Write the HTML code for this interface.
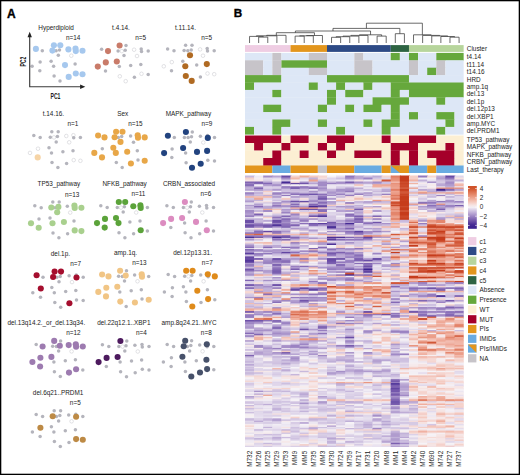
<!DOCTYPE html><html><head><meta charset="utf-8"><style>html,body{margin:0;padding:0;background:#fff;}svg{display:block;font-family:"Liberation Sans",sans-serif}.hm rect{width:10.0px}.hm .lc rect{width:9.11px}</style></head><body><svg width="520" height="475" viewBox="0 0 520 475" fill="#222">
<rect width="520" height="475" fill="#fff"/>
<text x="56.1" y="29.5" text-anchor="middle" font-size="6.4">Hyperdiploid</text>
<text x="80.4" y="39.6" text-anchor="end" font-size="6.4">n=14</text>
<circle cx="42.3" cy="50.8" r="1.75" fill="#b4b4bc"/>
<circle cx="56.1" cy="50.8" r="1.75" fill="#b4b4bc"/>
<circle cx="59.5" cy="50.0" r="1.75" fill="#b4b4bc"/>
<circle cx="58.3" cy="55.3" r="1.75" fill="#b4b4bc"/>
<circle cx="71.3" cy="55.7" r="1.8" fill="#fff" stroke="#cfcfd3" stroke-width="0.6"/>
<circle cx="40.1" cy="62.1" r="1.75" fill="#b4b4bc"/>
<circle cx="51.1" cy="61.2" r="1.75" fill="#b4b4bc"/>
<circle cx="32.1" cy="66.3" r="1.75" fill="#b4b4bc"/>
<circle cx="53.6" cy="66.3" r="1.75" fill="#b4b4bc"/>
<circle cx="75.1" cy="64.1" r="1.75" fill="#b4b4bc"/>
<circle cx="39.8" cy="70.8" r="1.75" fill="#b4b4bc"/>
<circle cx="54.1" cy="76.0" r="1.75" fill="#b4b4bc"/>
<circle cx="60.0" cy="80.9" r="1.75" fill="#b4b4bc"/>
<circle cx="35.9" cy="48.9" r="3.05" fill="#a6c8ee"/>
<circle cx="53.9" cy="45.2" r="3.05" fill="#a6c8ee"/>
<circle cx="60.3" cy="45.2" r="3.05" fill="#a6c8ee"/>
<circle cx="52.4" cy="50.6" r="3.05" fill="#a6c8ee"/>
<circle cx="68.4" cy="49.4" r="3.05" fill="#a6c8ee"/>
<circle cx="75.5" cy="48.6" r="3.05" fill="#a6c8ee"/>
<circle cx="75.8" cy="51.1" r="3.05" fill="#a6c8ee"/>
<circle cx="82.5" cy="50.8" r="3.05" fill="#a6c8ee"/>
<circle cx="65.0" cy="65.1" r="3.05" fill="#a6c8ee"/>
<circle cx="68.7" cy="76.9" r="3.05" fill="#a6c8ee"/>
<circle cx="75.8" cy="73.5" r="3.05" fill="#a6c8ee"/>
<circle cx="82.5" cy="74.2" r="3.05" fill="#a6c8ee"/>
<text x="121.0" y="29.8" text-anchor="middle" font-size="6.4">t.4.14.</text>
<text x="146.1" y="39.9" text-anchor="end" font-size="6.4">n=5</text>
<circle cx="101.6" cy="49.2" r="1.75" fill="#b4b4bc"/>
<circle cx="126.0" cy="45.5" r="1.75" fill="#b4b4bc"/>
<circle cx="118.1" cy="50.9" r="1.75" fill="#b4b4bc"/>
<circle cx="121.8" cy="51.1" r="1.8" fill="#fff" stroke="#cfcfd3" stroke-width="0.6"/>
<circle cx="125.2" cy="50.3" r="1.75" fill="#b4b4bc"/>
<circle cx="124.0" cy="55.6" r="1.75" fill="#b4b4bc"/>
<circle cx="134.1" cy="49.7" r="1.8" fill="#fff" stroke="#cfcfd3" stroke-width="0.6"/>
<circle cx="141.2" cy="48.9" r="1.75" fill="#b4b4bc"/>
<circle cx="141.5" cy="51.4" r="1.75" fill="#b4b4bc"/>
<circle cx="148.2" cy="51.1" r="1.75" fill="#b4b4bc"/>
<circle cx="137.0" cy="56.0" r="1.8" fill="#fff" stroke="#cfcfd3" stroke-width="0.6"/>
<circle cx="119.3" cy="66.6" r="1.75" fill="#b4b4bc"/>
<circle cx="130.7" cy="65.4" r="1.75" fill="#b4b4bc"/>
<circle cx="140.8" cy="64.4" r="1.75" fill="#b4b4bc"/>
<circle cx="105.5" cy="71.1" r="1.75" fill="#b4b4bc"/>
<circle cx="119.8" cy="76.3" r="1.8" fill="#fff" stroke="#cfcfd3" stroke-width="0.6"/>
<circle cx="125.7" cy="81.2" r="1.8" fill="#fff" stroke="#cfcfd3" stroke-width="0.6"/>
<circle cx="134.4" cy="77.2" r="1.75" fill="#b4b4bc"/>
<circle cx="141.5" cy="73.8" r="1.8" fill="#fff" stroke="#cfcfd3" stroke-width="0.6"/>
<circle cx="148.2" cy="74.5" r="1.75" fill="#b4b4bc"/>
<circle cx="108.0" cy="51.1" r="3.05" fill="#c97b69"/>
<circle cx="119.6" cy="45.5" r="3.05" fill="#c97b69"/>
<circle cx="105.8" cy="62.4" r="3.05" fill="#c97b69"/>
<circle cx="116.8" cy="61.5" r="3.05" fill="#c97b69"/>
<circle cx="97.8" cy="66.6" r="3.05" fill="#c97b69"/>
<text x="185.5" y="29.5" text-anchor="middle" font-size="6.4">t.11.14.</text>
<text x="212.1" y="39.6" text-anchor="end" font-size="6.4">n=5</text>
<circle cx="167.6" cy="48.9" r="1.75" fill="#b4b4bc"/>
<circle cx="174.0" cy="50.8" r="1.75" fill="#b4b4bc"/>
<circle cx="185.6" cy="45.2" r="1.75" fill="#b4b4bc"/>
<circle cx="192.0" cy="45.2" r="1.75" fill="#b4b4bc"/>
<circle cx="184.1" cy="50.6" r="1.75" fill="#b4b4bc"/>
<circle cx="187.8" cy="50.8" r="1.75" fill="#b4b4bc"/>
<circle cx="191.2" cy="50.0" r="1.75" fill="#b4b4bc"/>
<circle cx="200.1" cy="49.4" r="1.8" fill="#fff" stroke="#cfcfd3" stroke-width="0.6"/>
<circle cx="207.2" cy="48.6" r="1.75" fill="#b4b4bc"/>
<circle cx="207.5" cy="51.1" r="1.75" fill="#b4b4bc"/>
<circle cx="214.2" cy="50.8" r="1.75" fill="#b4b4bc"/>
<circle cx="203.0" cy="55.7" r="1.8" fill="#fff" stroke="#cfcfd3" stroke-width="0.6"/>
<circle cx="171.8" cy="62.1" r="1.8" fill="#fff" stroke="#cfcfd3" stroke-width="0.6"/>
<circle cx="182.8" cy="61.2" r="1.75" fill="#b4b4bc"/>
<circle cx="163.8" cy="66.3" r="1.8" fill="#fff" stroke="#cfcfd3" stroke-width="0.6"/>
<circle cx="196.7" cy="65.1" r="1.75" fill="#b4b4bc"/>
<circle cx="171.5" cy="70.8" r="1.75" fill="#b4b4bc"/>
<circle cx="200.4" cy="76.9" r="1.75" fill="#b4b4bc"/>
<circle cx="207.5" cy="73.5" r="1.8" fill="#fff" stroke="#cfcfd3" stroke-width="0.6"/>
<circle cx="214.2" cy="74.2" r="1.8" fill="#fff" stroke="#cfcfd3" stroke-width="0.6"/>
<circle cx="190.0" cy="55.3" r="3.05" fill="#b06a22"/>
<circle cx="185.3" cy="66.3" r="3.05" fill="#b06a22"/>
<circle cx="206.8" cy="64.1" r="3.05" fill="#b06a22"/>
<circle cx="185.8" cy="76.0" r="3.05" fill="#b06a22"/>
<circle cx="191.7" cy="80.9" r="3.05" fill="#b06a22"/>
<text x="53.4" y="116.1" text-anchor="middle" font-size="6.4">t.14.16.</text>
<text x="78.3" y="126.2" text-anchor="end" font-size="6.4">n=1</text>
<circle cx="33.8" cy="135.5" r="1.75" fill="#b4b4bc"/>
<circle cx="40.2" cy="137.4" r="1.75" fill="#b4b4bc"/>
<circle cx="51.8" cy="131.8" r="1.75" fill="#b4b4bc"/>
<circle cx="58.2" cy="131.8" r="1.75" fill="#b4b4bc"/>
<circle cx="50.3" cy="137.2" r="1.75" fill="#b4b4bc"/>
<circle cx="54.0" cy="137.4" r="1.8" fill="#fff" stroke="#cfcfd3" stroke-width="0.6"/>
<circle cx="57.4" cy="136.6" r="1.75" fill="#b4b4bc"/>
<circle cx="56.2" cy="141.9" r="1.75" fill="#b4b4bc"/>
<circle cx="66.3" cy="136.0" r="1.8" fill="#fff" stroke="#cfcfd3" stroke-width="0.6"/>
<circle cx="73.4" cy="135.2" r="1.8" fill="#fff" stroke="#cfcfd3" stroke-width="0.6"/>
<circle cx="73.7" cy="137.7" r="1.75" fill="#b4b4bc"/>
<circle cx="80.4" cy="137.4" r="1.75" fill="#b4b4bc"/>
<circle cx="69.2" cy="142.3" r="1.8" fill="#fff" stroke="#cfcfd3" stroke-width="0.6"/>
<circle cx="38.0" cy="148.7" r="1.8" fill="#fff" stroke="#cfcfd3" stroke-width="0.6"/>
<circle cx="49.0" cy="147.8" r="1.75" fill="#b4b4bc"/>
<circle cx="30.0" cy="152.9" r="1.8" fill="#fff" stroke="#cfcfd3" stroke-width="0.6"/>
<circle cx="51.5" cy="152.9" r="1.75" fill="#b4b4bc"/>
<circle cx="62.9" cy="151.7" r="1.75" fill="#b4b4bc"/>
<circle cx="73.0" cy="150.7" r="1.75" fill="#b4b4bc"/>
<circle cx="52.0" cy="162.6" r="1.75" fill="#b4b4bc"/>
<circle cx="57.9" cy="167.5" r="1.75" fill="#b4b4bc"/>
<circle cx="66.6" cy="163.5" r="1.75" fill="#b4b4bc"/>
<circle cx="73.7" cy="160.1" r="1.8" fill="#fff" stroke="#cfcfd3" stroke-width="0.6"/>
<circle cx="80.4" cy="160.8" r="1.8" fill="#fff" stroke="#cfcfd3" stroke-width="0.6"/>
<circle cx="37.7" cy="157.4" r="3.05" fill="#f6d4a6"/>
<text x="122.7" y="116.1" text-anchor="middle" font-size="6.4">Sex</text>
<text x="142.6" y="126.2" text-anchor="end" font-size="6.4">n=15</text>
<circle cx="118.3" cy="137.4" r="1.75" fill="#b4b4bc"/>
<circle cx="121.7" cy="136.6" r="1.75" fill="#b4b4bc"/>
<circle cx="130.6" cy="136.0" r="1.75" fill="#b4b4bc"/>
<circle cx="133.5" cy="142.3" r="1.75" fill="#b4b4bc"/>
<circle cx="102.3" cy="148.7" r="1.75" fill="#b4b4bc"/>
<circle cx="137.3" cy="150.7" r="1.75" fill="#b4b4bc"/>
<circle cx="116.3" cy="162.6" r="1.75" fill="#b4b4bc"/>
<circle cx="122.2" cy="167.5" r="1.75" fill="#b4b4bc"/>
<circle cx="138.0" cy="160.1" r="1.75" fill="#b4b4bc"/>
<circle cx="98.1" cy="135.5" r="3.05" fill="#e8a748"/>
<circle cx="104.5" cy="137.4" r="3.05" fill="#e8a748"/>
<circle cx="116.1" cy="131.8" r="3.05" fill="#e8a748"/>
<circle cx="122.5" cy="131.8" r="3.05" fill="#e8a748"/>
<circle cx="114.6" cy="137.2" r="3.05" fill="#e8a748"/>
<circle cx="120.5" cy="141.9" r="3.05" fill="#e8a748"/>
<circle cx="137.7" cy="135.2" r="3.05" fill="#e8a748"/>
<circle cx="138.0" cy="137.7" r="3.05" fill="#e8a748"/>
<circle cx="144.7" cy="137.4" r="3.05" fill="#e8a748"/>
<circle cx="113.3" cy="147.8" r="3.05" fill="#e8a748"/>
<circle cx="94.3" cy="152.9" r="3.05" fill="#e8a748"/>
<circle cx="115.8" cy="152.9" r="3.05" fill="#e8a748"/>
<circle cx="127.2" cy="151.7" r="3.05" fill="#e8a748"/>
<circle cx="102.0" cy="157.4" r="3.05" fill="#e8a748"/>
<circle cx="130.9" cy="163.5" r="3.05" fill="#e8a748"/>
<circle cx="144.7" cy="160.8" r="3.05" fill="#e8a748"/>
<text x="188.4" y="116.3" text-anchor="middle" font-size="6.4">MAPK_pathway</text>
<text x="212.4" y="126.4" text-anchor="end" font-size="6.4">n=9</text>
<circle cx="174.3" cy="137.6" r="1.75" fill="#b4b4bc"/>
<circle cx="192.3" cy="132.0" r="1.75" fill="#b4b4bc"/>
<circle cx="184.4" cy="137.4" r="1.75" fill="#b4b4bc"/>
<circle cx="188.1" cy="137.6" r="1.75" fill="#b4b4bc"/>
<circle cx="191.5" cy="136.8" r="1.75" fill="#b4b4bc"/>
<circle cx="190.3" cy="142.1" r="1.75" fill="#b4b4bc"/>
<circle cx="200.4" cy="136.2" r="1.75" fill="#b4b4bc"/>
<circle cx="207.5" cy="135.4" r="1.75" fill="#b4b4bc"/>
<circle cx="214.5" cy="137.6" r="1.75" fill="#b4b4bc"/>
<circle cx="203.3" cy="142.5" r="1.8" fill="#fff" stroke="#cfcfd3" stroke-width="0.6"/>
<circle cx="172.1" cy="148.9" r="1.75" fill="#b4b4bc"/>
<circle cx="185.6" cy="153.1" r="1.75" fill="#b4b4bc"/>
<circle cx="171.8" cy="157.6" r="1.75" fill="#b4b4bc"/>
<circle cx="186.1" cy="162.8" r="1.75" fill="#b4b4bc"/>
<circle cx="207.8" cy="160.3" r="1.75" fill="#b4b4bc"/>
<circle cx="214.5" cy="161.0" r="1.75" fill="#b4b4bc"/>
<circle cx="167.9" cy="135.7" r="3.05" fill="#22437f"/>
<circle cx="185.9" cy="132.0" r="3.05" fill="#22437f"/>
<circle cx="207.8" cy="137.9" r="3.05" fill="#22437f"/>
<circle cx="183.1" cy="148.0" r="3.05" fill="#22437f"/>
<circle cx="164.1" cy="153.1" r="3.05" fill="#22437f"/>
<circle cx="197.0" cy="151.9" r="3.05" fill="#22437f"/>
<circle cx="207.1" cy="150.9" r="3.05" fill="#22437f"/>
<circle cx="192.0" cy="167.7" r="3.05" fill="#22437f"/>
<circle cx="200.7" cy="163.7" r="3.05" fill="#22437f"/>
<text x="58.9" y="186.4" text-anchor="middle" font-size="6.4">TP53_pathway</text>
<text x="79.3" y="196.5" text-anchor="end" font-size="6.4">n=13</text>
<circle cx="34.8" cy="205.8" r="1.75" fill="#b4b4bc"/>
<circle cx="41.2" cy="207.7" r="1.75" fill="#b4b4bc"/>
<circle cx="52.8" cy="202.1" r="1.75" fill="#b4b4bc"/>
<circle cx="59.2" cy="202.1" r="1.75" fill="#b4b4bc"/>
<circle cx="55.0" cy="207.7" r="1.75" fill="#b4b4bc"/>
<circle cx="67.3" cy="206.3" r="1.75" fill="#b4b4bc"/>
<circle cx="70.2" cy="212.6" r="1.8" fill="#fff" stroke="#cfcfd3" stroke-width="0.6"/>
<circle cx="39.0" cy="219.0" r="1.75" fill="#b4b4bc"/>
<circle cx="50.0" cy="218.1" r="1.75" fill="#b4b4bc"/>
<circle cx="74.0" cy="221.0" r="1.75" fill="#b4b4bc"/>
<circle cx="53.0" cy="232.9" r="1.75" fill="#b4b4bc"/>
<circle cx="58.9" cy="237.8" r="1.75" fill="#b4b4bc"/>
<circle cx="67.6" cy="233.8" r="1.75" fill="#b4b4bc"/>
<circle cx="51.3" cy="207.5" r="3.05" fill="#a9d08e"/>
<circle cx="58.4" cy="206.9" r="3.05" fill="#a9d08e"/>
<circle cx="57.2" cy="212.2" r="3.05" fill="#a9d08e"/>
<circle cx="74.4" cy="205.5" r="3.05" fill="#a9d08e"/>
<circle cx="74.7" cy="208.0" r="3.05" fill="#a9d08e"/>
<circle cx="81.4" cy="207.7" r="3.05" fill="#a9d08e"/>
<circle cx="31.0" cy="223.2" r="3.05" fill="#a9d08e"/>
<circle cx="52.5" cy="223.2" r="3.05" fill="#a9d08e"/>
<circle cx="63.9" cy="222.0" r="3.05" fill="#a9d08e"/>
<circle cx="38.7" cy="227.7" r="3.05" fill="#a9d08e"/>
<circle cx="74.7" cy="230.4" r="3.05" fill="#a9d08e"/>
<circle cx="81.4" cy="231.1" r="3.05" fill="#a9d08e"/>
<text x="124.6" y="186.3" text-anchor="middle" font-size="6.4">NFKB_pathway</text>
<text x="145.3" y="196.4" text-anchor="end" font-size="6.4">n=11</text>
<circle cx="100.8" cy="205.7" r="1.75" fill="#b4b4bc"/>
<circle cx="107.2" cy="207.6" r="1.75" fill="#b4b4bc"/>
<circle cx="117.3" cy="207.4" r="1.75" fill="#b4b4bc"/>
<circle cx="121.0" cy="207.6" r="1.8" fill="#fff" stroke="#cfcfd3" stroke-width="0.6"/>
<circle cx="124.4" cy="206.8" r="1.75" fill="#b4b4bc"/>
<circle cx="123.2" cy="212.1" r="1.75" fill="#b4b4bc"/>
<circle cx="147.4" cy="207.6" r="1.75" fill="#b4b4bc"/>
<circle cx="136.2" cy="212.5" r="1.8" fill="#fff" stroke="#cfcfd3" stroke-width="0.6"/>
<circle cx="129.9" cy="221.9" r="1.75" fill="#b4b4bc"/>
<circle cx="140.0" cy="220.9" r="1.75" fill="#b4b4bc"/>
<circle cx="119.0" cy="232.8" r="1.75" fill="#b4b4bc"/>
<circle cx="124.9" cy="237.7" r="1.75" fill="#b4b4bc"/>
<circle cx="133.6" cy="233.7" r="1.75" fill="#b4b4bc"/>
<circle cx="147.4" cy="231.0" r="1.75" fill="#b4b4bc"/>
<circle cx="118.8" cy="202.0" r="3.05" fill="#5ba33a"/>
<circle cx="125.2" cy="202.0" r="3.05" fill="#5ba33a"/>
<circle cx="133.3" cy="206.2" r="3.05" fill="#5ba33a"/>
<circle cx="140.4" cy="205.4" r="3.05" fill="#5ba33a"/>
<circle cx="140.7" cy="207.9" r="3.05" fill="#5ba33a"/>
<circle cx="105.0" cy="218.9" r="3.05" fill="#5ba33a"/>
<circle cx="116.0" cy="218.0" r="3.05" fill="#5ba33a"/>
<circle cx="97.0" cy="223.1" r="3.05" fill="#5ba33a"/>
<circle cx="118.5" cy="223.1" r="3.05" fill="#5ba33a"/>
<circle cx="104.7" cy="227.6" r="3.05" fill="#5ba33a"/>
<circle cx="140.7" cy="230.3" r="3.05" fill="#5ba33a"/>
<text x="189.0" y="186.3" text-anchor="middle" font-size="6.4">CRBN_associated</text>
<text x="211.4" y="196.4" text-anchor="end" font-size="6.4">n=6</text>
<circle cx="166.9" cy="205.7" r="1.75" fill="#b4b4bc"/>
<circle cx="173.3" cy="207.6" r="1.75" fill="#b4b4bc"/>
<circle cx="191.3" cy="202.0" r="1.75" fill="#b4b4bc"/>
<circle cx="183.4" cy="207.4" r="1.75" fill="#b4b4bc"/>
<circle cx="187.1" cy="207.6" r="1.8" fill="#fff" stroke="#cfcfd3" stroke-width="0.6"/>
<circle cx="190.5" cy="206.8" r="1.75" fill="#b4b4bc"/>
<circle cx="189.3" cy="212.1" r="1.75" fill="#b4b4bc"/>
<circle cx="199.4" cy="206.2" r="1.75" fill="#b4b4bc"/>
<circle cx="206.5" cy="205.4" r="1.75" fill="#b4b4bc"/>
<circle cx="206.8" cy="207.9" r="1.75" fill="#b4b4bc"/>
<circle cx="213.5" cy="207.6" r="1.75" fill="#b4b4bc"/>
<circle cx="202.3" cy="212.5" r="1.8" fill="#fff" stroke="#cfcfd3" stroke-width="0.6"/>
<circle cx="184.6" cy="223.1" r="1.75" fill="#b4b4bc"/>
<circle cx="206.1" cy="220.9" r="1.75" fill="#b4b4bc"/>
<circle cx="170.8" cy="227.6" r="1.75" fill="#b4b4bc"/>
<circle cx="185.1" cy="232.8" r="1.75" fill="#b4b4bc"/>
<circle cx="191.0" cy="237.7" r="1.75" fill="#b4b4bc"/>
<circle cx="199.7" cy="233.7" r="1.75" fill="#b4b4bc"/>
<circle cx="213.5" cy="231.0" r="1.75" fill="#b4b4bc"/>
<circle cx="184.9" cy="202.0" r="3.05" fill="#dc8cc0"/>
<circle cx="171.1" cy="218.9" r="3.05" fill="#dc8cc0"/>
<circle cx="182.1" cy="218.0" r="3.05" fill="#dc8cc0"/>
<circle cx="163.1" cy="223.1" r="3.05" fill="#dc8cc0"/>
<circle cx="196.0" cy="221.9" r="3.05" fill="#dc8cc0"/>
<circle cx="206.8" cy="230.3" r="3.05" fill="#dc8cc0"/>
<text x="60.4" y="255.9" text-anchor="middle" font-size="6.4">del.1p.</text>
<text x="81.1" y="266.0" text-anchor="end" font-size="6.4">n=7</text>
<circle cx="43.0" cy="277.2" r="1.75" fill="#b4b4bc"/>
<circle cx="56.8" cy="277.2" r="1.75" fill="#b4b4bc"/>
<circle cx="60.2" cy="276.4" r="1.75" fill="#b4b4bc"/>
<circle cx="59.0" cy="281.7" r="1.75" fill="#b4b4bc"/>
<circle cx="69.1" cy="275.8" r="1.75" fill="#b4b4bc"/>
<circle cx="76.2" cy="275.0" r="1.75" fill="#b4b4bc"/>
<circle cx="83.2" cy="277.2" r="1.75" fill="#b4b4bc"/>
<circle cx="72.0" cy="282.1" r="1.8" fill="#fff" stroke="#cfcfd3" stroke-width="0.6"/>
<circle cx="51.8" cy="287.6" r="1.75" fill="#b4b4bc"/>
<circle cx="32.8" cy="292.7" r="1.75" fill="#b4b4bc"/>
<circle cx="54.3" cy="292.7" r="1.75" fill="#b4b4bc"/>
<circle cx="65.7" cy="291.5" r="1.75" fill="#b4b4bc"/>
<circle cx="75.8" cy="290.5" r="1.75" fill="#b4b4bc"/>
<circle cx="40.5" cy="297.2" r="1.75" fill="#b4b4bc"/>
<circle cx="54.8" cy="302.4" r="1.75" fill="#b4b4bc"/>
<circle cx="60.7" cy="307.3" r="1.75" fill="#b4b4bc"/>
<circle cx="76.5" cy="299.9" r="1.75" fill="#b4b4bc"/>
<circle cx="83.2" cy="300.6" r="1.75" fill="#b4b4bc"/>
<circle cx="36.6" cy="275.3" r="3.05" fill="#a50e2e"/>
<circle cx="54.6" cy="271.6" r="3.05" fill="#a50e2e"/>
<circle cx="61.0" cy="271.6" r="3.05" fill="#a50e2e"/>
<circle cx="53.1" cy="277.0" r="3.05" fill="#a50e2e"/>
<circle cx="76.5" cy="277.5" r="3.05" fill="#a50e2e"/>
<circle cx="40.8" cy="288.5" r="3.05" fill="#a50e2e"/>
<circle cx="69.4" cy="303.3" r="3.05" fill="#a50e2e"/>
<text x="125.5" y="255.1" text-anchor="middle" font-size="6.4">amp.1q.</text>
<text x="146.6" y="265.2" text-anchor="end" font-size="6.4">n=13</text>
<circle cx="126.5" cy="270.8" r="1.75" fill="#b4b4bc"/>
<circle cx="118.6" cy="276.2" r="1.75" fill="#b4b4bc"/>
<circle cx="122.3" cy="276.4" r="1.75" fill="#b4b4bc"/>
<circle cx="124.5" cy="280.9" r="1.75" fill="#b4b4bc"/>
<circle cx="134.6" cy="275.0" r="1.75" fill="#b4b4bc"/>
<circle cx="148.7" cy="276.4" r="1.75" fill="#b4b4bc"/>
<circle cx="137.5" cy="281.3" r="1.8" fill="#fff" stroke="#cfcfd3" stroke-width="0.6"/>
<circle cx="119.8" cy="291.9" r="1.75" fill="#b4b4bc"/>
<circle cx="131.2" cy="290.7" r="1.75" fill="#b4b4bc"/>
<circle cx="141.3" cy="289.7" r="1.75" fill="#b4b4bc"/>
<circle cx="126.2" cy="306.5" r="1.75" fill="#b4b4bc"/>
<circle cx="142.0" cy="299.1" r="1.75" fill="#b4b4bc"/>
<circle cx="102.1" cy="274.5" r="3.05" fill="#f1c585"/>
<circle cx="108.5" cy="276.4" r="3.05" fill="#f1c585"/>
<circle cx="120.1" cy="270.8" r="3.05" fill="#f1c585"/>
<circle cx="125.7" cy="275.6" r="3.05" fill="#f1c585"/>
<circle cx="141.7" cy="274.2" r="3.05" fill="#f1c585"/>
<circle cx="142.0" cy="276.7" r="3.05" fill="#f1c585"/>
<circle cx="106.3" cy="287.7" r="3.05" fill="#f1c585"/>
<circle cx="117.3" cy="286.8" r="3.05" fill="#f1c585"/>
<circle cx="98.3" cy="291.9" r="3.05" fill="#f1c585"/>
<circle cx="106.0" cy="296.4" r="3.05" fill="#f1c585"/>
<circle cx="120.3" cy="301.6" r="3.05" fill="#f1c585"/>
<circle cx="134.9" cy="302.5" r="3.05" fill="#f1c585"/>
<circle cx="148.7" cy="299.8" r="3.05" fill="#f1c585"/>
<text x="192.6" y="255.1" text-anchor="middle" font-size="6.4">del.12p13.31.</text>
<text x="212.7" y="265.2" text-anchor="end" font-size="6.4">n=7</text>
<circle cx="168.2" cy="274.5" r="1.75" fill="#b4b4bc"/>
<circle cx="174.6" cy="276.4" r="1.75" fill="#b4b4bc"/>
<circle cx="184.7" cy="276.2" r="1.75" fill="#b4b4bc"/>
<circle cx="188.4" cy="276.4" r="1.8" fill="#fff" stroke="#cfcfd3" stroke-width="0.6"/>
<circle cx="191.8" cy="275.6" r="1.75" fill="#b4b4bc"/>
<circle cx="190.6" cy="280.9" r="1.75" fill="#b4b4bc"/>
<circle cx="200.7" cy="275.0" r="1.75" fill="#b4b4bc"/>
<circle cx="208.1" cy="276.7" r="1.75" fill="#b4b4bc"/>
<circle cx="203.6" cy="281.3" r="1.8" fill="#fff" stroke="#cfcfd3" stroke-width="0.6"/>
<circle cx="172.4" cy="287.7" r="1.75" fill="#b4b4bc"/>
<circle cx="183.4" cy="286.8" r="1.75" fill="#b4b4bc"/>
<circle cx="164.4" cy="291.9" r="1.75" fill="#b4b4bc"/>
<circle cx="185.9" cy="291.9" r="1.75" fill="#b4b4bc"/>
<circle cx="207.4" cy="289.7" r="1.75" fill="#b4b4bc"/>
<circle cx="172.1" cy="296.4" r="1.75" fill="#b4b4bc"/>
<circle cx="186.4" cy="301.6" r="1.75" fill="#b4b4bc"/>
<circle cx="201.0" cy="302.5" r="1.75" fill="#b4b4bc"/>
<circle cx="214.8" cy="299.8" r="1.75" fill="#b4b4bc"/>
<circle cx="186.2" cy="270.8" r="3.05" fill="#df8b1b"/>
<circle cx="192.6" cy="270.8" r="3.05" fill="#df8b1b"/>
<circle cx="207.8" cy="274.2" r="3.05" fill="#df8b1b"/>
<circle cx="214.8" cy="276.4" r="3.05" fill="#df8b1b"/>
<circle cx="197.3" cy="290.7" r="3.05" fill="#df8b1b"/>
<circle cx="192.3" cy="306.5" r="3.05" fill="#df8b1b"/>
<circle cx="208.1" cy="299.1" r="3.05" fill="#df8b1b"/>
<text x="46.3" y="325.2" text-anchor="middle" font-size="6.4">del.13q14.2._or_del.13q34.</text>
<text x="80.7" y="335.3" text-anchor="end" font-size="6.4">n=12</text>
<circle cx="36.2" cy="344.6" r="1.75" fill="#b4b4bc"/>
<circle cx="60.6" cy="340.9" r="1.75" fill="#b4b4bc"/>
<circle cx="52.7" cy="346.3" r="1.75" fill="#b4b4bc"/>
<circle cx="56.4" cy="346.5" r="1.75" fill="#b4b4bc"/>
<circle cx="58.6" cy="351.0" r="1.75" fill="#b4b4bc"/>
<circle cx="71.6" cy="351.4" r="1.8" fill="#fff" stroke="#cfcfd3" stroke-width="0.6"/>
<circle cx="53.9" cy="362.0" r="1.75" fill="#b4b4bc"/>
<circle cx="65.3" cy="360.8" r="1.75" fill="#b4b4bc"/>
<circle cx="75.4" cy="359.8" r="1.75" fill="#b4b4bc"/>
<circle cx="54.4" cy="371.7" r="1.75" fill="#b4b4bc"/>
<circle cx="60.3" cy="376.6" r="1.75" fill="#b4b4bc"/>
<circle cx="82.8" cy="369.9" r="1.75" fill="#b4b4bc"/>
<circle cx="42.6" cy="346.5" r="3.05" fill="#9d7bb0"/>
<circle cx="54.2" cy="340.9" r="3.05" fill="#9d7bb0"/>
<circle cx="59.8" cy="345.7" r="3.05" fill="#9d7bb0"/>
<circle cx="68.7" cy="345.1" r="3.05" fill="#9d7bb0"/>
<circle cx="75.8" cy="344.3" r="3.05" fill="#9d7bb0"/>
<circle cx="76.1" cy="346.8" r="3.05" fill="#9d7bb0"/>
<circle cx="82.8" cy="346.5" r="3.05" fill="#9d7bb0"/>
<circle cx="40.4" cy="357.8" r="3.05" fill="#9d7bb0"/>
<circle cx="51.4" cy="356.9" r="3.05" fill="#9d7bb0"/>
<circle cx="32.4" cy="362.0" r="3.05" fill="#9d7bb0"/>
<circle cx="40.1" cy="366.5" r="3.05" fill="#9d7bb0"/>
<circle cx="69.0" cy="372.6" r="3.05" fill="#9d7bb0"/>
<circle cx="76.1" cy="369.2" r="3.05" fill="#9d7bb0"/>
<text x="123.8" y="325.3" text-anchor="middle" font-size="6.4">del.22q12.1..XBP1</text>
<text x="146.9" y="335.4" text-anchor="end" font-size="6.4">n=4</text>
<circle cx="102.4" cy="344.7" r="1.75" fill="#b4b4bc"/>
<circle cx="108.8" cy="346.6" r="1.75" fill="#b4b4bc"/>
<circle cx="126.8" cy="341.0" r="1.75" fill="#b4b4bc"/>
<circle cx="118.9" cy="346.4" r="1.75" fill="#b4b4bc"/>
<circle cx="122.6" cy="346.6" r="1.8" fill="#fff" stroke="#cfcfd3" stroke-width="0.6"/>
<circle cx="126.0" cy="345.8" r="1.75" fill="#b4b4bc"/>
<circle cx="124.8" cy="351.1" r="1.75" fill="#b4b4bc"/>
<circle cx="134.9" cy="345.2" r="1.75" fill="#b4b4bc"/>
<circle cx="142.0" cy="344.4" r="1.75" fill="#b4b4bc"/>
<circle cx="142.3" cy="346.9" r="1.75" fill="#b4b4bc"/>
<circle cx="149.0" cy="346.6" r="1.75" fill="#b4b4bc"/>
<circle cx="137.8" cy="351.5" r="1.8" fill="#fff" stroke="#cfcfd3" stroke-width="0.6"/>
<circle cx="120.1" cy="362.1" r="1.75" fill="#b4b4bc"/>
<circle cx="131.5" cy="360.9" r="1.75" fill="#b4b4bc"/>
<circle cx="141.6" cy="359.9" r="1.75" fill="#b4b4bc"/>
<circle cx="106.3" cy="366.6" r="1.75" fill="#b4b4bc"/>
<circle cx="120.6" cy="371.8" r="1.75" fill="#b4b4bc"/>
<circle cx="126.5" cy="376.7" r="1.75" fill="#b4b4bc"/>
<circle cx="135.2" cy="372.7" r="1.75" fill="#b4b4bc"/>
<circle cx="142.3" cy="369.3" r="1.75" fill="#b4b4bc"/>
<circle cx="149.0" cy="370.0" r="1.75" fill="#b4b4bc"/>
<circle cx="120.4" cy="341.0" r="3.05" fill="#4d1a5e"/>
<circle cx="106.6" cy="357.9" r="3.05" fill="#4d1a5e"/>
<circle cx="117.6" cy="357.0" r="3.05" fill="#4d1a5e"/>
<circle cx="98.6" cy="362.1" r="3.05" fill="#4d1a5e"/>
<text x="189.1" y="325.1" text-anchor="middle" font-size="6.4">amp.8q24.21..MYC</text>
<text x="211.7" y="335.2" text-anchor="end" font-size="6.4">n=8</text>
<circle cx="167.2" cy="344.5" r="1.75" fill="#b4b4bc"/>
<circle cx="173.6" cy="346.4" r="1.75" fill="#b4b4bc"/>
<circle cx="191.6" cy="340.8" r="1.75" fill="#b4b4bc"/>
<circle cx="187.4" cy="346.4" r="1.75" fill="#b4b4bc"/>
<circle cx="190.8" cy="345.6" r="1.75" fill="#b4b4bc"/>
<circle cx="189.6" cy="350.9" r="1.75" fill="#b4b4bc"/>
<circle cx="199.7" cy="345.0" r="1.75" fill="#b4b4bc"/>
<circle cx="207.1" cy="346.7" r="1.75" fill="#b4b4bc"/>
<circle cx="213.8" cy="346.4" r="1.75" fill="#b4b4bc"/>
<circle cx="202.6" cy="351.3" r="1.8" fill="#fff" stroke="#cfcfd3" stroke-width="0.6"/>
<circle cx="171.4" cy="357.7" r="1.75" fill="#b4b4bc"/>
<circle cx="163.4" cy="361.9" r="1.75" fill="#b4b4bc"/>
<circle cx="184.9" cy="361.9" r="1.75" fill="#b4b4bc"/>
<circle cx="196.3" cy="360.7" r="1.75" fill="#b4b4bc"/>
<circle cx="171.1" cy="366.4" r="1.75" fill="#b4b4bc"/>
<circle cx="185.4" cy="371.6" r="1.75" fill="#b4b4bc"/>
<circle cx="213.8" cy="369.8" r="1.75" fill="#b4b4bc"/>
<circle cx="185.2" cy="340.8" r="3.05" fill="#47516a"/>
<circle cx="183.7" cy="346.2" r="3.05" fill="#47516a"/>
<circle cx="206.8" cy="344.2" r="3.05" fill="#47516a"/>
<circle cx="182.4" cy="356.8" r="3.05" fill="#47516a"/>
<circle cx="206.4" cy="359.7" r="3.05" fill="#47516a"/>
<circle cx="191.3" cy="376.5" r="3.05" fill="#47516a"/>
<circle cx="200.0" cy="372.5" r="3.05" fill="#47516a"/>
<circle cx="207.1" cy="369.1" r="3.05" fill="#47516a"/>
<text x="58.1" y="395.1" text-anchor="middle" font-size="6.4">del.6q21..PRDM1</text>
<text x="80.7" y="405.2" text-anchor="end" font-size="6.4">n=5</text>
<circle cx="36.2" cy="414.5" r="1.75" fill="#b4b4bc"/>
<circle cx="42.6" cy="416.4" r="1.75" fill="#b4b4bc"/>
<circle cx="54.2" cy="410.8" r="1.75" fill="#b4b4bc"/>
<circle cx="60.6" cy="410.8" r="1.75" fill="#b4b4bc"/>
<circle cx="56.4" cy="416.4" r="1.75" fill="#b4b4bc"/>
<circle cx="59.8" cy="415.6" r="1.75" fill="#b4b4bc"/>
<circle cx="58.6" cy="420.9" r="1.75" fill="#b4b4bc"/>
<circle cx="68.7" cy="415.0" r="1.75" fill="#b4b4bc"/>
<circle cx="75.8" cy="414.2" r="1.75" fill="#b4b4bc"/>
<circle cx="82.8" cy="416.4" r="1.75" fill="#b4b4bc"/>
<circle cx="71.6" cy="421.3" r="1.8" fill="#fff" stroke="#cfcfd3" stroke-width="0.6"/>
<circle cx="51.4" cy="426.8" r="1.75" fill="#b4b4bc"/>
<circle cx="32.4" cy="431.9" r="1.75" fill="#b4b4bc"/>
<circle cx="53.9" cy="431.9" r="1.75" fill="#b4b4bc"/>
<circle cx="65.3" cy="430.7" r="1.75" fill="#b4b4bc"/>
<circle cx="75.4" cy="429.7" r="1.75" fill="#b4b4bc"/>
<circle cx="40.1" cy="436.4" r="1.75" fill="#b4b4bc"/>
<circle cx="54.4" cy="441.6" r="1.75" fill="#b4b4bc"/>
<circle cx="60.3" cy="446.5" r="1.75" fill="#b4b4bc"/>
<circle cx="69.0" cy="442.5" r="1.75" fill="#b4b4bc"/>
<circle cx="52.7" cy="416.2" r="3.05" fill="#bd8a45"/>
<circle cx="76.1" cy="416.7" r="3.05" fill="#bd8a45"/>
<circle cx="40.4" cy="427.7" r="3.05" fill="#bd8a45"/>
<circle cx="76.1" cy="439.1" r="3.05" fill="#bd8a45"/>
<circle cx="82.8" cy="439.8" r="3.05" fill="#bd8a45"/>
<path d="M29.7 35.5 V86.7 H81" fill="none" stroke="#3a3a3a" stroke-width="1.15"/>
<path d="M29.7 31.8 L27.5 37.2 L31.9 37.2 Z" fill="#222"/>
<path d="M85.3 86.7 L80.1 84.5 L80.1 88.9 Z" fill="#222"/>
<text x="0" y="0" text-anchor="middle" font-size="9.6" font-weight="bold" transform="translate(55.5 99.0) scale(0.53 1)">PC1</text>
<text x="0" y="0" text-anchor="middle" font-size="9.6" font-weight="bold" transform="translate(25.7 61.6) rotate(-90) scale(0.53 1)">PC2</text>
<rect x="245.00" y="45.1" width="45.55" height="6.8" fill="#efcde3"/>
<rect x="290.55" y="45.1" width="36.44" height="6.8" fill="#e3961d"/>
<rect x="326.99" y="45.1" width="63.77" height="6.8" fill="#2d4a86"/>
<rect x="390.76" y="45.1" width="18.22" height="6.8" fill="#2e6443"/>
<rect x="408.98" y="45.1" width="54.66" height="6.8" fill="#b7d59c"/>
<rect x="245.00" y="52.90" width="27.33" height="7.70" fill="#dde7f6"/>
<rect x="272.33" y="52.90" width="9.11" height="7.70" fill="#c7c4c9"/>
<rect x="281.44" y="52.90" width="27.33" height="7.70" fill="#dde7f6"/>
<rect x="308.77" y="52.90" width="18.22" height="7.70" fill="#c7c4c9"/>
<rect x="326.99" y="52.90" width="27.33" height="7.70" fill="#dde7f6"/>
<rect x="354.32" y="52.90" width="9.11" height="7.70" fill="#c7c4c9"/>
<rect x="363.43" y="52.90" width="27.33" height="7.70" fill="#dde7f6"/>
<rect x="390.76" y="52.90" width="9.11" height="7.70" fill="#66a83c"/>
<rect x="399.87" y="52.90" width="9.11" height="7.70" fill="#dde7f6"/>
<rect x="408.98" y="52.90" width="9.11" height="7.70" fill="#66a83c"/>
<rect x="418.09" y="52.90" width="18.22" height="7.70" fill="#dde7f6"/>
<rect x="436.31" y="52.90" width="27.33" height="7.70" fill="#66a83c"/>
<rect x="245.00" y="60.30" width="18.22" height="7.70" fill="#c7c4c9"/>
<rect x="263.22" y="60.30" width="9.11" height="7.70" fill="#dde7f6"/>
<rect x="272.33" y="60.30" width="9.11" height="7.70" fill="#c7c4c9"/>
<rect x="281.44" y="60.30" width="45.55" height="7.70" fill="#66a83c"/>
<rect x="326.99" y="60.30" width="27.33" height="7.70" fill="#dde7f6"/>
<rect x="354.32" y="60.30" width="18.22" height="7.70" fill="#c7c4c9"/>
<rect x="372.54" y="60.30" width="36.44" height="7.70" fill="#dde7f6"/>
<rect x="408.98" y="60.30" width="9.11" height="7.70" fill="#c7c4c9"/>
<rect x="418.09" y="60.30" width="18.22" height="7.70" fill="#dde7f6"/>
<rect x="436.31" y="60.30" width="9.11" height="7.70" fill="#c7c4c9"/>
<rect x="445.42" y="60.30" width="18.22" height="7.70" fill="#dde7f6"/>
<rect x="245.00" y="67.70" width="18.22" height="7.70" fill="#c7c4c9"/>
<rect x="263.22" y="67.70" width="9.11" height="7.70" fill="#dde7f6"/>
<rect x="272.33" y="67.70" width="9.11" height="7.70" fill="#c7c4c9"/>
<rect x="281.44" y="67.70" width="27.33" height="7.70" fill="#dde7f6"/>
<rect x="308.77" y="67.70" width="18.22" height="7.70" fill="#c7c4c9"/>
<rect x="326.99" y="67.70" width="27.33" height="7.70" fill="#dde7f6"/>
<rect x="354.32" y="67.70" width="18.22" height="7.70" fill="#c7c4c9"/>
<rect x="372.54" y="67.70" width="36.44" height="7.70" fill="#dde7f6"/>
<rect x="408.98" y="67.70" width="9.11" height="7.70" fill="#c7c4c9"/>
<rect x="418.09" y="67.70" width="9.11" height="7.70" fill="#dde7f6"/>
<rect x="427.20" y="67.70" width="9.11" height="7.70" fill="#66a83c"/>
<rect x="436.31" y="67.70" width="9.11" height="7.70" fill="#c7c4c9"/>
<rect x="445.42" y="67.70" width="18.22" height="7.70" fill="#dde7f6"/>
<rect x="245.00" y="75.10" width="36.44" height="7.70" fill="#66a83c"/>
<rect x="281.44" y="75.10" width="45.55" height="7.70" fill="#dde7f6"/>
<rect x="326.99" y="75.10" width="81.99" height="7.70" fill="#66a83c"/>
<rect x="408.98" y="75.10" width="54.66" height="7.70" fill="#dde7f6"/>
<rect x="245.00" y="82.50" width="9.11" height="7.70" fill="#66a83c"/>
<rect x="254.11" y="82.50" width="54.66" height="7.70" fill="#dde7f6"/>
<rect x="308.77" y="82.50" width="9.11" height="7.70" fill="#66a83c"/>
<rect x="317.88" y="82.50" width="18.22" height="7.70" fill="#dde7f6"/>
<rect x="336.10" y="82.50" width="9.11" height="7.70" fill="#66a83c"/>
<rect x="345.21" y="82.50" width="18.22" height="7.70" fill="#dde7f6"/>
<rect x="363.43" y="82.50" width="9.11" height="7.70" fill="#66a83c"/>
<rect x="372.54" y="82.50" width="18.22" height="7.70" fill="#dde7f6"/>
<rect x="390.76" y="82.50" width="72.88" height="7.70" fill="#66a83c"/>
<rect x="245.00" y="89.90" width="27.33" height="7.70" fill="#dde7f6"/>
<rect x="272.33" y="89.90" width="9.11" height="7.70" fill="#66a83c"/>
<rect x="281.44" y="89.90" width="45.55" height="7.70" fill="#dde7f6"/>
<rect x="326.99" y="89.90" width="9.11" height="7.70" fill="#66a83c"/>
<rect x="336.10" y="89.90" width="9.11" height="7.70" fill="#dde7f6"/>
<rect x="345.21" y="89.90" width="18.22" height="7.70" fill="#66a83c"/>
<rect x="363.43" y="89.90" width="27.33" height="7.70" fill="#dde7f6"/>
<rect x="390.76" y="89.90" width="9.11" height="7.70" fill="#66a83c"/>
<rect x="399.87" y="89.90" width="9.11" height="7.70" fill="#dde7f6"/>
<rect x="408.98" y="89.90" width="54.66" height="7.70" fill="#66a83c"/>
<rect x="245.00" y="97.30" width="81.99" height="7.70" fill="#dde7f6"/>
<rect x="326.99" y="97.30" width="9.11" height="7.70" fill="#66a83c"/>
<rect x="336.10" y="97.30" width="36.44" height="7.70" fill="#dde7f6"/>
<rect x="372.54" y="97.30" width="36.44" height="7.70" fill="#66a83c"/>
<rect x="408.98" y="97.30" width="27.33" height="7.70" fill="#dde7f6"/>
<rect x="436.31" y="97.30" width="9.11" height="7.70" fill="#66a83c"/>
<rect x="445.42" y="97.30" width="18.22" height="7.70" fill="#dde7f6"/>
<rect x="245.00" y="104.70" width="18.22" height="7.70" fill="#dde7f6"/>
<rect x="263.22" y="104.70" width="18.22" height="7.70" fill="#66a83c"/>
<rect x="281.44" y="104.70" width="36.44" height="7.70" fill="#dde7f6"/>
<rect x="317.88" y="104.70" width="9.11" height="7.70" fill="#66a83c"/>
<rect x="326.99" y="104.70" width="18.22" height="7.70" fill="#dde7f6"/>
<rect x="345.21" y="104.70" width="9.11" height="7.70" fill="#66a83c"/>
<rect x="354.32" y="104.70" width="9.11" height="7.70" fill="#dde7f6"/>
<rect x="363.43" y="104.70" width="18.22" height="7.70" fill="#66a83c"/>
<rect x="381.65" y="104.70" width="9.11" height="7.70" fill="#dde7f6"/>
<rect x="390.76" y="104.70" width="9.11" height="7.70" fill="#66a83c"/>
<rect x="399.87" y="104.70" width="63.77" height="7.70" fill="#dde7f6"/>
<rect x="245.00" y="112.10" width="145.76" height="7.70" fill="#dde7f6"/>
<rect x="390.76" y="112.10" width="9.11" height="7.70" fill="#66a83c"/>
<rect x="399.87" y="112.10" width="9.11" height="7.70" fill="#dde7f6"/>
<rect x="408.98" y="112.10" width="9.11" height="7.70" fill="#66a83c"/>
<rect x="418.09" y="112.10" width="18.22" height="7.70" fill="#dde7f6"/>
<rect x="436.31" y="112.10" width="18.22" height="7.70" fill="#66a83c"/>
<rect x="454.53" y="112.10" width="9.11" height="7.70" fill="#dde7f6"/>
<rect x="245.00" y="119.50" width="27.33" height="7.70" fill="#dde7f6"/>
<rect x="272.33" y="119.50" width="18.22" height="7.70" fill="#66a83c"/>
<rect x="290.55" y="119.50" width="27.33" height="7.70" fill="#dde7f6"/>
<rect x="317.88" y="119.50" width="9.11" height="7.70" fill="#66a83c"/>
<rect x="326.99" y="119.50" width="36.44" height="7.70" fill="#dde7f6"/>
<rect x="363.43" y="119.50" width="9.11" height="7.70" fill="#66a83c"/>
<rect x="372.54" y="119.50" width="9.11" height="7.70" fill="#dde7f6"/>
<rect x="381.65" y="119.50" width="18.22" height="7.70" fill="#66a83c"/>
<rect x="399.87" y="119.50" width="45.55" height="7.70" fill="#dde7f6"/>
<rect x="445.42" y="119.50" width="9.11" height="7.70" fill="#66a83c"/>
<rect x="454.53" y="119.50" width="9.11" height="7.70" fill="#dde7f6"/>
<rect x="245.00" y="126.90" width="9.11" height="7.70" fill="#66a83c"/>
<rect x="254.11" y="126.90" width="18.22" height="7.70" fill="#dde7f6"/>
<rect x="272.33" y="126.90" width="9.11" height="7.70" fill="#66a83c"/>
<rect x="281.44" y="126.90" width="54.66" height="7.70" fill="#dde7f6"/>
<rect x="336.10" y="126.90" width="9.11" height="7.70" fill="#66a83c"/>
<rect x="345.21" y="126.90" width="36.44" height="7.70" fill="#dde7f6"/>
<rect x="381.65" y="126.90" width="9.11" height="7.70" fill="#66a83c"/>
<rect x="390.76" y="126.90" width="45.55" height="7.70" fill="#dde7f6"/>
<rect x="436.31" y="126.90" width="9.11" height="7.70" fill="#66a83c"/>
<rect x="445.42" y="126.90" width="18.22" height="7.70" fill="#dde7f6"/>
<rect x="245.00" y="135.50" width="36.44" height="7.80" fill="#a5002a"/>
<rect x="281.44" y="135.50" width="9.11" height="7.80" fill="#fcefd3"/>
<rect x="290.55" y="135.50" width="18.22" height="7.80" fill="#a5002a"/>
<rect x="308.77" y="135.50" width="18.22" height="7.80" fill="#fcefd3"/>
<rect x="326.99" y="135.50" width="27.33" height="7.80" fill="#a5002a"/>
<rect x="354.32" y="135.50" width="27.33" height="7.80" fill="#fcefd3"/>
<rect x="381.65" y="135.50" width="9.11" height="7.80" fill="#a5002a"/>
<rect x="390.76" y="135.50" width="18.22" height="7.80" fill="#fcefd3"/>
<rect x="408.98" y="135.50" width="27.33" height="7.80" fill="#a5002a"/>
<rect x="436.31" y="135.50" width="27.33" height="7.80" fill="#fcefd3"/>
<rect x="245.00" y="143.00" width="9.11" height="7.80" fill="#fcefd3"/>
<rect x="254.11" y="143.00" width="9.11" height="7.80" fill="#a5002a"/>
<rect x="263.22" y="143.00" width="18.22" height="7.80" fill="#fcefd3"/>
<rect x="281.44" y="143.00" width="9.11" height="7.80" fill="#a5002a"/>
<rect x="290.55" y="143.00" width="27.33" height="7.80" fill="#fcefd3"/>
<rect x="317.88" y="143.00" width="9.11" height="7.80" fill="#a5002a"/>
<rect x="326.99" y="143.00" width="9.11" height="7.80" fill="#fcefd3"/>
<rect x="336.10" y="143.00" width="9.11" height="7.80" fill="#a5002a"/>
<rect x="345.21" y="143.00" width="45.55" height="7.80" fill="#fcefd3"/>
<rect x="390.76" y="143.00" width="27.33" height="7.80" fill="#a5002a"/>
<rect x="418.09" y="143.00" width="27.33" height="7.80" fill="#fcefd3"/>
<rect x="445.42" y="143.00" width="9.11" height="7.80" fill="#a5002a"/>
<rect x="454.53" y="143.00" width="9.11" height="7.80" fill="#fcefd3"/>
<rect x="245.00" y="150.50" width="27.33" height="7.80" fill="#fcefd3"/>
<rect x="272.33" y="150.50" width="9.11" height="7.80" fill="#a5002a"/>
<rect x="281.44" y="150.50" width="18.22" height="7.80" fill="#fcefd3"/>
<rect x="299.66" y="150.50" width="9.11" height="7.80" fill="#a5002a"/>
<rect x="308.77" y="150.50" width="18.22" height="7.80" fill="#fcefd3"/>
<rect x="326.99" y="150.50" width="9.11" height="7.80" fill="#a5002a"/>
<rect x="336.10" y="150.50" width="18.22" height="7.80" fill="#fcefd3"/>
<rect x="354.32" y="150.50" width="27.33" height="7.80" fill="#a5002a"/>
<rect x="381.65" y="150.50" width="9.11" height="7.80" fill="#fcefd3"/>
<rect x="390.76" y="150.50" width="9.11" height="7.80" fill="#a5002a"/>
<rect x="399.87" y="150.50" width="9.11" height="7.80" fill="#fcefd3"/>
<rect x="408.98" y="150.50" width="9.11" height="7.80" fill="#a5002a"/>
<rect x="418.09" y="150.50" width="9.11" height="7.80" fill="#fcefd3"/>
<rect x="427.20" y="150.50" width="27.33" height="7.80" fill="#a5002a"/>
<rect x="454.53" y="150.50" width="9.11" height="7.80" fill="#fcefd3"/>
<rect x="245.00" y="158.00" width="18.22" height="7.80" fill="#fcefd3"/>
<rect x="263.22" y="158.00" width="18.22" height="7.80" fill="#a5002a"/>
<rect x="281.44" y="158.00" width="109.32" height="7.80" fill="#fcefd3"/>
<rect x="390.76" y="158.00" width="9.11" height="7.80" fill="#a5002a"/>
<rect x="399.87" y="158.00" width="9.11" height="7.80" fill="#fcefd3"/>
<rect x="408.98" y="158.00" width="9.11" height="7.80" fill="#a5002a"/>
<rect x="418.09" y="158.00" width="18.22" height="7.80" fill="#fcefd3"/>
<rect x="436.31" y="158.00" width="18.22" height="7.80" fill="#a5002a"/>
<rect x="454.53" y="158.00" width="9.11" height="7.80" fill="#fcefd3"/>
<rect x="245.00" y="165.50" width="27.33" height="7.50" fill="#e3961d"/>
<rect x="272.33" y="165.50" width="18.22" height="7.50" fill="#69abe1"/>
<rect x="290.55" y="165.50" width="27.33" height="7.50" fill="#e3961d"/>
<rect x="317.88" y="165.50" width="9.11" height="7.50" fill="#c7c4c9"/>
<rect x="326.99" y="165.50" width="27.33" height="7.50" fill="#e3961d"/>
<rect x="354.32" y="165.50" width="27.33" height="7.50" fill="#69abe1"/>
<rect x="381.65" y="165.50" width="9.11" height="7.50" fill="#e3961d"/>
<rect x="390.76" y="165.50" width="9.11" height="7.50" fill="#69abe1"/>
<path d="M390.76 165.50 H399.87 V173.00 Z" fill="#e3961d"/>
<rect x="399.87" y="165.50" width="9.11" height="7.50" fill="#e3961d"/>
<rect x="408.98" y="165.50" width="18.22" height="7.50" fill="#69abe1"/>
<rect x="427.20" y="165.50" width="9.11" height="7.50" fill="#e3961d"/>
<rect x="436.31" y="165.50" width="27.33" height="7.50" fill="#69abe1"/>
<text x="466.8" y="51.20" font-size="6.4">Cluster</text>
<text x="466.8" y="59.30" font-size="6.4">t4.14</text>
<text x="466.8" y="66.70" font-size="6.4">t11.14</text>
<text x="466.8" y="74.10" font-size="6.4">t14.16</text>
<text x="466.8" y="81.50" font-size="6.4">HRD</text>
<text x="466.8" y="88.90" font-size="6.4">amp.1q</text>
<text x="466.8" y="96.30" font-size="6.4">del.13</text>
<text x="466.8" y="103.70" font-size="6.4">del.1p</text>
<text x="466.8" y="111.10" font-size="6.4">del.12p13</text>
<text x="466.8" y="118.50" font-size="6.4">del.XBP1</text>
<text x="466.8" y="125.90" font-size="6.4">amp.MYC</text>
<text x="466.8" y="133.30" font-size="6.4">del.PRDM1</text>
<text x="466.8" y="141.95" font-size="6.4">TP53_pathway</text>
<text x="466.8" y="149.45" font-size="6.4">MAPK_pathway</text>
<text x="466.8" y="156.95" font-size="6.4">NFKB_pathway</text>
<text x="466.8" y="164.45" font-size="6.4">CRBN_pathway</text>
<text x="466.8" y="171.95" font-size="6.4">Last_therapy</text>
<path d="M258.67 43.00V37.10H267.77V43.00M249.56 43.00V36.40H263.22V37.10M256.39 36.40V35.80H276.88V43.00M266.64 35.80V35.30H286.00V43.00M295.11 43.00V36.10H304.21V43.00M299.66 36.10V35.80H313.32V43.00M306.49 35.80V35.50H322.44V43.00M276.32 35.30V32.70H314.46V35.50M331.54 43.00V37.30H340.65V43.00M336.10 37.30V36.70H349.76V43.00M342.93 36.70V36.10H358.88V43.00M350.90 36.10V35.40H367.99V43.00M377.10 43.00V36.10H386.20V43.00M359.44 35.40V34.80H381.65V36.10M295.39 32.70V31.00H370.55V34.80M395.31 43.00V33.70H404.42V43.00M332.97 31.00V28.40H399.87V33.70M449.98 43.00V37.20H459.08V43.00M440.87 43.00V36.50H454.53V37.20M431.75 43.00V35.90H447.70V36.50M422.64 43.00V35.40H439.73V35.90M413.53 43.00V34.80H431.19V35.40M366.42 28.40V23.20H422.36V34.80" fill="none" stroke="#3a3a3a" stroke-width="0.75"/>
<g class="hm">
<g transform="translate(245.00 0)">
<rect y="175.50" height="2.90" fill="#c8b9dc"/>
<rect y="177.50" height="2.90" fill="#f5d3cd"/>
<rect y="179.50" height="2.90" fill="#f6e3e2"/>
<rect y="181.50" height="2.30" fill="#7f64b2"/>
<rect y="182.90" height="2.20" fill="#987fc0"/>
<rect y="184.20" height="2.90" fill="#866cb6"/>
<rect y="186.20" height="2.20" fill="#b7a4d2"/>
<rect y="187.50" height="2.20" fill="#c5b5da"/>
<rect y="188.80" height="2.90" fill="#b7a4d2"/>
<rect y="190.80" height="2.40" fill="#f6f2f5"/>
<rect y="192.30" height="2.20" fill="#9177bc"/>
<rect y="193.60" height="2.20" fill="#ae99cd"/>
<rect y="194.90" height="2.10" fill="#bfaed7"/>
<rect y="196.10" height="2.60" fill="#f1b9ac"/>
<rect y="197.80" height="2.90" fill="#d2c6e2"/>
<rect y="199.80" height="2.20" fill="#beadd7"/>
<rect y="201.10" height="2.10" fill="#af9bce"/>
<rect y="202.30" height="2.20" fill="#e2daeb"/>
<rect y="203.60" height="2.10" fill="#ece6f1"/>
<rect y="204.80" height="2.10" fill="#b09cce"/>
<rect y="206.00" height="2.30" fill="#c7b8dc"/>
<rect y="207.40" height="2.30" fill="#c2b1d8"/>
<rect y="208.80" height="2.10" fill="#d4c7e3"/>
<rect y="210.00" height="2.90" fill="#a38cc6"/>
<rect y="212.00" height="2.40" fill="#a892ca"/>
<rect y="213.50" height="2.90" fill="#b5a1d1"/>
<rect y="215.50" height="2.30" fill="#9076bc"/>
<rect y="216.90" height="2.30" fill="#e0d7ea"/>
<rect y="218.30" height="2.40" fill="#c4b4da"/>
<rect y="219.80" height="2.90" fill="#6d50a8"/>
<rect y="221.80" height="2.10" fill="#6d51a8"/>
<rect y="223.00" height="2.20" fill="#a58fc8"/>
<rect y="224.30" height="2.90" fill="#6b4ea7"/>
<rect y="226.30" height="2.40" fill="#7659ad"/>
<rect y="227.80" height="2.60" fill="#ede7f2"/>
<rect y="229.50" height="2.20" fill="#cabbdd"/>
<rect y="230.80" height="2.40" fill="#d2c5e2"/>
<rect y="232.30" height="2.40" fill="#9177bc"/>
<rect y="233.80" height="2.30" fill="#e28166"/>
<rect y="235.20" height="2.40" fill="#9c84c3"/>
<rect y="236.70" height="2.10" fill="#3d2390"/>
<rect y="237.90" height="2.20" fill="#c5b5da"/>
<rect y="239.20" height="2.20" fill="#a68fc8"/>
<rect y="240.50" height="2.60" fill="#ebe5f1"/>
<rect y="242.20" height="2.20" fill="#f6dcd9"/>
<rect y="243.50" height="2.40" fill="#bfadd7"/>
<rect y="245.00" height="2.60" fill="#a791c9"/>
<rect y="246.70" height="2.20" fill="#876cb7"/>
<rect y="248.00" height="2.10" fill="#dfd6ea"/>
<rect y="249.20" height="2.10" fill="#6f53a9"/>
<rect y="250.40" height="2.30" fill="#ae9acd"/>
<rect y="251.80" height="2.30" fill="#937abe"/>
<rect y="253.20" height="2.10" fill="#4e3298"/>
<rect y="254.40" height="2.90" fill="#cfc2e0"/>
<rect y="256.40" height="2.60" fill="#6447a3"/>
<rect y="258.10" height="2.60" fill="#6b4ea7"/>
<rect y="259.80" height="2.60" fill="#52369a"/>
<rect y="261.50" height="2.20" fill="#6043a1"/>
<rect y="262.80" height="2.30" fill="#ac96cc"/>
<rect y="264.20" height="2.40" fill="#8f75bb"/>
<rect y="265.70" height="2.40" fill="#a690c8"/>
<rect y="267.20" height="2.20" fill="#d2c5e2"/>
<rect y="268.50" height="2.40" fill="#7357ac"/>
<rect y="270.00" height="2.40" fill="#856ab5"/>
<rect y="271.50" height="2.10" fill="#c0afd8"/>
<rect y="272.70" height="2.60" fill="#b4a0d1"/>
<rect y="274.40" height="2.20" fill="#a088c5"/>
<rect y="275.70" height="2.20" fill="#e3dbec"/>
<rect y="277.00" height="2.30" fill="#e6deee"/>
<rect y="278.40" height="2.20" fill="#f0ecf4"/>
<rect y="279.70" height="2.10" fill="#775bae"/>
<rect y="280.90" height="2.10" fill="#d6cbe5"/>
<rect y="282.10" height="2.90" fill="#ded4e9"/>
<rect y="284.10" height="2.90" fill="#775bae"/>
<rect y="286.10" height="2.20" fill="#d1c4e2"/>
<rect y="287.40" height="2.30" fill="#7457ac"/>
<rect y="288.80" height="2.90" fill="#ded4e9"/>
<rect y="290.80" height="2.30" fill="#f6d8d4"/>
<rect y="292.20" height="2.20" fill="#f5d7d2"/>
<rect y="293.50" height="2.60" fill="#d7cbe5"/>
<rect y="295.20" height="2.60" fill="#d2c6e2"/>
<rect y="296.90" height="2.20" fill="#aa95cb"/>
<rect y="298.20" height="2.60" fill="#f6e4e3"/>
<rect y="299.90" height="2.60" fill="#d1c4e2"/>
<rect y="301.60" height="2.30" fill="#cdbfdf"/>
<rect y="303.00" height="2.10" fill="#f2bdb0"/>
<rect y="304.20" height="2.40" fill="#d2c6e2"/>
<rect y="305.70" height="2.40" fill="#c4b3da"/>
<rect y="307.20" height="2.10" fill="#d5c9e4"/>
<rect y="308.40" height="2.30" fill="#efac9b"/>
<rect y="309.80" height="2.20" fill="#efaf9f"/>
<rect y="311.10" height="2.60" fill="#7357ac"/>
<rect y="312.80" height="2.20" fill="#f6e0de"/>
<rect y="314.10" height="2.10" fill="#9e87c4"/>
<rect y="315.30" height="2.20" fill="#9278bd"/>
<rect y="316.60" height="2.30" fill="#9b82c2"/>
<rect y="318.00" height="2.90" fill="#eee8f2"/>
<rect y="320.00" height="2.40" fill="#6e51a9"/>
<rect y="321.50" height="2.10" fill="#a38cc7"/>
<rect y="322.70" height="2.40" fill="#9e86c4"/>
<rect y="324.20" height="2.40" fill="#bba9d5"/>
<rect y="325.70" height="2.60" fill="#b09cce"/>
<rect y="327.40" height="2.20" fill="#a993ca"/>
<rect y="328.70" height="2.20" fill="#e4dced"/>
<rect y="330.00" height="2.20" fill="#cabcde"/>
<rect y="331.30" height="2.30" fill="#c2b1d9"/>
<rect y="332.70" height="2.30" fill="#866bb6"/>
<rect y="334.10" height="2.10" fill="#d6cbe5"/>
<rect y="335.30" height="2.40" fill="#937abe"/>
<rect y="336.80" height="2.40" fill="#dad0e7"/>
<rect y="338.30" height="2.90" fill="#f6ebec"/>
<rect y="340.30" height="2.20" fill="#a38cc7"/>
<rect y="341.60" height="2.90" fill="#e8e1ef"/>
<rect y="343.60" height="2.20" fill="#d0c2e1"/>
<rect y="344.90" height="2.60" fill="#f6e9e9"/>
<rect y="346.60" height="2.20" fill="#e2daeb"/>
<rect y="347.90" height="2.20" fill="#eee8f2"/>
<rect y="349.20" height="2.40" fill="#c7b7db"/>
<rect y="350.70" height="2.30" fill="#f6f1f4"/>
<rect y="352.10" height="2.30" fill="#d3c6e2"/>
<rect y="353.50" height="2.30" fill="#d6cae4"/>
<rect y="354.90" height="2.20" fill="#8166b3"/>
<rect y="356.20" height="2.30" fill="#c3b2d9"/>
<rect y="357.60" height="2.60" fill="#d8cde6"/>
<rect y="359.30" height="2.90" fill="#d2c6e2"/>
<rect y="361.30" height="2.20" fill="#c2b1d9"/>
<rect y="362.60" height="2.60" fill="#d9cfe6"/>
<rect y="364.30" height="2.10" fill="#ad98cd"/>
<rect y="365.50" height="2.20" fill="#ddd2e8"/>
<rect y="366.80" height="2.20" fill="#cdbfdf"/>
<rect y="368.10" height="2.10" fill="#d3c6e3"/>
<rect y="369.30" height="2.40" fill="#c2b2d9"/>
<rect y="370.80" height="2.30" fill="#d8cde6"/>
<rect y="372.20" height="2.60" fill="#c8b9dc"/>
<rect y="373.90" height="2.40" fill="#d2c6e2"/>
<rect y="375.40" height="2.60" fill="#f6e2e0"/>
<rect y="377.10" height="2.90" fill="#f6f1f4"/>
<rect y="379.10" height="2.40" fill="#ece6f1"/>
<rect y="380.60" height="2.20" fill="#f5d7d2"/>
<rect y="381.90" height="2.20" fill="#e5deed"/>
<rect y="383.20" height="2.20" fill="#d0c3e1"/>
<rect y="384.50" height="2.30" fill="#dcd2e8"/>
<rect y="385.90" height="2.90" fill="#e6dfee"/>
<rect y="387.90" height="2.20" fill="#f6eced"/>
<rect y="389.20" height="2.40" fill="#e1d9eb"/>
<rect y="390.70" height="2.30" fill="#ded5e9"/>
<rect y="392.10" height="2.30" fill="#f6f1f4"/>
<rect y="393.50" height="2.10" fill="#e3dbec"/>
<rect y="394.70" height="2.20" fill="#f6f0f3"/>
<rect y="396.00" height="2.40" fill="#b5a1d1"/>
<rect y="397.50" height="2.60" fill="#cfc2e0"/>
<rect y="399.20" height="2.90" fill="#f6f2f6"/>
<rect y="401.20" height="2.30" fill="#d2c5e2"/>
<rect y="402.60" height="2.10" fill="#d1c4e2"/>
<rect y="403.80" height="2.10" fill="#f2edf4"/>
<rect y="405.00" height="2.20" fill="#c9badd"/>
<rect y="406.30" height="2.40" fill="#f6e2e0"/>
<rect y="407.80" height="2.40" fill="#ccbedf"/>
<rect y="409.30" height="2.20" fill="#e0d7ea"/>
<rect y="410.60" height="2.20" fill="#eae4f0"/>
<rect y="411.90" height="2.40" fill="#cec0df"/>
<rect y="413.40" height="2.20" fill="#f3f0f5"/>
<rect y="414.70" height="2.90" fill="#f6eff1"/>
<rect y="416.70" height="2.40" fill="#f3f0f5"/>
<rect y="418.20" height="2.20" fill="#c9bbdd"/>
<rect y="419.50" height="2.10" fill="#cbbcde"/>
<rect y="420.70" height="2.10" fill="#e4dbec"/>
<rect y="421.90" height="2.90" fill="#ded5e9"/>
<rect y="423.90" height="2.40" fill="#f6eaeb"/>
<rect y="425.40" height="2.40" fill="#f5d7d2"/>
<rect y="426.90" height="2.10" fill="#f6ecee"/>
<rect y="428.10" height="2.10" fill="#f6e3e2"/>
<rect y="429.30" height="2.20" fill="#ede8f2"/>
<rect y="430.60" height="2.90" fill="#f6edef"/>
<rect y="432.60" height="2.20" fill="#e7e0ee"/>
<rect y="433.90" height="2.40" fill="#f4f1f6"/>
<rect y="435.40" height="2.40" fill="#f6e5e5"/>
<rect y="436.90" height="2.20" fill="#d8cde6"/>
<rect y="438.20" height="2.20" fill="#d0c3e1"/>
<rect y="439.50" height="2.20" fill="#ece6f1"/>
<rect y="440.80" height="2.90" fill="#efeaf3"/>
<rect y="442.80" height="2.40" fill="#f6eff1"/>
<rect y="444.30" height="2.10" fill="#f6eced"/>
<rect y="445.50" height="1.50" fill="#e3dbec"/>
<rect y="446.80" height="0.20" fill="#beadd7"/>
</g>
<g transform="translate(254.11 0)">
<rect y="175.50" height="2.90" fill="#efeaf3"/>
<rect y="177.50" height="2.90" fill="#f6eff2"/>
<rect y="179.50" height="2.90" fill="#f6e8e9"/>
<rect y="181.50" height="2.30" fill="#7b5fb0"/>
<rect y="182.90" height="2.20" fill="#8368b5"/>
<rect y="184.20" height="2.90" fill="#f2edf5"/>
<rect y="186.20" height="2.20" fill="#c4b3da"/>
<rect y="187.50" height="2.20" fill="#765aad"/>
<rect y="188.80" height="2.90" fill="#ad98cc"/>
<rect y="190.80" height="2.40" fill="#ddd3e9"/>
<rect y="192.30" height="2.20" fill="#baa7d4"/>
<rect y="193.60" height="2.20" fill="#d1c4e2"/>
<rect y="194.90" height="2.10" fill="#cabcde"/>
<rect y="196.10" height="2.60" fill="#f3c1b5"/>
<rect y="197.80" height="2.90" fill="#eea896"/>
<rect y="199.80" height="2.20" fill="#c4b4da"/>
<rect y="201.10" height="2.10" fill="#f6e2e1"/>
<rect y="202.30" height="2.20" fill="#dcd2e8"/>
<rect y="203.60" height="2.10" fill="#b09ccf"/>
<rect y="204.80" height="2.10" fill="#b9a7d4"/>
<rect y="206.00" height="2.30" fill="#8468b5"/>
<rect y="207.40" height="2.30" fill="#c0afd8"/>
<rect y="208.80" height="2.10" fill="#dcd2e8"/>
<rect y="210.00" height="2.90" fill="#c6b7db"/>
<rect y="212.00" height="2.40" fill="#f6e6e6"/>
<rect y="213.50" height="2.90" fill="#7d61b1"/>
<rect y="215.50" height="2.30" fill="#d6cae4"/>
<rect y="216.90" height="2.30" fill="#f2edf4"/>
<rect y="218.30" height="2.40" fill="#beadd7"/>
<rect y="219.80" height="2.90" fill="#c9bbdd"/>
<rect y="221.80" height="2.10" fill="#c1b1d8"/>
<rect y="223.00" height="2.20" fill="#9f87c4"/>
<rect y="224.30" height="2.90" fill="#8266b4"/>
<rect y="226.30" height="2.40" fill="#a189c5"/>
<rect y="227.80" height="2.60" fill="#f6e2e1"/>
<rect y="229.50" height="2.20" fill="#b6a3d2"/>
<rect y="230.80" height="2.40" fill="#886eb7"/>
<rect y="232.30" height="2.40" fill="#9178bd"/>
<rect y="233.80" height="2.30" fill="#d76445"/>
<rect y="235.20" height="2.40" fill="#a18ac6"/>
<rect y="236.70" height="2.10" fill="#694ca6"/>
<rect y="237.90" height="2.20" fill="#f6dcd9"/>
<rect y="239.20" height="2.20" fill="#cabcde"/>
<rect y="240.50" height="2.60" fill="#f1ecf4"/>
<rect y="242.20" height="2.20" fill="#f1b8aa"/>
<rect y="243.50" height="2.40" fill="#ece7f1"/>
<rect y="245.00" height="2.60" fill="#d9cee6"/>
<rect y="246.70" height="2.20" fill="#d4c8e3"/>
<rect y="248.00" height="2.10" fill="#f6f0f3"/>
<rect y="249.20" height="2.10" fill="#9178bc"/>
<rect y="250.40" height="2.30" fill="#ad98cd"/>
<rect y="251.80" height="2.30" fill="#e1d8eb"/>
<rect y="253.20" height="2.10" fill="#8469b5"/>
<rect y="254.40" height="2.90" fill="#a690c9"/>
<rect y="256.40" height="2.60" fill="#e9e3f0"/>
<rect y="258.10" height="2.60" fill="#7053aa"/>
<rect y="259.80" height="2.60" fill="#f6e0de"/>
<rect y="261.50" height="2.20" fill="#af9acd"/>
<rect y="262.80" height="2.30" fill="#cabbdd"/>
<rect y="264.20" height="2.40" fill="#d0c3e1"/>
<rect y="265.70" height="2.40" fill="#f3c1b6"/>
<rect y="267.20" height="2.20" fill="#b6a3d2"/>
<rect y="268.50" height="2.40" fill="#c6b6db"/>
<rect y="270.00" height="2.40" fill="#a089c5"/>
<rect y="271.50" height="2.10" fill="#f6e6e6"/>
<rect y="272.70" height="2.60" fill="#d2c5e2"/>
<rect y="274.40" height="2.20" fill="#eca18d"/>
<rect y="275.70" height="2.20" fill="#f6e1e0"/>
<rect y="277.00" height="2.30" fill="#d6cbe5"/>
<rect y="278.40" height="2.20" fill="#f6dcd9"/>
<rect y="279.70" height="2.10" fill="#d2c5e2"/>
<rect y="280.90" height="2.10" fill="#e1d8eb"/>
<rect y="282.10" height="2.90" fill="#f6dfdc"/>
<rect y="284.10" height="2.90" fill="#9c84c3"/>
<rect y="286.10" height="2.20" fill="#b9a7d4"/>
<rect y="287.40" height="2.30" fill="#b5a2d1"/>
<rect y="288.80" height="2.90" fill="#f1b7a9"/>
<rect y="290.80" height="2.30" fill="#ae9acd"/>
<rect y="292.20" height="2.20" fill="#e99882"/>
<rect y="293.50" height="2.60" fill="#f6ebec"/>
<rect y="295.20" height="2.60" fill="#f5d6d1"/>
<rect y="296.90" height="2.20" fill="#9b82c2"/>
<rect y="298.20" height="2.60" fill="#e07b60"/>
<rect y="299.90" height="2.60" fill="#f5d2cc"/>
<rect y="301.60" height="2.30" fill="#dfd6ea"/>
<rect y="303.00" height="2.10" fill="#c8b8dc"/>
<rect y="304.20" height="2.40" fill="#f4cdc5"/>
<rect y="305.70" height="2.40" fill="#cfc2e0"/>
<rect y="307.20" height="2.10" fill="#c0afd8"/>
<rect y="308.40" height="2.30" fill="#f1b9ac"/>
<rect y="309.80" height="2.20" fill="#f6dad7"/>
<rect y="311.10" height="2.60" fill="#ae9acd"/>
<rect y="312.80" height="2.20" fill="#b29fd0"/>
<rect y="314.10" height="2.10" fill="#a28bc6"/>
<rect y="315.30" height="2.20" fill="#ede7f2"/>
<rect y="316.60" height="2.30" fill="#f6dbd7"/>
<rect y="318.00" height="2.90" fill="#e3846a"/>
<rect y="320.00" height="2.40" fill="#7155aa"/>
<rect y="321.50" height="2.10" fill="#a58ec8"/>
<rect y="322.70" height="2.40" fill="#b39fd0"/>
<rect y="324.20" height="2.40" fill="#efeaf3"/>
<rect y="325.70" height="2.60" fill="#f6f2f5"/>
<rect y="327.40" height="2.20" fill="#b9a6d3"/>
<rect y="328.70" height="2.20" fill="#b7a4d2"/>
<rect y="330.00" height="2.20" fill="#a58fc8"/>
<rect y="331.30" height="2.30" fill="#c3b2d9"/>
<rect y="332.70" height="2.30" fill="#ad98cd"/>
<rect y="334.10" height="2.10" fill="#7c60b0"/>
<rect y="335.30" height="2.40" fill="#f5d2cc"/>
<rect y="336.80" height="2.40" fill="#f0b2a3"/>
<rect y="338.30" height="2.90" fill="#f0b2a3"/>
<rect y="340.30" height="2.20" fill="#f5f2f6"/>
<rect y="341.60" height="2.90" fill="#e9e2ef"/>
<rect y="343.60" height="2.20" fill="#ece6f1"/>
<rect y="344.90" height="2.60" fill="#a28bc6"/>
<rect y="346.60" height="2.20" fill="#9f88c4"/>
<rect y="347.90" height="2.20" fill="#f6e9ea"/>
<rect y="349.20" height="2.40" fill="#d4c8e3"/>
<rect y="350.70" height="2.30" fill="#beacd6"/>
<rect y="352.10" height="2.30" fill="#b29dcf"/>
<rect y="353.50" height="2.30" fill="#b7a3d2"/>
<rect y="354.90" height="2.20" fill="#e1d8eb"/>
<rect y="356.20" height="2.30" fill="#f3eff5"/>
<rect y="357.60" height="2.60" fill="#dcd2e8"/>
<rect y="359.30" height="2.90" fill="#e0d7ea"/>
<rect y="361.30" height="2.20" fill="#e8e2ef"/>
<rect y="362.60" height="2.60" fill="#dbd1e8"/>
<rect y="364.30" height="2.10" fill="#dad0e7"/>
<rect y="365.50" height="2.20" fill="#d9cee6"/>
<rect y="366.80" height="2.20" fill="#f6eff1"/>
<rect y="368.10" height="2.10" fill="#ded5e9"/>
<rect y="369.30" height="2.40" fill="#ded5e9"/>
<rect y="370.80" height="2.30" fill="#f6e2e1"/>
<rect y="372.20" height="2.60" fill="#cec0e0"/>
<rect y="373.90" height="2.40" fill="#e4dced"/>
<rect y="375.40" height="2.60" fill="#f5d8d3"/>
<rect y="377.10" height="2.90" fill="#f6dedb"/>
<rect y="379.10" height="2.40" fill="#f6e4e3"/>
<rect y="380.60" height="2.20" fill="#f6e4e3"/>
<rect y="381.90" height="2.20" fill="#efeaf3"/>
<rect y="383.20" height="2.20" fill="#f6e5e4"/>
<rect y="384.50" height="2.30" fill="#f1edf4"/>
<rect y="385.90" height="2.90" fill="#f6f0f4"/>
<rect y="387.90" height="2.20" fill="#f6dfdc"/>
<rect y="389.20" height="2.40" fill="#e4dded"/>
<rect y="390.70" height="2.30" fill="#a993ca"/>
<rect y="392.10" height="2.30" fill="#f1ecf4"/>
<rect y="393.50" height="2.10" fill="#b39fd0"/>
<rect y="394.70" height="2.20" fill="#f6e4e3"/>
<rect y="396.00" height="2.40" fill="#d8cce5"/>
<rect y="397.50" height="2.60" fill="#f6e1df"/>
<rect y="399.20" height="2.90" fill="#f0ebf3"/>
<rect y="401.20" height="2.30" fill="#dbd0e7"/>
<rect y="402.60" height="2.10" fill="#ded4e9"/>
<rect y="403.80" height="2.10" fill="#d1c4e1"/>
<rect y="405.00" height="2.20" fill="#e7dfee"/>
<rect y="406.30" height="2.40" fill="#eae4f0"/>
<rect y="407.80" height="2.40" fill="#dcd2e8"/>
<rect y="409.30" height="2.20" fill="#f6eaeb"/>
<rect y="410.60" height="2.20" fill="#dfd6ea"/>
<rect y="411.90" height="2.40" fill="#e1d9eb"/>
<rect y="413.40" height="2.20" fill="#e2d9eb"/>
<rect y="414.70" height="2.90" fill="#e4dced"/>
<rect y="416.70" height="2.40" fill="#e9e3f0"/>
<rect y="418.20" height="2.20" fill="#dacfe7"/>
<rect y="419.50" height="2.10" fill="#dcd2e8"/>
<rect y="420.70" height="2.10" fill="#b9a6d4"/>
<rect y="421.90" height="2.90" fill="#ddd3e8"/>
<rect y="423.90" height="2.40" fill="#f4f0f6"/>
<rect y="425.40" height="2.40" fill="#f3eff5"/>
<rect y="426.90" height="2.10" fill="#f2eef5"/>
<rect y="428.10" height="2.10" fill="#f0ebf3"/>
<rect y="429.30" height="2.20" fill="#bfaed7"/>
<rect y="430.60" height="2.90" fill="#ebe4f0"/>
<rect y="432.60" height="2.20" fill="#f6edef"/>
<rect y="433.90" height="2.40" fill="#d8cde6"/>
<rect y="435.40" height="2.40" fill="#dfd6ea"/>
<rect y="436.90" height="2.20" fill="#e6dfee"/>
<rect y="438.20" height="2.20" fill="#b9a7d4"/>
<rect y="439.50" height="2.20" fill="#e3dbec"/>
<rect y="440.80" height="2.90" fill="#f6e7e7"/>
<rect y="442.80" height="2.40" fill="#ddd4e9"/>
<rect y="444.30" height="2.10" fill="#e1d9eb"/>
<rect y="445.50" height="1.50" fill="#e9e3f0"/>
<rect y="446.80" height="0.20" fill="#c9badd"/>
</g>
<g transform="translate(263.22 0)">
<rect y="175.50" height="2.90" fill="#a28bc6"/>
<rect y="177.50" height="2.90" fill="#e3dbec"/>
<rect y="179.50" height="2.90" fill="#d9cee6"/>
<rect y="181.50" height="2.30" fill="#b29ed0"/>
<rect y="182.90" height="2.20" fill="#8368b5"/>
<rect y="184.20" height="2.90" fill="#b4a0d0"/>
<rect y="186.20" height="2.20" fill="#dcd1e8"/>
<rect y="187.50" height="2.20" fill="#ddd3e9"/>
<rect y="188.80" height="2.90" fill="#c8b8dc"/>
<rect y="190.80" height="2.40" fill="#f5cec7"/>
<rect y="192.30" height="2.20" fill="#ebe5f1"/>
<rect y="193.60" height="2.20" fill="#f5d4ce"/>
<rect y="194.90" height="2.10" fill="#bfadd7"/>
<rect y="196.10" height="2.60" fill="#f2bbae"/>
<rect y="197.80" height="2.90" fill="#e3daec"/>
<rect y="199.80" height="2.20" fill="#f0ebf3"/>
<rect y="201.10" height="2.10" fill="#f6e2e1"/>
<rect y="202.30" height="2.20" fill="#d2c6e2"/>
<rect y="203.60" height="2.10" fill="#ede7f2"/>
<rect y="204.80" height="2.10" fill="#dcd2e8"/>
<rect y="206.00" height="2.30" fill="#b9a7d4"/>
<rect y="207.40" height="2.30" fill="#b8a6d3"/>
<rect y="208.80" height="2.10" fill="#efae9d"/>
<rect y="210.00" height="2.90" fill="#a48dc7"/>
<rect y="212.00" height="2.40" fill="#f6edef"/>
<rect y="213.50" height="2.90" fill="#efeaf3"/>
<rect y="215.50" height="2.30" fill="#c7b7dc"/>
<rect y="216.90" height="2.30" fill="#f5cfc8"/>
<rect y="218.30" height="2.40" fill="#f4f1f6"/>
<rect y="219.80" height="2.90" fill="#bba9d5"/>
<rect y="221.80" height="2.10" fill="#f1ecf4"/>
<rect y="223.00" height="2.20" fill="#c4b4da"/>
<rect y="224.30" height="2.90" fill="#775aad"/>
<rect y="226.30" height="2.40" fill="#795daf"/>
<rect y="227.80" height="2.60" fill="#f5f2f7"/>
<rect y="229.50" height="2.20" fill="#f2eef5"/>
<rect y="230.80" height="2.40" fill="#6447a3"/>
<rect y="232.30" height="2.40" fill="#f5d7d3"/>
<rect y="233.80" height="2.30" fill="#f1b9ac"/>
<rect y="235.20" height="2.40" fill="#9076bc"/>
<rect y="236.70" height="2.10" fill="#ac97cc"/>
<rect y="237.90" height="2.20" fill="#e1d8eb"/>
<rect y="239.20" height="2.20" fill="#f5f1f6"/>
<rect y="240.50" height="2.60" fill="#f3eff5"/>
<rect y="242.20" height="2.20" fill="#f0b1a2"/>
<rect y="243.50" height="2.40" fill="#f6dad6"/>
<rect y="245.00" height="2.60" fill="#beacd6"/>
<rect y="246.70" height="2.20" fill="#8569b5"/>
<rect y="248.00" height="2.10" fill="#d8cde6"/>
<rect y="249.20" height="2.10" fill="#c6b6db"/>
<rect y="250.40" height="2.30" fill="#9e86c4"/>
<rect y="251.80" height="2.30" fill="#c9badd"/>
<rect y="253.20" height="2.10" fill="#8166b3"/>
<rect y="254.40" height="2.90" fill="#ede8f2"/>
<rect y="256.40" height="2.60" fill="#e2d9eb"/>
<rect y="258.10" height="2.60" fill="#b4a0d1"/>
<rect y="259.80" height="2.60" fill="#a58fc8"/>
<rect y="261.50" height="2.20" fill="#9981c1"/>
<rect y="262.80" height="2.30" fill="#9d85c3"/>
<rect y="264.20" height="2.40" fill="#e9e2ef"/>
<rect y="265.70" height="2.40" fill="#d8cce5"/>
<rect y="267.20" height="2.20" fill="#e4dcec"/>
<rect y="268.50" height="2.40" fill="#d6cae4"/>
<rect y="270.00" height="2.40" fill="#b29ecf"/>
<rect y="271.50" height="2.10" fill="#ae99cd"/>
<rect y="272.70" height="2.60" fill="#cabbdd"/>
<rect y="274.40" height="2.20" fill="#f2bbae"/>
<rect y="275.70" height="2.20" fill="#e3dbec"/>
<rect y="277.00" height="2.30" fill="#cfc2e0"/>
<rect y="278.40" height="2.20" fill="#f6eef0"/>
<rect y="279.70" height="2.10" fill="#a089c5"/>
<rect y="280.90" height="2.10" fill="#d2c5e2"/>
<rect y="282.10" height="2.90" fill="#ded4e9"/>
<rect y="284.10" height="2.90" fill="#c2b1d9"/>
<rect y="286.10" height="2.20" fill="#a38cc7"/>
<rect y="287.40" height="2.30" fill="#bfaed7"/>
<rect y="288.80" height="2.90" fill="#c1b0d8"/>
<rect y="290.80" height="2.30" fill="#c1b0d8"/>
<rect y="292.20" height="2.20" fill="#eb9e8a"/>
<rect y="293.50" height="2.60" fill="#896fb8"/>
<rect y="295.20" height="2.60" fill="#f4c7bd"/>
<rect y="296.90" height="2.20" fill="#cdbfdf"/>
<rect y="298.20" height="2.60" fill="#f2bfb3"/>
<rect y="299.90" height="2.60" fill="#d8cde6"/>
<rect y="301.60" height="2.30" fill="#efeaf3"/>
<rect y="303.00" height="2.10" fill="#bdabd6"/>
<rect y="304.20" height="2.40" fill="#f2eef5"/>
<rect y="305.70" height="2.40" fill="#e3dbec"/>
<rect y="307.20" height="2.10" fill="#f6e0de"/>
<rect y="308.40" height="2.30" fill="#f4c6bc"/>
<rect y="309.80" height="2.20" fill="#f3c3b8"/>
<rect y="311.10" height="2.60" fill="#987fc0"/>
<rect y="312.80" height="2.20" fill="#dcd1e8"/>
<rect y="314.10" height="2.10" fill="#aa94cb"/>
<rect y="315.30" height="2.20" fill="#b4a0d1"/>
<rect y="316.60" height="2.30" fill="#f4c9bf"/>
<rect y="318.00" height="2.90" fill="#db6f51"/>
<rect y="320.00" height="2.40" fill="#8a6fb8"/>
<rect y="321.50" height="2.10" fill="#f6eff2"/>
<rect y="322.70" height="2.40" fill="#b3a0d0"/>
<rect y="324.20" height="2.40" fill="#e0d7ea"/>
<rect y="325.70" height="2.60" fill="#e8e1ef"/>
<rect y="327.40" height="2.20" fill="#ded4e9"/>
<rect y="328.70" height="2.20" fill="#b39fd0"/>
<rect y="330.00" height="2.20" fill="#a791c9"/>
<rect y="331.30" height="2.30" fill="#d5c8e4"/>
<rect y="332.70" height="2.30" fill="#d5cae4"/>
<rect y="334.10" height="2.10" fill="#b09cce"/>
<rect y="335.30" height="2.40" fill="#f0ebf4"/>
<rect y="336.80" height="2.40" fill="#f3c3b9"/>
<rect y="338.30" height="2.90" fill="#f6e5e5"/>
<rect y="340.30" height="2.20" fill="#d6cae4"/>
<rect y="341.60" height="2.90" fill="#f0ebf3"/>
<rect y="343.60" height="2.20" fill="#eee9f2"/>
<rect y="344.90" height="2.60" fill="#cdbfdf"/>
<rect y="346.60" height="2.20" fill="#b4a0d0"/>
<rect y="347.90" height="2.20" fill="#aa94cb"/>
<rect y="349.20" height="2.40" fill="#c6b6db"/>
<rect y="350.70" height="2.30" fill="#c0afd8"/>
<rect y="352.10" height="2.30" fill="#c5b5da"/>
<rect y="353.50" height="2.30" fill="#bba9d5"/>
<rect y="354.90" height="2.20" fill="#cbbdde"/>
<rect y="356.20" height="2.30" fill="#ded5e9"/>
<rect y="357.60" height="2.60" fill="#f6ebec"/>
<rect y="359.30" height="2.90" fill="#f6f0f3"/>
<rect y="361.30" height="2.20" fill="#cbbdde"/>
<rect y="362.60" height="2.60" fill="#dcd2e8"/>
<rect y="364.30" height="2.10" fill="#e7e0ee"/>
<rect y="365.50" height="2.20" fill="#d8cce5"/>
<rect y="366.80" height="2.20" fill="#f6edef"/>
<rect y="368.10" height="2.10" fill="#f3eff5"/>
<rect y="369.30" height="2.40" fill="#d8cde6"/>
<rect y="370.80" height="2.30" fill="#f6e9ea"/>
<rect y="372.20" height="2.60" fill="#e8e0ef"/>
<rect y="373.90" height="2.40" fill="#e5dded"/>
<rect y="375.40" height="2.60" fill="#f6eaeb"/>
<rect y="377.10" height="2.90" fill="#f5d6d1"/>
<rect y="379.10" height="2.40" fill="#f6e9e9"/>
<rect y="380.60" height="2.20" fill="#f6e8e9"/>
<rect y="381.90" height="2.20" fill="#f4cbc3"/>
<rect y="383.20" height="2.20" fill="#dfd6ea"/>
<rect y="384.50" height="2.30" fill="#f6f2f6"/>
<rect y="385.90" height="2.90" fill="#ede7f2"/>
<rect y="387.90" height="2.20" fill="#f5d7d2"/>
<rect y="389.20" height="2.40" fill="#f6e9ea"/>
<rect y="390.70" height="2.30" fill="#c9badd"/>
<rect y="392.10" height="2.30" fill="#f6e7e7"/>
<rect y="393.50" height="2.10" fill="#dbd1e7"/>
<rect y="394.70" height="2.20" fill="#eeaa99"/>
<rect y="396.00" height="2.40" fill="#f6f1f4"/>
<rect y="397.50" height="2.60" fill="#f6eaeb"/>
<rect y="399.20" height="2.90" fill="#f0ecf4"/>
<rect y="401.20" height="2.30" fill="#e0d7ea"/>
<rect y="402.60" height="2.10" fill="#eae3f0"/>
<rect y="403.80" height="2.10" fill="#beacd6"/>
<rect y="405.00" height="2.20" fill="#e3dbec"/>
<rect y="406.30" height="2.40" fill="#efeaf3"/>
<rect y="407.80" height="2.40" fill="#e7e0ee"/>
<rect y="409.30" height="2.20" fill="#f2eef5"/>
<rect y="410.60" height="2.20" fill="#d9cfe6"/>
<rect y="411.90" height="2.40" fill="#d4c8e4"/>
<rect y="413.40" height="2.20" fill="#e6deed"/>
<rect y="414.70" height="2.90" fill="#ddd3e8"/>
<rect y="416.70" height="2.40" fill="#e7dfee"/>
<rect y="418.20" height="2.20" fill="#c8b9dc"/>
<rect y="419.50" height="2.10" fill="#c2b2d9"/>
<rect y="420.70" height="2.10" fill="#e3daec"/>
<rect y="421.90" height="2.90" fill="#d7cce5"/>
<rect y="423.90" height="2.40" fill="#ebe5f1"/>
<rect y="425.40" height="2.40" fill="#e6dfee"/>
<rect y="426.90" height="2.10" fill="#c2b2d9"/>
<rect y="428.10" height="2.10" fill="#ebe5f0"/>
<rect y="429.30" height="2.20" fill="#dbd0e7"/>
<rect y="430.60" height="2.90" fill="#f6eff2"/>
<rect y="432.60" height="2.20" fill="#f6eced"/>
<rect y="433.90" height="2.40" fill="#cbbcde"/>
<rect y="435.40" height="2.40" fill="#eae4f0"/>
<rect y="436.90" height="2.20" fill="#d9cee6"/>
<rect y="438.20" height="2.20" fill="#d5c9e4"/>
<rect y="439.50" height="2.20" fill="#e7dfee"/>
<rect y="440.80" height="2.90" fill="#f2eef5"/>
<rect y="442.80" height="2.40" fill="#c7b8dc"/>
<rect y="444.30" height="2.10" fill="#f6e4e3"/>
<rect y="445.50" height="1.50" fill="#d9cee6"/>
<rect y="446.80" height="0.20" fill="#c1b0d8"/>
</g>
<g transform="translate(272.33 0)">
<rect y="175.50" height="2.90" fill="#b6a3d2"/>
<rect y="177.50" height="2.90" fill="#e4dced"/>
<rect y="179.50" height="2.90" fill="#f6edf0"/>
<rect y="181.50" height="2.30" fill="#ccbedf"/>
<rect y="182.90" height="2.20" fill="#c5b5da"/>
<rect y="184.20" height="2.90" fill="#a791c9"/>
<rect y="186.20" height="2.20" fill="#d8cde6"/>
<rect y="187.50" height="2.20" fill="#dbd0e7"/>
<rect y="188.80" height="2.90" fill="#af9ace"/>
<rect y="190.80" height="2.40" fill="#f2eef5"/>
<rect y="192.30" height="2.20" fill="#947bbe"/>
<rect y="193.60" height="2.20" fill="#a48dc7"/>
<rect y="194.90" height="2.10" fill="#c9bbdd"/>
<rect y="196.10" height="2.60" fill="#b09cce"/>
<rect y="197.80" height="2.90" fill="#dacfe7"/>
<rect y="199.80" height="2.20" fill="#ccbedf"/>
<rect y="201.10" height="2.10" fill="#e5deed"/>
<rect y="202.30" height="2.20" fill="#987fc0"/>
<rect y="203.60" height="2.10" fill="#c5b6db"/>
<rect y="204.80" height="2.10" fill="#8f75bb"/>
<rect y="206.00" height="2.30" fill="#a088c5"/>
<rect y="207.40" height="2.30" fill="#d1c4e1"/>
<rect y="208.80" height="2.10" fill="#f3c2b6"/>
<rect y="210.00" height="2.90" fill="#f6e7e7"/>
<rect y="212.00" height="2.40" fill="#f6e0de"/>
<rect y="213.50" height="2.90" fill="#d5c9e4"/>
<rect y="215.50" height="2.30" fill="#b5a1d1"/>
<rect y="216.90" height="2.30" fill="#8c72ba"/>
<rect y="218.30" height="2.40" fill="#bcaad5"/>
<rect y="219.80" height="2.90" fill="#6a4da7"/>
<rect y="221.80" height="2.10" fill="#7356ab"/>
<rect y="223.00" height="2.20" fill="#977fc0"/>
<rect y="224.30" height="2.90" fill="#503499"/>
<rect y="226.30" height="2.40" fill="#ab96cb"/>
<rect y="227.80" height="2.60" fill="#e0d7ea"/>
<rect y="229.50" height="2.20" fill="#d1c4e1"/>
<rect y="230.80" height="2.40" fill="#876db7"/>
<rect y="232.30" height="2.40" fill="#9279bd"/>
<rect y="233.80" height="2.30" fill="#f1b8ab"/>
<rect y="235.20" height="2.40" fill="#9279bd"/>
<rect y="236.70" height="2.10" fill="#3d2390"/>
<rect y="237.90" height="2.20" fill="#a189c5"/>
<rect y="239.20" height="2.20" fill="#876db7"/>
<rect y="240.50" height="2.60" fill="#d5c9e4"/>
<rect y="242.20" height="2.20" fill="#d9cee6"/>
<rect y="243.50" height="2.40" fill="#dcd2e8"/>
<rect y="245.00" height="2.60" fill="#bcaad5"/>
<rect y="246.70" height="2.20" fill="#bdabd6"/>
<rect y="248.00" height="2.10" fill="#f5f2f7"/>
<rect y="249.20" height="2.10" fill="#a28cc6"/>
<rect y="250.40" height="2.30" fill="#b39fd0"/>
<rect y="251.80" height="2.30" fill="#a48ec8"/>
<rect y="253.20" height="2.10" fill="#beadd7"/>
<rect y="254.40" height="2.90" fill="#d3c7e3"/>
<rect y="256.40" height="2.60" fill="#e9e2ef"/>
<rect y="258.10" height="2.60" fill="#6448a4"/>
<rect y="259.80" height="2.60" fill="#8d73ba"/>
<rect y="261.50" height="2.20" fill="#967dbf"/>
<rect y="262.80" height="2.30" fill="#b5a2d1"/>
<rect y="264.20" height="2.40" fill="#7155aa"/>
<rect y="265.70" height="2.40" fill="#aa95cb"/>
<rect y="267.20" height="2.20" fill="#937abe"/>
<rect y="268.50" height="2.40" fill="#8468b5"/>
<rect y="270.00" height="2.40" fill="#7c61b1"/>
<rect y="271.50" height="2.10" fill="#7559ad"/>
<rect y="272.70" height="2.60" fill="#896eb8"/>
<rect y="274.40" height="2.20" fill="#cabcde"/>
<rect y="275.70" height="2.20" fill="#f6eff2"/>
<rect y="277.00" height="2.30" fill="#a791c9"/>
<rect y="278.40" height="2.20" fill="#d4c8e3"/>
<rect y="279.70" height="2.10" fill="#a892c9"/>
<rect y="280.90" height="2.10" fill="#ece6f1"/>
<rect y="282.10" height="2.90" fill="#ddd3e8"/>
<rect y="284.10" height="2.90" fill="#6f52a9"/>
<rect y="286.10" height="2.20" fill="#ddd3e8"/>
<rect y="287.40" height="2.30" fill="#876db7"/>
<rect y="288.80" height="2.90" fill="#f6e3e2"/>
<rect y="290.80" height="2.30" fill="#c5b5da"/>
<rect y="292.20" height="2.20" fill="#f3c2b7"/>
<rect y="293.50" height="2.60" fill="#c3b3d9"/>
<rect y="295.20" height="2.60" fill="#f1b5a6"/>
<rect y="296.90" height="2.20" fill="#bcaad5"/>
<rect y="298.20" height="2.60" fill="#e4dced"/>
<rect y="299.90" height="2.60" fill="#ac97cc"/>
<rect y="301.60" height="2.30" fill="#896fb8"/>
<rect y="303.00" height="2.10" fill="#f1ecf4"/>
<rect y="304.20" height="2.40" fill="#f6dad6"/>
<rect y="305.70" height="2.40" fill="#e7e0ee"/>
<rect y="307.20" height="2.10" fill="#9f88c4"/>
<rect y="308.40" height="2.30" fill="#ea9983"/>
<rect y="309.80" height="2.20" fill="#eda491"/>
<rect y="311.10" height="2.60" fill="#b9a7d4"/>
<rect y="312.80" height="2.20" fill="#886db7"/>
<rect y="314.10" height="2.10" fill="#a48dc7"/>
<rect y="315.30" height="2.20" fill="#efeaf3"/>
<rect y="316.60" height="2.30" fill="#eea896"/>
<rect y="318.00" height="2.90" fill="#f6e3e1"/>
<rect y="320.00" height="2.40" fill="#8469b5"/>
<rect y="321.50" height="2.10" fill="#8d73ba"/>
<rect y="322.70" height="2.40" fill="#f6f3f6"/>
<rect y="324.20" height="2.40" fill="#beadd7"/>
<rect y="325.70" height="2.60" fill="#a791c9"/>
<rect y="327.40" height="2.20" fill="#6e51a9"/>
<rect y="328.70" height="2.20" fill="#bba9d5"/>
<rect y="330.00" height="2.20" fill="#c4b4da"/>
<rect y="331.30" height="2.30" fill="#b4a0d1"/>
<rect y="332.70" height="2.30" fill="#a28bc6"/>
<rect y="334.10" height="2.10" fill="#b39fd0"/>
<rect y="335.30" height="2.40" fill="#bfaed7"/>
<rect y="336.80" height="2.40" fill="#f6f2f5"/>
<rect y="338.30" height="2.90" fill="#cdbfdf"/>
<rect y="340.30" height="2.20" fill="#a690c9"/>
<rect y="341.60" height="2.90" fill="#e6dfee"/>
<rect y="343.60" height="2.20" fill="#cbbcde"/>
<rect y="344.90" height="2.60" fill="#ded4e9"/>
<rect y="346.60" height="2.20" fill="#e1d9eb"/>
<rect y="347.90" height="2.20" fill="#987fc0"/>
<rect y="349.20" height="2.40" fill="#d2c5e2"/>
<rect y="350.70" height="2.30" fill="#f6ebec"/>
<rect y="352.10" height="2.30" fill="#a18ac6"/>
<rect y="353.50" height="2.30" fill="#c0aed7"/>
<rect y="354.90" height="2.20" fill="#e1d8eb"/>
<rect y="356.20" height="2.30" fill="#c3b2d9"/>
<rect y="357.60" height="2.60" fill="#d5c9e4"/>
<rect y="359.30" height="2.90" fill="#d5c9e4"/>
<rect y="361.30" height="2.20" fill="#d2c5e2"/>
<rect y="362.60" height="2.60" fill="#cfc1e0"/>
<rect y="364.30" height="2.10" fill="#dbd0e7"/>
<rect y="365.50" height="2.20" fill="#ddd3e9"/>
<rect y="366.80" height="2.20" fill="#eee9f2"/>
<rect y="368.10" height="2.10" fill="#f1b5a7"/>
<rect y="369.30" height="2.40" fill="#d6cae4"/>
<rect y="370.80" height="2.30" fill="#e6deed"/>
<rect y="372.20" height="2.60" fill="#dacfe7"/>
<rect y="373.90" height="2.40" fill="#d6cae4"/>
<rect y="375.40" height="2.60" fill="#e2daec"/>
<rect y="377.10" height="2.90" fill="#f0ebf4"/>
<rect y="379.10" height="2.40" fill="#f6e9ea"/>
<rect y="380.60" height="2.20" fill="#eae3f0"/>
<rect y="381.90" height="2.20" fill="#ddd3e9"/>
<rect y="383.20" height="2.20" fill="#e0d6ea"/>
<rect y="384.50" height="2.30" fill="#dfd6ea"/>
<rect y="385.90" height="2.90" fill="#efeaf3"/>
<rect y="387.90" height="2.20" fill="#f6dedb"/>
<rect y="389.20" height="2.40" fill="#d1c4e1"/>
<rect y="390.70" height="2.30" fill="#cdbfdf"/>
<rect y="392.10" height="2.30" fill="#e6dfee"/>
<rect y="393.50" height="2.10" fill="#d8cce5"/>
<rect y="394.70" height="2.20" fill="#e1d8eb"/>
<rect y="396.00" height="2.40" fill="#e6dfee"/>
<rect y="397.50" height="2.60" fill="#f6ebed"/>
<rect y="399.20" height="2.90" fill="#dcd1e8"/>
<rect y="401.20" height="2.30" fill="#cec1e0"/>
<rect y="402.60" height="2.10" fill="#d4c8e3"/>
<rect y="403.80" height="2.10" fill="#e5deed"/>
<rect y="405.00" height="2.20" fill="#d2c6e2"/>
<rect y="406.30" height="2.40" fill="#d9cee6"/>
<rect y="407.80" height="2.40" fill="#c2b2d9"/>
<rect y="409.30" height="2.20" fill="#c2b1d9"/>
<rect y="410.60" height="2.20" fill="#e7e0ee"/>
<rect y="411.90" height="2.40" fill="#e4dced"/>
<rect y="413.40" height="2.20" fill="#f6e1df"/>
<rect y="414.70" height="2.90" fill="#dbd0e7"/>
<rect y="416.70" height="2.40" fill="#f4f0f6"/>
<rect y="418.20" height="2.20" fill="#c0afd8"/>
<rect y="419.50" height="2.10" fill="#a892ca"/>
<rect y="420.70" height="2.10" fill="#d2c5e2"/>
<rect y="421.90" height="2.90" fill="#dbd1e7"/>
<rect y="423.90" height="2.40" fill="#f1edf4"/>
<rect y="425.40" height="2.40" fill="#ece6f1"/>
<rect y="426.90" height="2.10" fill="#e9e2ef"/>
<rect y="428.10" height="2.10" fill="#e6deee"/>
<rect y="429.30" height="2.20" fill="#d9cee6"/>
<rect y="430.60" height="2.90" fill="#ebe5f1"/>
<rect y="432.60" height="2.20" fill="#eae4f0"/>
<rect y="433.90" height="2.40" fill="#cec0e0"/>
<rect y="435.40" height="2.40" fill="#dfd5ea"/>
<rect y="436.90" height="2.20" fill="#bdabd6"/>
<rect y="438.20" height="2.20" fill="#c4b3da"/>
<rect y="439.50" height="2.20" fill="#d7cce5"/>
<rect y="440.80" height="2.90" fill="#efebf3"/>
<rect y="442.80" height="2.40" fill="#d5c9e4"/>
<rect y="444.30" height="2.10" fill="#d8cce5"/>
<rect y="445.50" height="1.50" fill="#f1ecf4"/>
<rect y="446.80" height="0.20" fill="#c3b2d9"/>
</g>
<g transform="translate(281.44 0)">
<rect y="175.50" height="2.90" fill="#684ca6"/>
<rect y="177.50" height="2.90" fill="#a38cc7"/>
<rect y="179.50" height="2.90" fill="#d3c6e3"/>
<rect y="181.50" height="2.30" fill="#3d2390"/>
<rect y="182.90" height="2.20" fill="#886eb7"/>
<rect y="184.20" height="2.90" fill="#ebe4f0"/>
<rect y="186.20" height="2.20" fill="#8c72ba"/>
<rect y="187.50" height="2.20" fill="#a690c9"/>
<rect y="188.80" height="2.90" fill="#ccbedf"/>
<rect y="190.80" height="2.40" fill="#cfc2e1"/>
<rect y="192.30" height="2.20" fill="#947bbe"/>
<rect y="193.60" height="2.20" fill="#e0d7ea"/>
<rect y="194.90" height="2.10" fill="#9077bc"/>
<rect y="196.10" height="2.60" fill="#f5f2f7"/>
<rect y="197.80" height="2.90" fill="#f4cac1"/>
<rect y="199.80" height="2.20" fill="#cbbdde"/>
<rect y="201.10" height="2.10" fill="#a189c5"/>
<rect y="202.30" height="2.20" fill="#c1b0d8"/>
<rect y="203.60" height="2.10" fill="#f5d7d2"/>
<rect y="204.80" height="2.10" fill="#ae99cd"/>
<rect y="206.00" height="2.30" fill="#a690c9"/>
<rect y="207.40" height="2.30" fill="#e3dbec"/>
<rect y="208.80" height="2.10" fill="#af9ace"/>
<rect y="210.00" height="2.90" fill="#b9a7d4"/>
<rect y="212.00" height="2.40" fill="#9b83c2"/>
<rect y="213.50" height="2.90" fill="#ded4e9"/>
<rect y="215.50" height="2.30" fill="#7a5eaf"/>
<rect y="216.90" height="2.30" fill="#c7b8dc"/>
<rect y="218.30" height="2.40" fill="#8267b4"/>
<rect y="219.80" height="2.90" fill="#977ec0"/>
<rect y="221.80" height="2.10" fill="#a791c9"/>
<rect y="223.00" height="2.20" fill="#967dbf"/>
<rect y="224.30" height="2.90" fill="#896eb8"/>
<rect y="226.30" height="2.40" fill="#7f64b2"/>
<rect y="227.80" height="2.60" fill="#d3c7e3"/>
<rect y="229.50" height="2.20" fill="#c8b9dc"/>
<rect y="230.80" height="2.40" fill="#a993ca"/>
<rect y="232.30" height="2.40" fill="#c9badd"/>
<rect y="233.80" height="2.30" fill="#f4c6bc"/>
<rect y="235.20" height="2.40" fill="#7e63b2"/>
<rect y="236.70" height="2.10" fill="#664aa5"/>
<rect y="237.90" height="2.20" fill="#cdbfdf"/>
<rect y="239.20" height="2.20" fill="#7356ab"/>
<rect y="240.50" height="2.60" fill="#f6dcd9"/>
<rect y="242.20" height="2.20" fill="#f5d3cd"/>
<rect y="243.50" height="2.40" fill="#e5dded"/>
<rect y="245.00" height="2.60" fill="#e3dbec"/>
<rect y="246.70" height="2.20" fill="#856ab6"/>
<rect y="248.00" height="2.10" fill="#e3dbec"/>
<rect y="249.20" height="2.10" fill="#9d85c3"/>
<rect y="250.40" height="2.30" fill="#c5b5da"/>
<rect y="251.80" height="2.30" fill="#6245a2"/>
<rect y="253.20" height="2.10" fill="#b7a4d2"/>
<rect y="254.40" height="2.90" fill="#d7cce5"/>
<rect y="256.40" height="2.60" fill="#dbd0e7"/>
<rect y="258.10" height="2.60" fill="#ad98cd"/>
<rect y="259.80" height="2.60" fill="#8e74bb"/>
<rect y="261.50" height="2.20" fill="#8166b3"/>
<rect y="262.80" height="2.30" fill="#c6b6db"/>
<rect y="264.20" height="2.40" fill="#ad98cd"/>
<rect y="265.70" height="2.40" fill="#f6e8e8"/>
<rect y="267.20" height="2.20" fill="#f6e1df"/>
<rect y="268.50" height="2.40" fill="#cfc1e0"/>
<rect y="270.00" height="2.40" fill="#e5dded"/>
<rect y="271.50" height="2.10" fill="#c5b5da"/>
<rect y="272.70" height="2.60" fill="#bba9d5"/>
<rect y="274.40" height="2.20" fill="#eda390"/>
<rect y="275.70" height="2.20" fill="#f6f2f5"/>
<rect y="277.00" height="2.30" fill="#f6ddda"/>
<rect y="278.40" height="2.20" fill="#eea998"/>
<rect y="279.70" height="2.10" fill="#a58fc8"/>
<rect y="280.90" height="2.10" fill="#f6f1f5"/>
<rect y="282.10" height="2.90" fill="#f6eef1"/>
<rect y="284.10" height="2.90" fill="#f6dcd8"/>
<rect y="286.10" height="2.20" fill="#e5dded"/>
<rect y="287.40" height="2.30" fill="#f6eef1"/>
<rect y="288.80" height="2.90" fill="#f0b0a0"/>
<rect y="290.80" height="2.30" fill="#ece6f1"/>
<rect y="292.20" height="2.20" fill="#e4876d"/>
<rect y="293.50" height="2.60" fill="#baa7d4"/>
<rect y="295.20" height="2.60" fill="#f6eced"/>
<rect y="296.90" height="2.20" fill="#eee9f2"/>
<rect y="298.20" height="2.60" fill="#e8937c"/>
<rect y="299.90" height="2.60" fill="#9f87c4"/>
<rect y="301.60" height="2.30" fill="#f6edee"/>
<rect y="303.00" height="2.10" fill="#e9e3f0"/>
<rect y="304.20" height="2.40" fill="#f6e3e2"/>
<rect y="305.70" height="2.40" fill="#e0d6ea"/>
<rect y="307.20" height="2.10" fill="#f6dbd7"/>
<rect y="308.40" height="2.30" fill="#f2bcb0"/>
<rect y="309.80" height="2.20" fill="#f2bbae"/>
<rect y="311.10" height="2.60" fill="#e3dbec"/>
<rect y="312.80" height="2.20" fill="#bfaed7"/>
<rect y="314.10" height="2.10" fill="#cfc1e0"/>
<rect y="315.30" height="2.20" fill="#beadd7"/>
<rect y="316.60" height="2.30" fill="#b19dcf"/>
<rect y="318.00" height="2.90" fill="#f6e7e7"/>
<rect y="320.00" height="2.40" fill="#e7e0ee"/>
<rect y="321.50" height="2.10" fill="#a18ac6"/>
<rect y="322.70" height="2.40" fill="#9b83c2"/>
<rect y="324.20" height="2.40" fill="#bba9d5"/>
<rect y="325.70" height="2.60" fill="#e2d9eb"/>
<rect y="327.40" height="2.20" fill="#cdbfdf"/>
<rect y="328.70" height="2.20" fill="#c6b7db"/>
<rect y="330.00" height="2.20" fill="#d0c3e1"/>
<rect y="331.30" height="2.30" fill="#b8a5d3"/>
<rect y="332.70" height="2.30" fill="#aa95cb"/>
<rect y="334.10" height="2.10" fill="#af9ace"/>
<rect y="335.30" height="2.40" fill="#d0c3e1"/>
<rect y="336.80" height="2.40" fill="#f3c1b5"/>
<rect y="338.30" height="2.90" fill="#f5d1cb"/>
<rect y="340.30" height="2.20" fill="#c3b2d9"/>
<rect y="341.60" height="2.90" fill="#f2edf4"/>
<rect y="343.60" height="2.20" fill="#ede7f2"/>
<rect y="344.90" height="2.60" fill="#ac97cc"/>
<rect y="346.60" height="2.20" fill="#a088c5"/>
<rect y="347.90" height="2.20" fill="#e7dfee"/>
<rect y="349.20" height="2.40" fill="#b3a0d0"/>
<rect y="350.70" height="2.30" fill="#f4ccc3"/>
<rect y="352.10" height="2.30" fill="#7356ab"/>
<rect y="353.50" height="2.30" fill="#ae99cd"/>
<rect y="354.90" height="2.20" fill="#eae3f0"/>
<rect y="356.20" height="2.30" fill="#baa8d4"/>
<rect y="357.60" height="2.60" fill="#e8e0ef"/>
<rect y="359.30" height="2.90" fill="#bfaed7"/>
<rect y="361.30" height="2.20" fill="#d5c9e4"/>
<rect y="362.60" height="2.60" fill="#b8a6d3"/>
<rect y="364.30" height="2.10" fill="#cdbfdf"/>
<rect y="365.50" height="2.20" fill="#e5dded"/>
<rect y="366.80" height="2.20" fill="#d6cae4"/>
<rect y="368.10" height="2.10" fill="#eae3f0"/>
<rect y="369.30" height="2.40" fill="#b8a5d3"/>
<rect y="370.80" height="2.30" fill="#d5c9e4"/>
<rect y="372.20" height="2.60" fill="#ece6f1"/>
<rect y="373.90" height="2.40" fill="#e1d8eb"/>
<rect y="375.40" height="2.60" fill="#f6dedc"/>
<rect y="377.10" height="2.90" fill="#f6e7e7"/>
<rect y="379.10" height="2.40" fill="#f4f0f6"/>
<rect y="380.60" height="2.20" fill="#f6d9d5"/>
<rect y="381.90" height="2.20" fill="#dcd1e8"/>
<rect y="383.20" height="2.20" fill="#c9bbdd"/>
<rect y="384.50" height="2.30" fill="#e8e1ef"/>
<rect y="385.90" height="2.90" fill="#ede7f2"/>
<rect y="387.90" height="2.20" fill="#f5d2cb"/>
<rect y="389.20" height="2.40" fill="#e2d9eb"/>
<rect y="390.70" height="2.30" fill="#c5b6db"/>
<rect y="392.10" height="2.30" fill="#e8e2ef"/>
<rect y="393.50" height="2.10" fill="#e6deee"/>
<rect y="394.70" height="2.20" fill="#f6dcd8"/>
<rect y="396.00" height="2.40" fill="#f6ebed"/>
<rect y="397.50" height="2.60" fill="#d7cce5"/>
<rect y="399.20" height="2.90" fill="#e6deee"/>
<rect y="401.20" height="2.30" fill="#ccbedf"/>
<rect y="402.60" height="2.10" fill="#e9e3f0"/>
<rect y="403.80" height="2.10" fill="#d2c6e2"/>
<rect y="405.00" height="2.20" fill="#dbd0e7"/>
<rect y="406.30" height="2.40" fill="#eee9f3"/>
<rect y="407.80" height="2.40" fill="#d4c8e3"/>
<rect y="409.30" height="2.20" fill="#dacfe7"/>
<rect y="410.60" height="2.20" fill="#cfc1e0"/>
<rect y="411.90" height="2.40" fill="#e5deed"/>
<rect y="413.40" height="2.20" fill="#f6dedb"/>
<rect y="414.70" height="2.90" fill="#eae3f0"/>
<rect y="416.70" height="2.40" fill="#f6ebec"/>
<rect y="418.20" height="2.20" fill="#f1ecf4"/>
<rect y="419.50" height="2.10" fill="#c3b3da"/>
<rect y="420.70" height="2.10" fill="#f6eaeb"/>
<rect y="421.90" height="2.90" fill="#f1ecf4"/>
<rect y="423.90" height="2.40" fill="#ebe5f1"/>
<rect y="425.40" height="2.40" fill="#efeaf3"/>
<rect y="426.90" height="2.10" fill="#f6e3e3"/>
<rect y="428.10" height="2.10" fill="#f0ebf3"/>
<rect y="429.30" height="2.20" fill="#beadd7"/>
<rect y="430.60" height="2.90" fill="#f5d7d2"/>
<rect y="432.60" height="2.20" fill="#d1c4e2"/>
<rect y="433.90" height="2.40" fill="#f6f0f3"/>
<rect y="435.40" height="2.40" fill="#f5f1f6"/>
<rect y="436.90" height="2.20" fill="#cbbcde"/>
<rect y="438.20" height="2.20" fill="#f2edf4"/>
<rect y="439.50" height="2.20" fill="#f6f2f5"/>
<rect y="440.80" height="2.90" fill="#f6e9ea"/>
<rect y="442.80" height="2.40" fill="#f3eff5"/>
<rect y="444.30" height="2.10" fill="#f6eef0"/>
<rect y="445.50" height="1.50" fill="#eae3f0"/>
<rect y="446.80" height="0.20" fill="#cec0df"/>
</g>
<g transform="translate(290.55 0)">
<rect y="175.50" height="2.90" fill="#f5d2cc"/>
<rect y="177.50" height="2.90" fill="#f1b9ac"/>
<rect y="179.50" height="2.90" fill="#f6eff1"/>
<rect y="181.50" height="2.30" fill="#f6dad5"/>
<rect y="182.90" height="2.20" fill="#6447a3"/>
<rect y="184.20" height="2.90" fill="#f6f0f4"/>
<rect y="186.20" height="2.20" fill="#9379bd"/>
<rect y="187.50" height="2.20" fill="#6a4da7"/>
<rect y="188.80" height="2.90" fill="#c8b8dc"/>
<rect y="190.80" height="2.40" fill="#cdbedf"/>
<rect y="192.30" height="2.20" fill="#b19dcf"/>
<rect y="193.60" height="2.20" fill="#8165b3"/>
<rect y="194.90" height="2.10" fill="#e0d7ea"/>
<rect y="196.10" height="2.60" fill="#b09bce"/>
<rect y="197.80" height="2.90" fill="#d9cde6"/>
<rect y="199.80" height="2.20" fill="#b5a1d1"/>
<rect y="201.10" height="2.10" fill="#6548a4"/>
<rect y="202.30" height="2.20" fill="#d2c6e2"/>
<rect y="203.60" height="2.10" fill="#7c60b0"/>
<rect y="204.80" height="2.10" fill="#af9bce"/>
<rect y="206.00" height="2.30" fill="#896fb8"/>
<rect y="207.40" height="2.30" fill="#f0b3a4"/>
<rect y="208.80" height="2.10" fill="#a993ca"/>
<rect y="210.00" height="2.90" fill="#ede8f2"/>
<rect y="212.00" height="2.40" fill="#f2bdb0"/>
<rect y="213.50" height="2.90" fill="#9c84c3"/>
<rect y="215.50" height="2.30" fill="#bfadd7"/>
<rect y="216.90" height="2.30" fill="#b7a4d3"/>
<rect y="218.30" height="2.40" fill="#a28bc6"/>
<rect y="219.80" height="2.90" fill="#dfd6ea"/>
<rect y="221.80" height="2.10" fill="#af9ace"/>
<rect y="223.00" height="2.20" fill="#c5b5da"/>
<rect y="224.30" height="2.90" fill="#7f63b2"/>
<rect y="226.30" height="2.40" fill="#d9cee6"/>
<rect y="227.80" height="2.60" fill="#ac97cc"/>
<rect y="229.50" height="2.20" fill="#f6dfdc"/>
<rect y="230.80" height="2.40" fill="#f6f0f3"/>
<rect y="232.30" height="2.40" fill="#dfd5ea"/>
<rect y="233.80" height="2.30" fill="#f2bcb0"/>
<rect y="235.20" height="2.40" fill="#c9bbdd"/>
<rect y="236.70" height="2.10" fill="#8165b3"/>
<rect y="237.90" height="2.20" fill="#9a81c1"/>
<rect y="239.20" height="2.20" fill="#c3b3da"/>
<rect y="240.50" height="2.60" fill="#f4ccc4"/>
<rect y="242.20" height="2.20" fill="#8a70b8"/>
<rect y="243.50" height="2.40" fill="#c2b2d9"/>
<rect y="245.00" height="2.60" fill="#cabcde"/>
<rect y="246.70" height="2.20" fill="#947bbe"/>
<rect y="248.00" height="2.10" fill="#ac96cc"/>
<rect y="249.20" height="2.10" fill="#ece7f1"/>
<rect y="250.40" height="2.30" fill="#bfadd7"/>
<rect y="251.80" height="2.30" fill="#896eb8"/>
<rect y="253.20" height="2.10" fill="#c1b1d8"/>
<rect y="254.40" height="2.90" fill="#d86748"/>
<rect y="256.40" height="2.60" fill="#cdc0df"/>
<rect y="258.10" height="2.60" fill="#aa94cb"/>
<rect y="259.80" height="2.60" fill="#cec1e0"/>
<rect y="261.50" height="2.20" fill="#d9cde6"/>
<rect y="262.80" height="2.30" fill="#f6f3f7"/>
<rect y="264.20" height="2.40" fill="#dbd1e7"/>
<rect y="265.70" height="2.40" fill="#987fc0"/>
<rect y="267.20" height="2.20" fill="#b5a1d1"/>
<rect y="268.50" height="2.40" fill="#7a5eaf"/>
<rect y="270.00" height="2.40" fill="#e6deee"/>
<rect y="271.50" height="2.10" fill="#b19ccf"/>
<rect y="272.70" height="2.60" fill="#f5d5d0"/>
<rect y="274.40" height="2.20" fill="#c8b9dc"/>
<rect y="275.70" height="2.20" fill="#cbbdde"/>
<rect y="277.00" height="2.30" fill="#f4cac1"/>
<rect y="278.40" height="2.20" fill="#cfc2e1"/>
<rect y="279.70" height="2.10" fill="#b8a5d3"/>
<rect y="280.90" height="2.10" fill="#ede7f2"/>
<rect y="282.10" height="2.90" fill="#ded5e9"/>
<rect y="284.10" height="2.90" fill="#efac9b"/>
<rect y="286.10" height="2.20" fill="#f2bbae"/>
<rect y="287.40" height="2.30" fill="#977ec0"/>
<rect y="288.80" height="2.90" fill="#674aa5"/>
<rect y="290.80" height="2.30" fill="#f6e9ea"/>
<rect y="292.20" height="2.20" fill="#efeaf3"/>
<rect y="293.50" height="2.60" fill="#a690c8"/>
<rect y="295.20" height="2.60" fill="#f6e8e8"/>
<rect y="296.90" height="2.20" fill="#957cbf"/>
<rect y="298.20" height="2.60" fill="#d7cce5"/>
<rect y="299.90" height="2.60" fill="#b39fd0"/>
<rect y="301.60" height="2.30" fill="#a993ca"/>
<rect y="303.00" height="2.10" fill="#cbbcde"/>
<rect y="304.20" height="2.40" fill="#f6dedc"/>
<rect y="305.70" height="2.40" fill="#f6f3f7"/>
<rect y="307.20" height="2.10" fill="#f3c2b7"/>
<rect y="308.40" height="2.30" fill="#f0ebf3"/>
<rect y="309.80" height="2.20" fill="#f3c5ba"/>
<rect y="311.10" height="2.60" fill="#e17f65"/>
<rect y="312.80" height="2.20" fill="#e99680"/>
<rect y="314.10" height="2.10" fill="#d86648"/>
<rect y="315.30" height="2.20" fill="#f0b0a1"/>
<rect y="316.60" height="2.30" fill="#e99882"/>
<rect y="318.00" height="2.90" fill="#f0b09f"/>
<rect y="320.00" height="2.40" fill="#f6e1df"/>
<rect y="321.50" height="2.10" fill="#f4c9c0"/>
<rect y="322.70" height="2.40" fill="#f5d2cc"/>
<rect y="324.20" height="2.40" fill="#f3bfb4"/>
<rect y="325.70" height="2.60" fill="#f6e2e0"/>
<rect y="327.40" height="2.20" fill="#d6cae4"/>
<rect y="328.70" height="2.20" fill="#d3c7e3"/>
<rect y="330.00" height="2.20" fill="#f0ebf4"/>
<rect y="331.30" height="2.30" fill="#eb9c87"/>
<rect y="332.70" height="2.30" fill="#ccbdde"/>
<rect y="334.10" height="2.10" fill="#f6e7e7"/>
<rect y="335.30" height="2.40" fill="#f4c8bf"/>
<rect y="336.80" height="2.40" fill="#dacfe7"/>
<rect y="338.30" height="2.90" fill="#f3c3b9"/>
<rect y="340.30" height="2.20" fill="#cabbdd"/>
<rect y="341.60" height="2.90" fill="#e4dcec"/>
<rect y="343.60" height="2.20" fill="#c1b0d8"/>
<rect y="344.90" height="2.60" fill="#9b82c2"/>
<rect y="346.60" height="2.20" fill="#9b83c2"/>
<rect y="347.90" height="2.20" fill="#d6cae4"/>
<rect y="349.20" height="2.40" fill="#c6b7db"/>
<rect y="350.70" height="2.30" fill="#d2c5e2"/>
<rect y="352.10" height="2.30" fill="#d9cee6"/>
<rect y="353.50" height="2.30" fill="#b39fd0"/>
<rect y="354.90" height="2.20" fill="#ece6f1"/>
<rect y="356.20" height="2.30" fill="#b09cce"/>
<rect y="357.60" height="2.60" fill="#a38cc7"/>
<rect y="359.30" height="2.90" fill="#b19dcf"/>
<rect y="361.30" height="2.20" fill="#cbbdde"/>
<rect y="362.60" height="2.60" fill="#cfc2e0"/>
<rect y="364.30" height="2.10" fill="#e6dfee"/>
<rect y="365.50" height="2.20" fill="#ddd4e9"/>
<rect y="366.80" height="2.20" fill="#f6f3f7"/>
<rect y="368.10" height="2.10" fill="#eee8f2"/>
<rect y="369.30" height="2.40" fill="#e1d8eb"/>
<rect y="370.80" height="2.30" fill="#e6dfee"/>
<rect y="372.20" height="2.60" fill="#f6f0f4"/>
<rect y="373.90" height="2.40" fill="#c6b6db"/>
<rect y="375.40" height="2.60" fill="#f6e0de"/>
<rect y="377.10" height="2.90" fill="#f6e0dd"/>
<rect y="379.10" height="2.40" fill="#e5dded"/>
<rect y="380.60" height="2.20" fill="#e6deee"/>
<rect y="381.90" height="2.20" fill="#f6dfdc"/>
<rect y="383.20" height="2.20" fill="#dacfe7"/>
<rect y="384.50" height="2.30" fill="#e3daec"/>
<rect y="385.90" height="2.90" fill="#f6e7e8"/>
<rect y="387.90" height="2.20" fill="#f5f2f7"/>
<rect y="389.20" height="2.40" fill="#f5f2f6"/>
<rect y="390.70" height="2.30" fill="#dfd6ea"/>
<rect y="392.10" height="2.30" fill="#cec1e0"/>
<rect y="393.50" height="2.10" fill="#d5c9e4"/>
<rect y="394.70" height="2.20" fill="#efeaf3"/>
<rect y="396.00" height="2.40" fill="#d7cbe5"/>
<rect y="397.50" height="2.60" fill="#efeaf3"/>
<rect y="399.20" height="2.90" fill="#f6f2f6"/>
<rect y="401.20" height="2.30" fill="#d7cbe5"/>
<rect y="402.60" height="2.10" fill="#c7b7dc"/>
<rect y="403.80" height="2.10" fill="#f2eef5"/>
<rect y="405.00" height="2.20" fill="#d6cae4"/>
<rect y="406.30" height="2.40" fill="#f6ecee"/>
<rect y="407.80" height="2.40" fill="#ebe5f1"/>
<rect y="409.30" height="2.20" fill="#eae3f0"/>
<rect y="410.60" height="2.20" fill="#dacfe6"/>
<rect y="411.90" height="2.40" fill="#e3dbec"/>
<rect y="413.40" height="2.20" fill="#ddd3e8"/>
<rect y="414.70" height="2.90" fill="#f6f3f7"/>
<rect y="416.70" height="2.40" fill="#f5d2cb"/>
<rect y="418.20" height="2.20" fill="#d3c6e3"/>
<rect y="419.50" height="2.10" fill="#d6cbe5"/>
<rect y="420.70" height="2.10" fill="#f4f0f6"/>
<rect y="421.90" height="2.90" fill="#d7cbe5"/>
<rect y="423.90" height="2.40" fill="#e1d8eb"/>
<rect y="425.40" height="2.40" fill="#e6deee"/>
<rect y="426.90" height="2.10" fill="#cec0e0"/>
<rect y="428.10" height="2.10" fill="#d4c8e3"/>
<rect y="429.30" height="2.20" fill="#dbd0e7"/>
<rect y="430.60" height="2.90" fill="#cbbcde"/>
<rect y="432.60" height="2.20" fill="#ece6f1"/>
<rect y="433.90" height="2.40" fill="#e6deee"/>
<rect y="435.40" height="2.40" fill="#d5c9e4"/>
<rect y="436.90" height="2.20" fill="#d6cae4"/>
<rect y="438.20" height="2.20" fill="#cec0e0"/>
<rect y="439.50" height="2.20" fill="#dfd6ea"/>
<rect y="440.80" height="2.90" fill="#f6f2f6"/>
<rect y="442.80" height="2.40" fill="#eae4f0"/>
<rect y="444.30" height="2.10" fill="#f6e6e5"/>
<rect y="445.50" height="1.50" fill="#e2d9eb"/>
<rect y="446.80" height="0.20" fill="#b5a1d1"/>
</g>
<g transform="translate(299.66 0)">
<rect y="175.50" height="2.90" fill="#eeab99"/>
<rect y="177.50" height="2.90" fill="#e2d9eb"/>
<rect y="179.50" height="2.90" fill="#efeaf3"/>
<rect y="181.50" height="2.30" fill="#a993ca"/>
<rect y="182.90" height="2.20" fill="#7054aa"/>
<rect y="184.20" height="2.90" fill="#efeaf3"/>
<rect y="186.20" height="2.20" fill="#876cb7"/>
<rect y="187.50" height="2.20" fill="#a18ac5"/>
<rect y="188.80" height="2.90" fill="#c6b6db"/>
<rect y="190.80" height="2.40" fill="#cec0e0"/>
<rect y="192.30" height="2.20" fill="#c5b5da"/>
<rect y="193.60" height="2.20" fill="#7458ac"/>
<rect y="194.90" height="2.10" fill="#aa95cb"/>
<rect y="196.10" height="2.60" fill="#beadd7"/>
<rect y="197.80" height="2.90" fill="#f6dfdc"/>
<rect y="199.80" height="2.20" fill="#d9cfe6"/>
<rect y="201.10" height="2.10" fill="#593c9d"/>
<rect y="202.30" height="2.20" fill="#f6e0de"/>
<rect y="203.60" height="2.10" fill="#ded5e9"/>
<rect y="204.80" height="2.10" fill="#cec1e0"/>
<rect y="206.00" height="2.30" fill="#ab96cb"/>
<rect y="207.40" height="2.30" fill="#e8927b"/>
<rect y="208.80" height="2.10" fill="#6b4ea7"/>
<rect y="210.00" height="2.90" fill="#d7cce5"/>
<rect y="212.00" height="2.40" fill="#f4cdc5"/>
<rect y="213.50" height="2.90" fill="#f6e1e0"/>
<rect y="215.50" height="2.30" fill="#cabbdd"/>
<rect y="216.90" height="2.30" fill="#d5c9e4"/>
<rect y="218.30" height="2.40" fill="#a993ca"/>
<rect y="219.80" height="2.90" fill="#957cbf"/>
<rect y="221.80" height="2.10" fill="#d9cee6"/>
<rect y="223.00" height="2.20" fill="#8b70b9"/>
<rect y="224.30" height="2.90" fill="#efeaf3"/>
<rect y="226.30" height="2.40" fill="#d1c4e2"/>
<rect y="227.80" height="2.60" fill="#b4a1d1"/>
<rect y="229.50" height="2.20" fill="#c9bbdd"/>
<rect y="230.80" height="2.40" fill="#f6e7e8"/>
<rect y="232.30" height="2.40" fill="#beacd6"/>
<rect y="233.80" height="2.30" fill="#e99781"/>
<rect y="235.20" height="2.40" fill="#d6cae4"/>
<rect y="236.70" height="2.10" fill="#b29ecf"/>
<rect y="237.90" height="2.20" fill="#c4b4da"/>
<rect y="239.20" height="2.20" fill="#f2beb1"/>
<rect y="240.50" height="2.60" fill="#f6e4e3"/>
<rect y="242.20" height="2.20" fill="#b19dcf"/>
<rect y="243.50" height="2.40" fill="#f6eaeb"/>
<rect y="245.00" height="2.60" fill="#c2b2d9"/>
<rect y="246.70" height="2.20" fill="#d6cbe5"/>
<rect y="248.00" height="2.10" fill="#d9cee6"/>
<rect y="249.20" height="2.10" fill="#f6f1f4"/>
<rect y="250.40" height="2.30" fill="#937abe"/>
<rect y="251.80" height="2.30" fill="#d9cee6"/>
<rect y="253.20" height="2.10" fill="#ae99cd"/>
<rect y="254.40" height="2.90" fill="#efac9b"/>
<rect y="256.40" height="2.60" fill="#f2baac"/>
<rect y="258.10" height="2.60" fill="#937abe"/>
<rect y="259.80" height="2.60" fill="#eda795"/>
<rect y="261.50" height="2.20" fill="#ac97cc"/>
<rect y="262.80" height="2.30" fill="#dfd5ea"/>
<rect y="264.20" height="2.40" fill="#f6edee"/>
<rect y="265.70" height="2.40" fill="#866bb6"/>
<rect y="267.20" height="2.20" fill="#dcd2e8"/>
<rect y="268.50" height="2.40" fill="#c0afd8"/>
<rect y="270.00" height="2.40" fill="#d8cde6"/>
<rect y="271.50" height="2.10" fill="#f5f2f7"/>
<rect y="272.70" height="2.60" fill="#f4cbc3"/>
<rect y="274.40" height="2.20" fill="#e3dbec"/>
<rect y="275.70" height="2.20" fill="#ddd3e8"/>
<rect y="277.00" height="2.30" fill="#f6f0f3"/>
<rect y="278.40" height="2.20" fill="#f6edef"/>
<rect y="279.70" height="2.10" fill="#e9e2ef"/>
<rect y="280.90" height="2.10" fill="#e1d8eb"/>
<rect y="282.10" height="2.90" fill="#dcd1e8"/>
<rect y="284.10" height="2.90" fill="#e5886f"/>
<rect y="286.10" height="2.20" fill="#f5d7d2"/>
<rect y="287.40" height="2.30" fill="#56399c"/>
<rect y="288.80" height="2.90" fill="#a18ac6"/>
<rect y="290.80" height="2.30" fill="#f2beb2"/>
<rect y="292.20" height="2.20" fill="#f2baad"/>
<rect y="293.50" height="2.60" fill="#a189c5"/>
<rect y="295.20" height="2.60" fill="#e1d8eb"/>
<rect y="296.90" height="2.20" fill="#9279bd"/>
<rect y="298.20" height="2.60" fill="#baa8d4"/>
<rect y="299.90" height="2.60" fill="#7154aa"/>
<rect y="301.60" height="2.30" fill="#a28cc6"/>
<rect y="303.00" height="2.10" fill="#d4c7e3"/>
<rect y="304.20" height="2.40" fill="#d9cee6"/>
<rect y="305.70" height="2.40" fill="#c6b7db"/>
<rect y="307.20" height="2.10" fill="#f6eaeb"/>
<rect y="308.40" height="2.30" fill="#f4cdc5"/>
<rect y="309.80" height="2.20" fill="#ea9b86"/>
<rect y="311.10" height="2.60" fill="#db6e50"/>
<rect y="312.80" height="2.20" fill="#ea9b86"/>
<rect y="314.10" height="2.10" fill="#de765a"/>
<rect y="315.30" height="2.20" fill="#e3856b"/>
<rect y="316.60" height="2.30" fill="#efad9c"/>
<rect y="318.00" height="2.90" fill="#e58b73"/>
<rect y="320.00" height="2.40" fill="#e7e0ee"/>
<rect y="321.50" height="2.10" fill="#f5d3cd"/>
<rect y="322.70" height="2.40" fill="#b6a2d2"/>
<rect y="324.20" height="2.40" fill="#e2daeb"/>
<rect y="325.70" height="2.60" fill="#d0c3e1"/>
<rect y="327.40" height="2.20" fill="#c1b0d8"/>
<rect y="328.70" height="2.20" fill="#7356ab"/>
<rect y="330.00" height="2.20" fill="#cabcde"/>
<rect y="331.30" height="2.30" fill="#f6eef1"/>
<rect y="332.70" height="2.30" fill="#ddd3e8"/>
<rect y="334.10" height="2.10" fill="#f6eced"/>
<rect y="335.30" height="2.40" fill="#aa95cb"/>
<rect y="336.80" height="2.40" fill="#d5c9e4"/>
<rect y="338.30" height="2.90" fill="#ea9984"/>
<rect y="340.30" height="2.20" fill="#c0afd8"/>
<rect y="341.60" height="2.90" fill="#bcabd5"/>
<rect y="343.60" height="2.20" fill="#9981c1"/>
<rect y="344.90" height="2.60" fill="#c5b5db"/>
<rect y="346.60" height="2.20" fill="#9279bd"/>
<rect y="347.90" height="2.20" fill="#b9a7d4"/>
<rect y="349.20" height="2.40" fill="#dbd0e7"/>
<rect y="350.70" height="2.30" fill="#e8e1ef"/>
<rect y="352.10" height="2.30" fill="#c6b6db"/>
<rect y="353.50" height="2.30" fill="#e4dbec"/>
<rect y="354.90" height="2.20" fill="#cabbdd"/>
<rect y="356.20" height="2.30" fill="#f0ebf3"/>
<rect y="357.60" height="2.60" fill="#f2eef5"/>
<rect y="359.30" height="2.90" fill="#e0d6ea"/>
<rect y="361.30" height="2.20" fill="#cfc2e1"/>
<rect y="362.60" height="2.60" fill="#f3eff5"/>
<rect y="364.30" height="2.10" fill="#f6f2f6"/>
<rect y="365.50" height="2.20" fill="#ebe5f1"/>
<rect y="366.80" height="2.20" fill="#f6d9d5"/>
<rect y="368.10" height="2.10" fill="#f6e0de"/>
<rect y="369.30" height="2.40" fill="#f6e8e9"/>
<rect y="370.80" height="2.30" fill="#c8b9dc"/>
<rect y="372.20" height="2.60" fill="#f6ebec"/>
<rect y="373.90" height="2.40" fill="#f6f1f4"/>
<rect y="375.40" height="2.60" fill="#f6f0f2"/>
<rect y="377.10" height="2.90" fill="#f5d6d0"/>
<rect y="379.10" height="2.40" fill="#e9e2ef"/>
<rect y="380.60" height="2.20" fill="#eee9f3"/>
<rect y="381.90" height="2.20" fill="#f6eef0"/>
<rect y="383.20" height="2.20" fill="#dcd1e8"/>
<rect y="384.50" height="2.30" fill="#f0ebf3"/>
<rect y="385.90" height="2.90" fill="#f6edee"/>
<rect y="387.90" height="2.20" fill="#f2eef5"/>
<rect y="389.20" height="2.40" fill="#f6e4e3"/>
<rect y="390.70" height="2.30" fill="#dfd6ea"/>
<rect y="392.10" height="2.30" fill="#cabbdd"/>
<rect y="393.50" height="2.10" fill="#b5a2d1"/>
<rect y="394.70" height="2.20" fill="#c9badd"/>
<rect y="396.00" height="2.40" fill="#c8b9dc"/>
<rect y="397.50" height="2.60" fill="#f0ecf4"/>
<rect y="399.20" height="2.90" fill="#c3b2d9"/>
<rect y="401.20" height="2.30" fill="#ded5e9"/>
<rect y="402.60" height="2.10" fill="#9d85c3"/>
<rect y="403.80" height="2.10" fill="#d6cae4"/>
<rect y="405.00" height="2.20" fill="#d8cde5"/>
<rect y="406.30" height="2.40" fill="#cbbcde"/>
<rect y="407.80" height="2.40" fill="#cabcde"/>
<rect y="409.30" height="2.20" fill="#e6deee"/>
<rect y="410.60" height="2.20" fill="#c0afd8"/>
<rect y="411.90" height="2.40" fill="#e3dbec"/>
<rect y="413.40" height="2.20" fill="#e4dcec"/>
<rect y="414.70" height="2.90" fill="#f6f1f4"/>
<rect y="416.70" height="2.40" fill="#f6edef"/>
<rect y="418.20" height="2.20" fill="#e0d6ea"/>
<rect y="419.50" height="2.10" fill="#d6cae4"/>
<rect y="420.70" height="2.10" fill="#f6f2f5"/>
<rect y="421.90" height="2.90" fill="#bfadd7"/>
<rect y="423.90" height="2.40" fill="#f6f3f7"/>
<rect y="425.40" height="2.40" fill="#f0ebf4"/>
<rect y="426.90" height="2.10" fill="#e6deed"/>
<rect y="428.10" height="2.10" fill="#cabcde"/>
<rect y="429.30" height="2.20" fill="#f6e6e5"/>
<rect y="430.60" height="2.90" fill="#ebe5f1"/>
<rect y="432.60" height="2.20" fill="#cec0e0"/>
<rect y="433.90" height="2.40" fill="#f6d9d5"/>
<rect y="435.40" height="2.40" fill="#cdbfdf"/>
<rect y="436.90" height="2.20" fill="#dbd0e7"/>
<rect y="438.20" height="2.20" fill="#e0d7ea"/>
<rect y="439.50" height="2.20" fill="#e5dded"/>
<rect y="440.80" height="2.90" fill="#ebe5f1"/>
<rect y="442.80" height="2.40" fill="#f5f2f7"/>
<rect y="444.30" height="2.10" fill="#f3c5bb"/>
<rect y="445.50" height="1.50" fill="#e5dded"/>
<rect y="446.80" height="0.20" fill="#b4a0d1"/>
</g>
<g transform="translate(308.77 0)">
<rect y="175.50" height="2.90" fill="#f4c9c0"/>
<rect y="177.50" height="2.90" fill="#c2b2d9"/>
<rect y="179.50" height="2.90" fill="#eca28f"/>
<rect y="181.50" height="2.30" fill="#cabbdd"/>
<rect y="182.90" height="2.20" fill="#b6a3d2"/>
<rect y="184.20" height="2.90" fill="#e3dbec"/>
<rect y="186.20" height="2.20" fill="#b4a0d1"/>
<rect y="187.50" height="2.20" fill="#7458ac"/>
<rect y="188.80" height="2.90" fill="#e5dded"/>
<rect y="190.80" height="2.40" fill="#a892c9"/>
<rect y="192.30" height="2.20" fill="#c7b7db"/>
<rect y="193.60" height="2.20" fill="#6649a4"/>
<rect y="194.90" height="2.10" fill="#c5b6db"/>
<rect y="196.10" height="2.60" fill="#c2b1d9"/>
<rect y="197.80" height="2.90" fill="#c7b8dc"/>
<rect y="199.80" height="2.20" fill="#a690c9"/>
<rect y="201.10" height="2.10" fill="#9f88c5"/>
<rect y="202.30" height="2.20" fill="#d3c7e3"/>
<rect y="203.60" height="2.10" fill="#8064b2"/>
<rect y="204.80" height="2.10" fill="#8b70b9"/>
<rect y="206.00" height="2.30" fill="#452a94"/>
<rect y="207.40" height="2.30" fill="#eda592"/>
<rect y="208.80" height="2.10" fill="#7054aa"/>
<rect y="210.00" height="2.90" fill="#dcd2e8"/>
<rect y="212.00" height="2.40" fill="#f0b3a4"/>
<rect y="213.50" height="2.90" fill="#bcaad5"/>
<rect y="215.50" height="2.30" fill="#6346a3"/>
<rect y="216.90" height="2.30" fill="#f6dfdd"/>
<rect y="218.30" height="2.40" fill="#a28bc6"/>
<rect y="219.80" height="2.90" fill="#ece6f1"/>
<rect y="221.80" height="2.10" fill="#ede7f2"/>
<rect y="223.00" height="2.20" fill="#7357ac"/>
<rect y="224.30" height="2.90" fill="#896eb8"/>
<rect y="226.30" height="2.40" fill="#e1d9eb"/>
<rect y="227.80" height="2.60" fill="#eae4f0"/>
<rect y="229.50" height="2.20" fill="#a994cb"/>
<rect y="230.80" height="2.40" fill="#c9badd"/>
<rect y="232.30" height="2.40" fill="#e4dced"/>
<rect y="233.80" height="2.30" fill="#f5cfc8"/>
<rect y="235.20" height="2.40" fill="#f2eef5"/>
<rect y="236.70" height="2.10" fill="#c7b8dc"/>
<rect y="237.90" height="2.20" fill="#ab96cb"/>
<rect y="239.20" height="2.20" fill="#f6eced"/>
<rect y="240.50" height="2.60" fill="#f3c3b8"/>
<rect y="242.20" height="2.20" fill="#beadd7"/>
<rect y="243.50" height="2.40" fill="#c9bbdd"/>
<rect y="245.00" height="2.60" fill="#f6f2f6"/>
<rect y="246.70" height="2.20" fill="#f6eef1"/>
<rect y="248.00" height="2.10" fill="#8166b3"/>
<rect y="249.20" height="2.10" fill="#f4c6bc"/>
<rect y="250.40" height="2.30" fill="#8469b5"/>
<rect y="251.80" height="2.30" fill="#c7b7dc"/>
<rect y="253.20" height="2.10" fill="#f4c6bc"/>
<rect y="254.40" height="2.90" fill="#e78f77"/>
<rect y="256.40" height="2.60" fill="#f6e3e2"/>
<rect y="258.10" height="2.60" fill="#cdbfdf"/>
<rect y="259.80" height="2.60" fill="#f4c8bf"/>
<rect y="261.50" height="2.20" fill="#f5f2f7"/>
<rect y="262.80" height="2.30" fill="#eae4f0"/>
<rect y="264.20" height="2.40" fill="#f1edf4"/>
<rect y="265.70" height="2.40" fill="#a993ca"/>
<rect y="267.20" height="2.20" fill="#f2bbaf"/>
<rect y="268.50" height="2.40" fill="#f6edef"/>
<rect y="270.00" height="2.40" fill="#e8927b"/>
<rect y="271.50" height="2.10" fill="#f5d2cb"/>
<rect y="272.70" height="2.60" fill="#ea9a85"/>
<rect y="274.40" height="2.20" fill="#c4b4da"/>
<rect y="275.70" height="2.20" fill="#e4dbec"/>
<rect y="277.00" height="2.30" fill="#f6f2f5"/>
<rect y="278.40" height="2.20" fill="#c5b5da"/>
<rect y="279.70" height="2.10" fill="#d8cce5"/>
<rect y="280.90" height="2.10" fill="#9278bd"/>
<rect y="282.10" height="2.90" fill="#beacd6"/>
<rect y="284.10" height="2.90" fill="#f1b8aa"/>
<rect y="286.10" height="2.20" fill="#e5deed"/>
<rect y="287.40" height="2.30" fill="#9076bc"/>
<rect y="288.80" height="2.90" fill="#6043a1"/>
<rect y="290.80" height="2.30" fill="#f5f2f7"/>
<rect y="292.20" height="2.20" fill="#f6e8e8"/>
<rect y="293.50" height="2.60" fill="#8f75bb"/>
<rect y="295.20" height="2.60" fill="#d3c6e3"/>
<rect y="296.90" height="2.20" fill="#9981c1"/>
<rect y="298.20" height="2.60" fill="#b29ecf"/>
<rect y="299.90" height="2.60" fill="#9981c1"/>
<rect y="301.60" height="2.30" fill="#f6e6e6"/>
<rect y="303.00" height="2.10" fill="#ad98cc"/>
<rect y="304.20" height="2.40" fill="#efae9e"/>
<rect y="305.70" height="2.40" fill="#b9a6d4"/>
<rect y="307.20" height="2.10" fill="#f4c9c0"/>
<rect y="308.40" height="2.30" fill="#eea896"/>
<rect y="309.80" height="2.20" fill="#f6dfdd"/>
<rect y="311.10" height="2.60" fill="#e68c74"/>
<rect y="312.80" height="2.20" fill="#f4c6bd"/>
<rect y="314.10" height="2.10" fill="#e3856b"/>
<rect y="315.30" height="2.20" fill="#eea998"/>
<rect y="316.60" height="2.30" fill="#eca28e"/>
<rect y="318.00" height="2.90" fill="#f5cec6"/>
<rect y="320.00" height="2.40" fill="#d5c9e4"/>
<rect y="321.50" height="2.10" fill="#c6b7db"/>
<rect y="322.70" height="2.40" fill="#f2eef5"/>
<rect y="324.20" height="2.40" fill="#e4dbec"/>
<rect y="325.70" height="2.60" fill="#d8cde6"/>
<rect y="327.40" height="2.20" fill="#e0d7ea"/>
<rect y="328.70" height="2.20" fill="#b29ecf"/>
<rect y="330.00" height="2.20" fill="#cdbfdf"/>
<rect y="331.30" height="2.30" fill="#e4dced"/>
<rect y="332.70" height="2.30" fill="#b19dcf"/>
<rect y="334.10" height="2.10" fill="#b9a7d4"/>
<rect y="335.30" height="2.40" fill="#f5d3cd"/>
<rect y="336.80" height="2.40" fill="#b4a1d1"/>
<rect y="338.30" height="2.90" fill="#e79079"/>
<rect y="340.30" height="2.20" fill="#ad98cd"/>
<rect y="341.60" height="2.90" fill="#c7b8dc"/>
<rect y="343.60" height="2.20" fill="#e2daeb"/>
<rect y="344.90" height="2.60" fill="#d4c8e3"/>
<rect y="346.60" height="2.20" fill="#b39fd0"/>
<rect y="347.90" height="2.20" fill="#bba9d5"/>
<rect y="349.20" height="2.40" fill="#e1d8eb"/>
<rect y="350.70" height="2.30" fill="#b3a0d0"/>
<rect y="352.10" height="2.30" fill="#cdbfdf"/>
<rect y="353.50" height="2.30" fill="#a690c9"/>
<rect y="354.90" height="2.20" fill="#e1d9eb"/>
<rect y="356.20" height="2.30" fill="#d8cde6"/>
<rect y="357.60" height="2.60" fill="#f1ecf4"/>
<rect y="359.30" height="2.90" fill="#f6e6e6"/>
<rect y="361.30" height="2.20" fill="#f6f3f7"/>
<rect y="362.60" height="2.60" fill="#d2c6e2"/>
<rect y="364.30" height="2.10" fill="#e8e0ef"/>
<rect y="365.50" height="2.20" fill="#eee9f3"/>
<rect y="366.80" height="2.20" fill="#ebe5f1"/>
<rect y="368.10" height="2.10" fill="#f4c6bc"/>
<rect y="369.30" height="2.40" fill="#f6e5e4"/>
<rect y="370.80" height="2.30" fill="#eae4f0"/>
<rect y="372.20" height="2.60" fill="#f4cdc5"/>
<rect y="373.90" height="2.40" fill="#f6f3f7"/>
<rect y="375.40" height="2.60" fill="#f6dbd8"/>
<rect y="377.10" height="2.90" fill="#f6e7e7"/>
<rect y="379.10" height="2.40" fill="#e9e3f0"/>
<rect y="380.60" height="2.20" fill="#f5cec7"/>
<rect y="381.90" height="2.20" fill="#f6e4e3"/>
<rect y="383.20" height="2.20" fill="#f6e9ea"/>
<rect y="384.50" height="2.30" fill="#f6e4e3"/>
<rect y="385.90" height="2.90" fill="#f6dedb"/>
<rect y="387.90" height="2.20" fill="#f6eff1"/>
<rect y="389.20" height="2.40" fill="#f4cdc5"/>
<rect y="390.70" height="2.30" fill="#ded5e9"/>
<rect y="392.10" height="2.30" fill="#f6ebec"/>
<rect y="393.50" height="2.10" fill="#efeaf3"/>
<rect y="394.70" height="2.20" fill="#f6d9d4"/>
<rect y="396.00" height="2.40" fill="#f6eff2"/>
<rect y="397.50" height="2.60" fill="#f6dbd7"/>
<rect y="399.20" height="2.90" fill="#f6e2e1"/>
<rect y="401.20" height="2.30" fill="#e4dbec"/>
<rect y="402.60" height="2.10" fill="#d3c6e3"/>
<rect y="403.80" height="2.10" fill="#ebe5f1"/>
<rect y="405.00" height="2.20" fill="#e7e0ee"/>
<rect y="406.30" height="2.40" fill="#cdbfdf"/>
<rect y="407.80" height="2.40" fill="#eae4f0"/>
<rect y="409.30" height="2.20" fill="#dacfe7"/>
<rect y="410.60" height="2.20" fill="#e2d9eb"/>
<rect y="411.90" height="2.40" fill="#f6eef0"/>
<rect y="413.40" height="2.20" fill="#ddd3e8"/>
<rect y="414.70" height="2.90" fill="#f6eff1"/>
<rect y="416.70" height="2.40" fill="#f5cfc8"/>
<rect y="418.20" height="2.20" fill="#c4b4da"/>
<rect y="419.50" height="2.10" fill="#c4b4da"/>
<rect y="420.70" height="2.10" fill="#ddd3e8"/>
<rect y="421.90" height="2.90" fill="#ece7f1"/>
<rect y="423.90" height="2.40" fill="#f6eced"/>
<rect y="425.40" height="2.40" fill="#f6e0de"/>
<rect y="426.90" height="2.10" fill="#c2b2d9"/>
<rect y="428.10" height="2.10" fill="#b9a6d4"/>
<rect y="429.30" height="2.20" fill="#f4c7bd"/>
<rect y="430.60" height="2.90" fill="#f6e4e3"/>
<rect y="432.60" height="2.20" fill="#f5d7d2"/>
<rect y="433.90" height="2.40" fill="#f6eff2"/>
<rect y="435.40" height="2.40" fill="#ddd3e9"/>
<rect y="436.90" height="2.20" fill="#e3dbec"/>
<rect y="438.20" height="2.20" fill="#eae3f0"/>
<rect y="439.50" height="2.20" fill="#f6dcd9"/>
<rect y="440.80" height="2.90" fill="#f6e3e2"/>
<rect y="442.80" height="2.40" fill="#dbd0e7"/>
<rect y="444.30" height="2.10" fill="#f6dddb"/>
<rect y="445.50" height="1.50" fill="#ece6f1"/>
<rect y="446.80" height="0.20" fill="#e4dced"/>
</g>
<g transform="translate(317.88 0)">
<rect y="175.50" height="2.90" fill="#f5d5d0"/>
<rect y="177.50" height="2.90" fill="#f6dfdc"/>
<rect y="179.50" height="2.90" fill="#cdbfdf"/>
<rect y="181.50" height="2.30" fill="#a28bc6"/>
<rect y="182.90" height="2.20" fill="#a38cc7"/>
<rect y="184.20" height="2.90" fill="#a28bc6"/>
<rect y="186.20" height="2.20" fill="#bfaed7"/>
<rect y="187.50" height="2.20" fill="#a18ac5"/>
<rect y="188.80" height="2.90" fill="#b19ccf"/>
<rect y="190.80" height="2.40" fill="#cabcde"/>
<rect y="192.30" height="2.20" fill="#dcd2e8"/>
<rect y="193.60" height="2.20" fill="#886db7"/>
<rect y="194.90" height="2.10" fill="#a690c9"/>
<rect y="196.10" height="2.60" fill="#8b71b9"/>
<rect y="197.80" height="2.90" fill="#7357ac"/>
<rect y="199.80" height="2.20" fill="#b7a4d2"/>
<rect y="201.10" height="2.10" fill="#a48dc7"/>
<rect y="202.30" height="2.20" fill="#7b5fb0"/>
<rect y="203.60" height="2.10" fill="#bba9d5"/>
<rect y="204.80" height="2.10" fill="#785cae"/>
<rect y="206.00" height="2.30" fill="#6447a3"/>
<rect y="207.40" height="2.30" fill="#f5d2cc"/>
<rect y="208.80" height="2.10" fill="#8e74ba"/>
<rect y="210.00" height="2.90" fill="#8a70b9"/>
<rect y="212.00" height="2.40" fill="#f1b8aa"/>
<rect y="213.50" height="2.90" fill="#9a81c1"/>
<rect y="215.50" height="2.30" fill="#442993"/>
<rect y="216.90" height="2.30" fill="#d2c5e2"/>
<rect y="218.30" height="2.40" fill="#cfc1e0"/>
<rect y="219.80" height="2.90" fill="#bba9d5"/>
<rect y="221.80" height="2.10" fill="#f6edee"/>
<rect y="223.00" height="2.20" fill="#5d409f"/>
<rect y="224.30" height="2.90" fill="#aa95cb"/>
<rect y="226.30" height="2.40" fill="#ddd4e9"/>
<rect y="227.80" height="2.60" fill="#ded5e9"/>
<rect y="229.50" height="2.20" fill="#e3daec"/>
<rect y="230.80" height="2.40" fill="#f6eff1"/>
<rect y="232.30" height="2.40" fill="#bcaad5"/>
<rect y="233.80" height="2.30" fill="#eea997"/>
<rect y="235.20" height="2.40" fill="#ede7f2"/>
<rect y="236.70" height="2.10" fill="#dacfe7"/>
<rect y="237.90" height="2.20" fill="#c1b0d8"/>
<rect y="239.20" height="2.20" fill="#f6dfdd"/>
<rect y="240.50" height="2.60" fill="#eb9c87"/>
<rect y="242.20" height="2.20" fill="#ad98cd"/>
<rect y="243.50" height="2.40" fill="#af9bce"/>
<rect y="245.00" height="2.60" fill="#e4dcec"/>
<rect y="246.70" height="2.20" fill="#856ab5"/>
<rect y="248.00" height="2.10" fill="#b9a7d4"/>
<rect y="249.20" height="2.10" fill="#ebe5f1"/>
<rect y="250.40" height="2.30" fill="#c2b1d9"/>
<rect y="251.80" height="2.30" fill="#947bbe"/>
<rect y="253.20" height="2.10" fill="#c4b4da"/>
<rect y="254.40" height="2.90" fill="#f2bdb0"/>
<rect y="256.40" height="2.60" fill="#c9badd"/>
<rect y="258.10" height="2.60" fill="#a58ec8"/>
<rect y="259.80" height="2.60" fill="#f6e7e8"/>
<rect y="261.50" height="2.20" fill="#cdbfdf"/>
<rect y="262.80" height="2.30" fill="#bfadd7"/>
<rect y="264.20" height="2.40" fill="#e3dbec"/>
<rect y="265.70" height="2.40" fill="#ccbdde"/>
<rect y="267.20" height="2.20" fill="#a38dc7"/>
<rect y="268.50" height="2.40" fill="#f6edef"/>
<rect y="270.00" height="2.40" fill="#d2c5e2"/>
<rect y="271.50" height="2.10" fill="#efeaf3"/>
<rect y="272.70" height="2.60" fill="#efab9a"/>
<rect y="274.40" height="2.20" fill="#efeaf3"/>
<rect y="275.70" height="2.20" fill="#b39fd0"/>
<rect y="277.00" height="2.30" fill="#c8b9dc"/>
<rect y="278.40" height="2.20" fill="#957cbf"/>
<rect y="279.70" height="2.10" fill="#f1edf4"/>
<rect y="280.90" height="2.10" fill="#e6deee"/>
<rect y="282.10" height="2.90" fill="#8c71b9"/>
<rect y="284.10" height="2.90" fill="#e9967f"/>
<rect y="286.10" height="2.20" fill="#f4cbc3"/>
<rect y="287.40" height="2.30" fill="#8267b4"/>
<rect y="288.80" height="2.90" fill="#9076bc"/>
<rect y="290.80" height="2.30" fill="#f5d6d1"/>
<rect y="292.20" height="2.20" fill="#9c84c3"/>
<rect y="293.50" height="2.60" fill="#947abe"/>
<rect y="295.20" height="2.60" fill="#eee9f2"/>
<rect y="296.90" height="2.20" fill="#a18ac6"/>
<rect y="298.20" height="2.60" fill="#b09bce"/>
<rect y="299.90" height="2.60" fill="#ab95cb"/>
<rect y="301.60" height="2.30" fill="#f6f2f7"/>
<rect y="303.00" height="2.10" fill="#dacfe7"/>
<rect y="304.20" height="2.40" fill="#f5d3cd"/>
<rect y="305.70" height="2.40" fill="#bdacd6"/>
<rect y="307.20" height="2.10" fill="#eca28f"/>
<rect y="308.40" height="2.30" fill="#f6f1f5"/>
<rect y="309.80" height="2.20" fill="#f4cac1"/>
<rect y="311.10" height="2.60" fill="#df795d"/>
<rect y="312.80" height="2.20" fill="#e58971"/>
<rect y="314.10" height="2.10" fill="#e68d75"/>
<rect y="315.30" height="2.20" fill="#eeaa99"/>
<rect y="316.60" height="2.30" fill="#e79179"/>
<rect y="318.00" height="2.90" fill="#f4c6bc"/>
<rect y="320.00" height="2.40" fill="#eca08c"/>
<rect y="321.50" height="2.10" fill="#ebe5f1"/>
<rect y="322.70" height="2.40" fill="#f5d6d0"/>
<rect y="324.20" height="2.40" fill="#c3b2d9"/>
<rect y="325.70" height="2.60" fill="#856ab6"/>
<rect y="327.40" height="2.20" fill="#7d62b1"/>
<rect y="328.70" height="2.20" fill="#c6b6db"/>
<rect y="330.00" height="2.20" fill="#977ec0"/>
<rect y="331.30" height="2.30" fill="#dfd6ea"/>
<rect y="332.70" height="2.30" fill="#8e74bb"/>
<rect y="334.10" height="2.10" fill="#c7b8dc"/>
<rect y="335.30" height="2.40" fill="#dfd6ea"/>
<rect y="336.80" height="2.40" fill="#ccbdde"/>
<rect y="338.30" height="2.90" fill="#f5cec7"/>
<rect y="340.30" height="2.20" fill="#af9ace"/>
<rect y="341.60" height="2.90" fill="#f1edf4"/>
<rect y="343.60" height="2.20" fill="#d6cae4"/>
<rect y="344.90" height="2.60" fill="#e5dded"/>
<rect y="346.60" height="2.20" fill="#c9badd"/>
<rect y="347.90" height="2.20" fill="#b3a0d0"/>
<rect y="349.20" height="2.40" fill="#f5f1f6"/>
<rect y="350.70" height="2.30" fill="#ebe5f1"/>
<rect y="352.10" height="2.30" fill="#c3b3d9"/>
<rect y="353.50" height="2.30" fill="#f6ecee"/>
<rect y="354.90" height="2.20" fill="#9f87c4"/>
<rect y="356.20" height="2.30" fill="#c9badd"/>
<rect y="357.60" height="2.60" fill="#c8b9dc"/>
<rect y="359.30" height="2.90" fill="#dbd1e7"/>
<rect y="361.30" height="2.20" fill="#d8cce5"/>
<rect y="362.60" height="2.60" fill="#efeaf3"/>
<rect y="364.30" height="2.10" fill="#f6dfdd"/>
<rect y="365.50" height="2.20" fill="#efeaf3"/>
<rect y="366.80" height="2.20" fill="#f6e2e0"/>
<rect y="368.10" height="2.10" fill="#f6f3f7"/>
<rect y="369.30" height="2.40" fill="#dfd5e9"/>
<rect y="370.80" height="2.30" fill="#e1d9eb"/>
<rect y="372.20" height="2.60" fill="#eae3f0"/>
<rect y="373.90" height="2.40" fill="#f6f2f5"/>
<rect y="375.40" height="2.60" fill="#f6dad6"/>
<rect y="377.10" height="2.90" fill="#d7cce5"/>
<rect y="379.10" height="2.40" fill="#f6f3f7"/>
<rect y="380.60" height="2.20" fill="#f5f2f6"/>
<rect y="381.90" height="2.20" fill="#f6ddda"/>
<rect y="383.20" height="2.20" fill="#dcd1e8"/>
<rect y="384.50" height="2.30" fill="#f1ecf4"/>
<rect y="385.90" height="2.90" fill="#f6f2f5"/>
<rect y="387.90" height="2.20" fill="#d7cce5"/>
<rect y="389.20" height="2.40" fill="#f6f1f4"/>
<rect y="390.70" height="2.30" fill="#dacfe7"/>
<rect y="392.10" height="2.30" fill="#ded5e9"/>
<rect y="393.50" height="2.10" fill="#d9cee6"/>
<rect y="394.70" height="2.20" fill="#e6dfee"/>
<rect y="396.00" height="2.40" fill="#b29ed0"/>
<rect y="397.50" height="2.60" fill="#cbbdde"/>
<rect y="399.20" height="2.90" fill="#f0ecf4"/>
<rect y="401.20" height="2.30" fill="#a791c9"/>
<rect y="402.60" height="2.10" fill="#b9a7d4"/>
<rect y="403.80" height="2.10" fill="#d4c7e3"/>
<rect y="405.00" height="2.20" fill="#e0d6ea"/>
<rect y="406.30" height="2.40" fill="#d5c9e4"/>
<rect y="407.80" height="2.40" fill="#d0c3e1"/>
<rect y="409.30" height="2.20" fill="#c8b9dc"/>
<rect y="410.60" height="2.20" fill="#d4c8e3"/>
<rect y="411.90" height="2.40" fill="#e1d8eb"/>
<rect y="413.40" height="2.20" fill="#e7dfee"/>
<rect y="414.70" height="2.90" fill="#e4dced"/>
<rect y="416.70" height="2.40" fill="#f5d2cc"/>
<rect y="418.20" height="2.20" fill="#c4b4da"/>
<rect y="419.50" height="2.10" fill="#d0c3e1"/>
<rect y="420.70" height="2.10" fill="#e2daec"/>
<rect y="421.90" height="2.90" fill="#d4c7e3"/>
<rect y="423.90" height="2.40" fill="#e5dded"/>
<rect y="425.40" height="2.40" fill="#f5f1f6"/>
<rect y="426.90" height="2.10" fill="#ccbede"/>
<rect y="428.10" height="2.10" fill="#e8e1ef"/>
<rect y="429.30" height="2.20" fill="#f6e0de"/>
<rect y="430.60" height="2.90" fill="#f5d5d0"/>
<rect y="432.60" height="2.20" fill="#d3c6e3"/>
<rect y="433.90" height="2.40" fill="#d9cee6"/>
<rect y="435.40" height="2.40" fill="#d4c8e3"/>
<rect y="436.90" height="2.20" fill="#cfc2e1"/>
<rect y="438.20" height="2.20" fill="#efeaf3"/>
<rect y="439.50" height="2.20" fill="#e8e1ef"/>
<rect y="440.80" height="2.90" fill="#eee9f2"/>
<rect y="442.80" height="2.40" fill="#f6edef"/>
<rect y="444.30" height="2.10" fill="#f5cfc8"/>
<rect y="445.50" height="1.50" fill="#c3b3d9"/>
<rect y="446.80" height="0.20" fill="#eae3f0"/>
</g>
<g transform="translate(326.99 0)">
<rect y="175.50" height="2.90" fill="#f6f3f7"/>
<rect y="177.50" height="2.90" fill="#dfd5ea"/>
<rect y="179.50" height="2.90" fill="#e5deed"/>
<rect y="181.50" height="2.30" fill="#c3b2d9"/>
<rect y="182.90" height="2.20" fill="#9880c1"/>
<rect y="184.20" height="2.90" fill="#ebe5f1"/>
<rect y="186.20" height="2.20" fill="#eee8f2"/>
<rect y="187.50" height="2.20" fill="#eae4f0"/>
<rect y="188.80" height="2.90" fill="#c5b5da"/>
<rect y="190.80" height="2.40" fill="#b6a3d2"/>
<rect y="192.30" height="2.20" fill="#a791c9"/>
<rect y="193.60" height="2.20" fill="#beadd7"/>
<rect y="194.90" height="2.10" fill="#a28bc6"/>
<rect y="196.10" height="2.60" fill="#f0ebf3"/>
<rect y="197.80" height="2.90" fill="#b09bce"/>
<rect y="199.80" height="2.20" fill="#f5f2f7"/>
<rect y="201.10" height="2.10" fill="#aa95cb"/>
<rect y="202.30" height="2.20" fill="#b4a0d0"/>
<rect y="203.60" height="2.10" fill="#c1b0d8"/>
<rect y="204.80" height="2.10" fill="#f4cbc2"/>
<rect y="206.00" height="2.30" fill="#c9badd"/>
<rect y="207.40" height="2.30" fill="#e0d7ea"/>
<rect y="208.80" height="2.10" fill="#b8a5d3"/>
<rect y="210.00" height="2.90" fill="#f0ecf4"/>
<rect y="212.00" height="2.40" fill="#ddd3e9"/>
<rect y="213.50" height="2.90" fill="#e0d7ea"/>
<rect y="215.50" height="2.30" fill="#d3c6e2"/>
<rect y="216.90" height="2.30" fill="#d2c5e2"/>
<rect y="218.30" height="2.40" fill="#d5c9e4"/>
<rect y="219.80" height="2.90" fill="#cdbfdf"/>
<rect y="221.80" height="2.10" fill="#785cae"/>
<rect y="223.00" height="2.20" fill="#8469b5"/>
<rect y="224.30" height="2.90" fill="#9076bc"/>
<rect y="226.30" height="2.40" fill="#3e2490"/>
<rect y="227.80" height="2.60" fill="#8469b5"/>
<rect y="229.50" height="2.20" fill="#f2eef5"/>
<rect y="230.80" height="2.40" fill="#a892ca"/>
<rect y="232.30" height="2.40" fill="#f6e4e3"/>
<rect y="233.80" height="2.30" fill="#ac97cc"/>
<rect y="235.20" height="2.40" fill="#f4c7be"/>
<rect y="236.70" height="2.10" fill="#452a94"/>
<rect y="237.90" height="2.20" fill="#856ab5"/>
<rect y="239.20" height="2.20" fill="#52359a"/>
<rect y="240.50" height="2.60" fill="#e2d9eb"/>
<rect y="242.20" height="2.20" fill="#c0afd8"/>
<rect y="243.50" height="2.40" fill="#4f3398"/>
<rect y="245.00" height="2.60" fill="#f5f2f7"/>
<rect y="246.70" height="2.20" fill="#f1ecf4"/>
<rect y="248.00" height="2.10" fill="#b09bce"/>
<rect y="249.20" height="2.10" fill="#8267b4"/>
<rect y="250.40" height="2.30" fill="#c5b6db"/>
<rect y="251.80" height="2.30" fill="#8b70b9"/>
<rect y="253.20" height="2.10" fill="#7054aa"/>
<rect y="254.40" height="2.90" fill="#957cbf"/>
<rect y="256.40" height="2.60" fill="#dcd1e8"/>
<rect y="258.10" height="2.60" fill="#6548a4"/>
<rect y="259.80" height="2.60" fill="#6a4da7"/>
<rect y="261.50" height="2.20" fill="#7559ad"/>
<rect y="262.80" height="2.30" fill="#7c60b1"/>
<rect y="264.20" height="2.40" fill="#d3c6e2"/>
<rect y="265.70" height="2.40" fill="#b7a5d3"/>
<rect y="267.20" height="2.20" fill="#a18ac6"/>
<rect y="268.50" height="2.40" fill="#937abd"/>
<rect y="270.00" height="2.40" fill="#c7b7dc"/>
<rect y="271.50" height="2.10" fill="#a28bc6"/>
<rect y="272.70" height="2.60" fill="#ece6f1"/>
<rect y="274.40" height="2.20" fill="#ad98cd"/>
<rect y="275.70" height="2.20" fill="#f3c4b9"/>
<rect y="277.00" height="2.30" fill="#c5b5da"/>
<rect y="278.40" height="2.20" fill="#a48dc7"/>
<rect y="279.70" height="2.10" fill="#a38cc7"/>
<rect y="280.90" height="2.10" fill="#dfd6ea"/>
<rect y="282.10" height="2.90" fill="#d9cee6"/>
<rect y="284.10" height="2.90" fill="#f6dfdd"/>
<rect y="286.10" height="2.20" fill="#c63c1c"/>
<rect y="287.40" height="2.30" fill="#efaf9f"/>
<rect y="288.80" height="2.90" fill="#f5d0c9"/>
<rect y="290.80" height="2.30" fill="#e4886f"/>
<rect y="292.20" height="2.20" fill="#cd4c2c"/>
<rect y="293.50" height="2.60" fill="#f4c8be"/>
<rect y="295.20" height="2.60" fill="#e17f65"/>
<rect y="296.90" height="2.20" fill="#f0b4a5"/>
<rect y="298.20" height="2.60" fill="#e28166"/>
<rect y="299.90" height="2.60" fill="#f4c9c0"/>
<rect y="301.60" height="2.30" fill="#e4866d"/>
<rect y="303.00" height="2.10" fill="#f0b4a5"/>
<rect y="304.20" height="2.40" fill="#f6dcd9"/>
<rect y="305.70" height="2.40" fill="#f6e4e3"/>
<rect y="307.20" height="2.10" fill="#e4dbec"/>
<rect y="308.40" height="2.30" fill="#e2daec"/>
<rect y="309.80" height="2.20" fill="#eee9f2"/>
<rect y="311.10" height="2.60" fill="#f0ebf3"/>
<rect y="312.80" height="2.20" fill="#f1b9ab"/>
<rect y="314.10" height="2.10" fill="#f5d6d1"/>
<rect y="315.30" height="2.20" fill="#f5cec7"/>
<rect y="316.60" height="2.30" fill="#cabbdd"/>
<rect y="318.00" height="2.90" fill="#e6deed"/>
<rect y="320.00" height="2.40" fill="#d9cee6"/>
<rect y="321.50" height="2.10" fill="#c2b1d9"/>
<rect y="322.70" height="2.40" fill="#cfc2e0"/>
<rect y="324.20" height="2.40" fill="#f5cfc8"/>
<rect y="325.70" height="2.60" fill="#b5a2d1"/>
<rect y="327.40" height="2.20" fill="#d0c3e1"/>
<rect y="328.70" height="2.20" fill="#ede8f2"/>
<rect y="330.00" height="2.20" fill="#cfc2e1"/>
<rect y="331.30" height="2.30" fill="#d3c7e3"/>
<rect y="332.70" height="2.30" fill="#e5deed"/>
<rect y="334.10" height="2.10" fill="#e3dbec"/>
<rect y="335.30" height="2.40" fill="#f6e8e9"/>
<rect y="336.80" height="2.40" fill="#f6e1df"/>
<rect y="338.30" height="2.90" fill="#d5c9e4"/>
<rect y="340.30" height="2.20" fill="#eae4f0"/>
<rect y="341.60" height="2.90" fill="#c7b8dc"/>
<rect y="343.60" height="2.20" fill="#f5d7d2"/>
<rect y="344.90" height="2.60" fill="#c6b6db"/>
<rect y="346.60" height="2.20" fill="#dacfe7"/>
<rect y="347.90" height="2.20" fill="#f6e2e0"/>
<rect y="349.20" height="2.40" fill="#f6eef0"/>
<rect y="350.70" height="2.30" fill="#f5d6d0"/>
<rect y="352.10" height="2.30" fill="#ece7f1"/>
<rect y="353.50" height="2.30" fill="#e7e0ee"/>
<rect y="354.90" height="2.20" fill="#f6e6e6"/>
<rect y="356.20" height="2.30" fill="#f5f1f6"/>
<rect y="357.60" height="2.60" fill="#d5c9e4"/>
<rect y="359.30" height="2.90" fill="#c7b7db"/>
<rect y="361.30" height="2.20" fill="#bdabd6"/>
<rect y="362.60" height="2.60" fill="#f6f1f5"/>
<rect y="364.30" height="2.10" fill="#e5dded"/>
<rect y="365.50" height="2.20" fill="#e4dced"/>
<rect y="366.80" height="2.20" fill="#cdbfdf"/>
<rect y="368.10" height="2.10" fill="#ded5e9"/>
<rect y="369.30" height="2.40" fill="#cabbde"/>
<rect y="370.80" height="2.30" fill="#d3c7e3"/>
<rect y="372.20" height="2.60" fill="#af9bce"/>
<rect y="373.90" height="2.40" fill="#bfaed7"/>
<rect y="375.40" height="2.60" fill="#efeaf3"/>
<rect y="377.10" height="2.90" fill="#ded4e9"/>
<rect y="379.10" height="2.40" fill="#f2eef5"/>
<rect y="380.60" height="2.20" fill="#ede8f2"/>
<rect y="381.90" height="2.20" fill="#f5d0c9"/>
<rect y="383.20" height="2.20" fill="#d6cae4"/>
<rect y="384.50" height="2.30" fill="#f6f2f5"/>
<rect y="385.90" height="2.90" fill="#f6eff1"/>
<rect y="387.90" height="2.20" fill="#e6deee"/>
<rect y="389.20" height="2.40" fill="#d8cde6"/>
<rect y="390.70" height="2.30" fill="#e7dfee"/>
<rect y="392.10" height="2.30" fill="#f0ecf4"/>
<rect y="393.50" height="2.10" fill="#e6deed"/>
<rect y="394.70" height="2.20" fill="#e3daec"/>
<rect y="396.00" height="2.40" fill="#dcd1e8"/>
<rect y="397.50" height="2.60" fill="#c7b8dc"/>
<rect y="399.20" height="2.90" fill="#f2baad"/>
<rect y="401.20" height="2.30" fill="#e7e0ee"/>
<rect y="402.60" height="2.10" fill="#ede7f2"/>
<rect y="403.80" height="2.10" fill="#dcd2e8"/>
<rect y="405.00" height="2.20" fill="#d0c3e1"/>
<rect y="406.30" height="2.40" fill="#e9e2ef"/>
<rect y="407.80" height="2.40" fill="#cbbcde"/>
<rect y="409.30" height="2.20" fill="#cfc1e0"/>
<rect y="410.60" height="2.20" fill="#d6cae4"/>
<rect y="411.90" height="2.40" fill="#f6e4e3"/>
<rect y="413.40" height="2.20" fill="#e6deed"/>
<rect y="414.70" height="2.90" fill="#c0afd7"/>
<rect y="416.70" height="2.40" fill="#efeaf3"/>
<rect y="418.20" height="2.20" fill="#dbd0e7"/>
<rect y="419.50" height="2.10" fill="#d5c9e4"/>
<rect y="420.70" height="2.10" fill="#d8cde6"/>
<rect y="421.90" height="2.90" fill="#cdc0df"/>
<rect y="423.90" height="2.40" fill="#f6edef"/>
<rect y="425.40" height="2.40" fill="#baa8d4"/>
<rect y="426.90" height="2.10" fill="#e5dded"/>
<rect y="428.10" height="2.10" fill="#ddd3e8"/>
<rect y="429.30" height="2.20" fill="#f6f0f3"/>
<rect y="430.60" height="2.90" fill="#ebe4f0"/>
<rect y="432.60" height="2.20" fill="#d2c5e2"/>
<rect y="433.90" height="2.40" fill="#d7cce5"/>
<rect y="435.40" height="2.40" fill="#ddd3e8"/>
<rect y="436.90" height="2.20" fill="#c8b8dc"/>
<rect y="438.20" height="2.20" fill="#b5a2d1"/>
<rect y="439.50" height="2.20" fill="#dacfe6"/>
<rect y="440.80" height="2.90" fill="#c2b2d9"/>
<rect y="442.80" height="2.40" fill="#cdbfdf"/>
<rect y="444.30" height="2.10" fill="#f0ecf4"/>
<rect y="445.50" height="1.50" fill="#cabbdd"/>
<rect y="446.80" height="0.20" fill="#e6deed"/>
</g>
<g transform="translate(336.10 0)">
<rect y="175.50" height="2.90" fill="#e6deee"/>
<rect y="177.50" height="2.90" fill="#cfc2e1"/>
<rect y="179.50" height="2.90" fill="#eee9f2"/>
<rect y="181.50" height="2.30" fill="#a58fc8"/>
<rect y="182.90" height="2.20" fill="#aa94cb"/>
<rect y="184.20" height="2.90" fill="#ebe5f1"/>
<rect y="186.20" height="2.20" fill="#d9cfe6"/>
<rect y="187.50" height="2.20" fill="#d3c7e3"/>
<rect y="188.80" height="2.90" fill="#a690c9"/>
<rect y="190.80" height="2.40" fill="#ac97cc"/>
<rect y="192.30" height="2.20" fill="#c9badd"/>
<rect y="193.60" height="2.20" fill="#947bbe"/>
<rect y="194.90" height="2.10" fill="#d3c6e2"/>
<rect y="196.10" height="2.60" fill="#c8b9dc"/>
<rect y="197.80" height="2.90" fill="#f6e5e5"/>
<rect y="199.80" height="2.20" fill="#f1b8aa"/>
<rect y="201.10" height="2.10" fill="#cfc2e1"/>
<rect y="202.30" height="2.20" fill="#ede7f2"/>
<rect y="203.60" height="2.10" fill="#f5d5d0"/>
<rect y="204.80" height="2.10" fill="#e6dfee"/>
<rect y="206.00" height="2.30" fill="#ac97cc"/>
<rect y="207.40" height="2.30" fill="#d6cae4"/>
<rect y="208.80" height="2.10" fill="#cec0e0"/>
<rect y="210.00" height="2.90" fill="#b7a4d2"/>
<rect y="212.00" height="2.40" fill="#e2d9eb"/>
<rect y="213.50" height="2.90" fill="#d4c8e3"/>
<rect y="215.50" height="2.30" fill="#f3eff5"/>
<rect y="216.90" height="2.30" fill="#e7e0ee"/>
<rect y="218.30" height="2.40" fill="#e5dded"/>
<rect y="219.80" height="2.90" fill="#b7a4d2"/>
<rect y="221.80" height="2.10" fill="#c7b8dc"/>
<rect y="223.00" height="2.20" fill="#977ec0"/>
<rect y="224.30" height="2.90" fill="#ac97cc"/>
<rect y="226.30" height="2.40" fill="#c6b6db"/>
<rect y="227.80" height="2.60" fill="#a690c9"/>
<rect y="229.50" height="2.20" fill="#bfaed7"/>
<rect y="230.80" height="2.40" fill="#a38cc7"/>
<rect y="232.30" height="2.40" fill="#f6ecee"/>
<rect y="233.80" height="2.30" fill="#cbbcde"/>
<rect y="235.20" height="2.40" fill="#f6dfdd"/>
<rect y="236.70" height="2.10" fill="#3e2491"/>
<rect y="237.90" height="2.20" fill="#c3b2d9"/>
<rect y="239.20" height="2.20" fill="#775bae"/>
<rect y="240.50" height="2.60" fill="#ddd3e8"/>
<rect y="242.20" height="2.20" fill="#cfc2e1"/>
<rect y="243.50" height="2.40" fill="#cbbcde"/>
<rect y="245.00" height="2.60" fill="#f5d6d1"/>
<rect y="246.70" height="2.20" fill="#f4cac2"/>
<rect y="248.00" height="2.10" fill="#9880c1"/>
<rect y="249.20" height="2.10" fill="#beadd7"/>
<rect y="250.40" height="2.30" fill="#c2b2d9"/>
<rect y="251.80" height="2.30" fill="#7c60b0"/>
<rect y="253.20" height="2.10" fill="#a993ca"/>
<rect y="254.40" height="2.90" fill="#bba9d5"/>
<rect y="256.40" height="2.60" fill="#bdabd6"/>
<rect y="258.10" height="2.60" fill="#6d51a8"/>
<rect y="259.80" height="2.60" fill="#dcd2e8"/>
<rect y="261.50" height="2.20" fill="#856ab6"/>
<rect y="262.80" height="2.30" fill="#c0afd8"/>
<rect y="264.20" height="2.40" fill="#795daf"/>
<rect y="265.70" height="2.40" fill="#a690c8"/>
<rect y="267.20" height="2.20" fill="#a18ac6"/>
<rect y="268.50" height="2.40" fill="#9d85c3"/>
<rect y="270.00" height="2.40" fill="#d4c7e3"/>
<rect y="271.50" height="2.10" fill="#866cb6"/>
<rect y="272.70" height="2.60" fill="#f6eaec"/>
<rect y="274.40" height="2.20" fill="#8166b3"/>
<rect y="275.70" height="2.20" fill="#f4c6bd"/>
<rect y="277.00" height="2.30" fill="#baa8d4"/>
<rect y="278.40" height="2.20" fill="#aa94cb"/>
<rect y="279.70" height="2.10" fill="#bfaed7"/>
<rect y="280.90" height="2.10" fill="#e8e2ef"/>
<rect y="282.10" height="2.90" fill="#f6eff2"/>
<rect y="284.10" height="2.90" fill="#b4a0d0"/>
<rect y="286.10" height="2.20" fill="#e7917a"/>
<rect y="287.40" height="2.30" fill="#e17f65"/>
<rect y="288.80" height="2.90" fill="#f1ecf4"/>
<rect y="290.80" height="2.30" fill="#e58a71"/>
<rect y="292.20" height="2.20" fill="#f3c2b7"/>
<rect y="293.50" height="2.60" fill="#f5d6d0"/>
<rect y="295.20" height="2.60" fill="#eb9e8a"/>
<rect y="296.90" height="2.20" fill="#e7e0ee"/>
<rect y="298.20" height="2.60" fill="#f6e4e3"/>
<rect y="299.90" height="2.60" fill="#bdabd6"/>
<rect y="301.60" height="2.30" fill="#ece6f1"/>
<rect y="303.00" height="2.10" fill="#e68d75"/>
<rect y="304.20" height="2.40" fill="#e7e0ef"/>
<rect y="305.70" height="2.40" fill="#f6dbd7"/>
<rect y="307.20" height="2.10" fill="#f6e3e2"/>
<rect y="308.40" height="2.30" fill="#eae4f0"/>
<rect y="309.80" height="2.20" fill="#d1c3e1"/>
<rect y="311.10" height="2.60" fill="#a790c9"/>
<rect y="312.80" height="2.20" fill="#efab9a"/>
<rect y="314.10" height="2.10" fill="#bdabd6"/>
<rect y="315.30" height="2.20" fill="#d9cee6"/>
<rect y="316.60" height="2.30" fill="#e6deee"/>
<rect y="318.00" height="2.90" fill="#f5f2f6"/>
<rect y="320.00" height="2.40" fill="#c4b4da"/>
<rect y="321.50" height="2.10" fill="#f3c3b8"/>
<rect y="322.70" height="2.40" fill="#8c71b9"/>
<rect y="324.20" height="2.40" fill="#f5d3cd"/>
<rect y="325.70" height="2.60" fill="#cec0df"/>
<rect y="327.40" height="2.20" fill="#f6e9ea"/>
<rect y="328.70" height="2.20" fill="#dacfe7"/>
<rect y="330.00" height="2.20" fill="#dbd0e7"/>
<rect y="331.30" height="2.30" fill="#ccbedf"/>
<rect y="332.70" height="2.30" fill="#f6e4e3"/>
<rect y="334.10" height="2.10" fill="#d9cee6"/>
<rect y="335.30" height="2.40" fill="#f4f0f6"/>
<rect y="336.80" height="2.40" fill="#a993ca"/>
<rect y="338.30" height="2.90" fill="#e7dfee"/>
<rect y="340.30" height="2.20" fill="#eae4f0"/>
<rect y="341.60" height="2.90" fill="#f4f0f6"/>
<rect y="343.60" height="2.20" fill="#f2eef5"/>
<rect y="344.90" height="2.60" fill="#9b83c2"/>
<rect y="346.60" height="2.20" fill="#cbbcde"/>
<rect y="347.90" height="2.20" fill="#d1c4e1"/>
<rect y="349.20" height="2.40" fill="#f4c9bf"/>
<rect y="350.70" height="2.30" fill="#f6dbd8"/>
<rect y="352.10" height="2.30" fill="#d3c6e3"/>
<rect y="353.50" height="2.30" fill="#f6d8d4"/>
<rect y="354.90" height="2.20" fill="#f6e8e9"/>
<rect y="356.20" height="2.30" fill="#c9badd"/>
<rect y="357.60" height="2.60" fill="#c6b6db"/>
<rect y="359.30" height="2.90" fill="#b9a7d4"/>
<rect y="361.30" height="2.20" fill="#e5dded"/>
<rect y="362.60" height="2.60" fill="#f6e3e1"/>
<rect y="364.30" height="2.10" fill="#ddd3e9"/>
<rect y="365.50" height="2.20" fill="#efeaf3"/>
<rect y="366.80" height="2.20" fill="#eee9f2"/>
<rect y="368.10" height="2.10" fill="#e8e1ef"/>
<rect y="369.30" height="2.40" fill="#eae3f0"/>
<rect y="370.80" height="2.30" fill="#a58fc8"/>
<rect y="372.20" height="2.60" fill="#bdacd6"/>
<rect y="373.90" height="2.40" fill="#d8cce5"/>
<rect y="375.40" height="2.60" fill="#e5dded"/>
<rect y="377.10" height="2.90" fill="#f6f2f6"/>
<rect y="379.10" height="2.40" fill="#ddd3e8"/>
<rect y="380.60" height="2.20" fill="#f6f2f6"/>
<rect y="381.90" height="2.20" fill="#eeaa99"/>
<rect y="383.20" height="2.20" fill="#bcaad5"/>
<rect y="384.50" height="2.30" fill="#c6b6db"/>
<rect y="385.90" height="2.90" fill="#dfd6ea"/>
<rect y="387.90" height="2.20" fill="#ded4e9"/>
<rect y="389.20" height="2.40" fill="#c4b4da"/>
<rect y="390.70" height="2.30" fill="#dbd1e8"/>
<rect y="392.10" height="2.30" fill="#ded4e9"/>
<rect y="393.50" height="2.10" fill="#f6eff1"/>
<rect y="394.70" height="2.20" fill="#e7dfee"/>
<rect y="396.00" height="2.40" fill="#eee9f2"/>
<rect y="397.50" height="2.60" fill="#e7e0ee"/>
<rect y="399.20" height="2.90" fill="#f2bbae"/>
<rect y="401.20" height="2.30" fill="#c3b2d9"/>
<rect y="402.60" height="2.10" fill="#ddd4e9"/>
<rect y="403.80" height="2.10" fill="#ccbede"/>
<rect y="405.00" height="2.20" fill="#f6e2e0"/>
<rect y="406.30" height="2.40" fill="#ddd2e8"/>
<rect y="407.80" height="2.40" fill="#d4c7e3"/>
<rect y="409.30" height="2.20" fill="#f6f2f6"/>
<rect y="410.60" height="2.20" fill="#f6e0de"/>
<rect y="411.90" height="2.40" fill="#f5d7d2"/>
<rect y="413.40" height="2.20" fill="#f5d5d0"/>
<rect y="414.70" height="2.90" fill="#dfd5e9"/>
<rect y="416.70" height="2.40" fill="#f4c6bc"/>
<rect y="418.20" height="2.20" fill="#e0d6ea"/>
<rect y="419.50" height="2.10" fill="#d9cfe6"/>
<rect y="420.70" height="2.10" fill="#d9cee6"/>
<rect y="421.90" height="2.90" fill="#e1d8eb"/>
<rect y="423.90" height="2.40" fill="#dad0e7"/>
<rect y="425.40" height="2.40" fill="#f4f0f6"/>
<rect y="426.90" height="2.10" fill="#e0d7ea"/>
<rect y="428.10" height="2.10" fill="#e9e2ef"/>
<rect y="429.30" height="2.20" fill="#f5d1ca"/>
<rect y="430.60" height="2.90" fill="#f6e3e2"/>
<rect y="432.60" height="2.20" fill="#f6dbd8"/>
<rect y="433.90" height="2.40" fill="#f6ebed"/>
<rect y="435.40" height="2.40" fill="#d6cae4"/>
<rect y="436.90" height="2.20" fill="#f6e8e9"/>
<rect y="438.20" height="2.20" fill="#bba8d4"/>
<rect y="439.50" height="2.20" fill="#f6e7e7"/>
<rect y="440.80" height="2.90" fill="#f2eef5"/>
<rect y="442.80" height="2.40" fill="#d9cee6"/>
<rect y="444.30" height="2.10" fill="#f5d3cd"/>
<rect y="445.50" height="1.50" fill="#cfc2e0"/>
<rect y="446.80" height="0.20" fill="#f1edf4"/>
</g>
<g transform="translate(345.21 0)">
<rect y="175.50" height="2.90" fill="#9076bc"/>
<rect y="177.50" height="2.90" fill="#a58fc8"/>
<rect y="179.50" height="2.90" fill="#ded4e9"/>
<rect y="181.50" height="2.30" fill="#7559ad"/>
<rect y="182.90" height="2.20" fill="#ac97cc"/>
<rect y="184.20" height="2.90" fill="#ede7f2"/>
<rect y="186.20" height="2.20" fill="#d9cee6"/>
<rect y="187.50" height="2.20" fill="#b3a0d0"/>
<rect y="188.80" height="2.90" fill="#a993ca"/>
<rect y="190.80" height="2.40" fill="#9279bd"/>
<rect y="192.30" height="2.20" fill="#e2d9eb"/>
<rect y="193.60" height="2.20" fill="#c9badd"/>
<rect y="194.90" height="2.10" fill="#957cbf"/>
<rect y="196.10" height="2.60" fill="#f6dfdc"/>
<rect y="197.80" height="2.90" fill="#f6e5e5"/>
<rect y="199.80" height="2.20" fill="#f5d7d2"/>
<rect y="201.10" height="2.10" fill="#f6f1f5"/>
<rect y="202.30" height="2.20" fill="#785bae"/>
<rect y="203.60" height="2.10" fill="#f5d7d2"/>
<rect y="204.80" height="2.10" fill="#d0c2e1"/>
<rect y="206.00" height="2.30" fill="#ae99cd"/>
<rect y="207.40" height="2.30" fill="#c1b1d8"/>
<rect y="208.80" height="2.10" fill="#f3c2b7"/>
<rect y="210.00" height="2.90" fill="#ae99cd"/>
<rect y="212.00" height="2.40" fill="#eee9f2"/>
<rect y="213.50" height="2.90" fill="#886db7"/>
<rect y="215.50" height="2.30" fill="#947bbe"/>
<rect y="216.90" height="2.30" fill="#e1d8eb"/>
<rect y="218.30" height="2.40" fill="#b4a1d1"/>
<rect y="219.80" height="2.90" fill="#967ebf"/>
<rect y="221.80" height="2.10" fill="#b19dcf"/>
<rect y="223.00" height="2.20" fill="#452a94"/>
<rect y="224.30" height="2.90" fill="#a18ac6"/>
<rect y="226.30" height="2.40" fill="#b4a0d0"/>
<rect y="227.80" height="2.60" fill="#8064b3"/>
<rect y="229.50" height="2.20" fill="#c9bbdd"/>
<rect y="230.80" height="2.40" fill="#896eb8"/>
<rect y="232.30" height="2.40" fill="#9c84c3"/>
<rect y="233.80" height="2.30" fill="#c0afd7"/>
<rect y="235.20" height="2.40" fill="#f6e9ea"/>
<rect y="236.70" height="2.10" fill="#7659ad"/>
<rect y="237.90" height="2.20" fill="#d0c3e1"/>
<rect y="239.20" height="2.20" fill="#8367b4"/>
<rect y="240.50" height="2.60" fill="#dbd0e7"/>
<rect y="242.20" height="2.20" fill="#9a81c1"/>
<rect y="243.50" height="2.40" fill="#d5c9e4"/>
<rect y="245.00" height="2.60" fill="#f6dedb"/>
<rect y="246.70" height="2.20" fill="#f2edf4"/>
<rect y="248.00" height="2.10" fill="#af9ace"/>
<rect y="249.20" height="2.10" fill="#a58ec8"/>
<rect y="250.40" height="2.30" fill="#d2c6e2"/>
<rect y="251.80" height="2.30" fill="#9b83c2"/>
<rect y="253.20" height="2.10" fill="#8a6fb8"/>
<rect y="254.40" height="2.90" fill="#ae99cd"/>
<rect y="256.40" height="2.60" fill="#9a82c2"/>
<rect y="258.10" height="2.60" fill="#d3c6e3"/>
<rect y="259.80" height="2.60" fill="#9a82c2"/>
<rect y="261.50" height="2.20" fill="#947bbe"/>
<rect y="262.80" height="2.30" fill="#c5b5da"/>
<rect y="264.20" height="2.40" fill="#c1b0d8"/>
<rect y="265.70" height="2.40" fill="#bcaad5"/>
<rect y="267.20" height="2.20" fill="#a18ac5"/>
<rect y="268.50" height="2.40" fill="#7c60b0"/>
<rect y="270.00" height="2.40" fill="#efe9f3"/>
<rect y="271.50" height="2.10" fill="#9a82c2"/>
<rect y="272.70" height="2.60" fill="#ce5030"/>
<rect y="274.40" height="2.20" fill="#412792"/>
<rect y="275.70" height="2.20" fill="#f0ebf3"/>
<rect y="277.00" height="2.30" fill="#b39fd0"/>
<rect y="278.40" height="2.20" fill="#8e74bb"/>
<rect y="279.70" height="2.10" fill="#957cbf"/>
<rect y="280.90" height="2.10" fill="#d6cae4"/>
<rect y="282.10" height="2.90" fill="#f0b3a4"/>
<rect y="284.10" height="2.90" fill="#c1b0d8"/>
<rect y="286.10" height="2.20" fill="#de765a"/>
<rect y="287.40" height="2.30" fill="#e28268"/>
<rect y="288.80" height="2.90" fill="#f4cdc5"/>
<rect y="290.80" height="2.30" fill="#d86648"/>
<rect y="292.20" height="2.20" fill="#db6e51"/>
<rect y="293.50" height="2.60" fill="#f3c1b6"/>
<rect y="295.20" height="2.60" fill="#eb9d88"/>
<rect y="296.90" height="2.20" fill="#f0b3a4"/>
<rect y="298.20" height="2.60" fill="#eee8f2"/>
<rect y="299.90" height="2.60" fill="#f5d1cb"/>
<rect y="301.60" height="2.30" fill="#f0b0a0"/>
<rect y="303.00" height="2.10" fill="#e4886f"/>
<rect y="304.20" height="2.40" fill="#f6ebec"/>
<rect y="305.70" height="2.40" fill="#d66244"/>
<rect y="307.20" height="2.10" fill="#f6dbd7"/>
<rect y="308.40" height="2.30" fill="#f1b8ab"/>
<rect y="309.80" height="2.20" fill="#dfd5ea"/>
<rect y="311.10" height="2.60" fill="#e4dced"/>
<rect y="312.80" height="2.20" fill="#f0b3a4"/>
<rect y="314.10" height="2.10" fill="#b7a4d2"/>
<rect y="315.30" height="2.20" fill="#d5cae4"/>
<rect y="316.60" height="2.30" fill="#957bbe"/>
<rect y="318.00" height="2.90" fill="#f6f2f6"/>
<rect y="320.00" height="2.40" fill="#9d85c3"/>
<rect y="321.50" height="2.10" fill="#efeaf3"/>
<rect y="322.70" height="2.40" fill="#9a82c2"/>
<rect y="324.20" height="2.40" fill="#f3bfb3"/>
<rect y="325.70" height="2.60" fill="#e1d8eb"/>
<rect y="327.40" height="2.20" fill="#d7cbe5"/>
<rect y="328.70" height="2.20" fill="#a48ec8"/>
<rect y="330.00" height="2.20" fill="#c4b4da"/>
<rect y="331.30" height="2.30" fill="#c6b6db"/>
<rect y="332.70" height="2.30" fill="#d4c7e3"/>
<rect y="334.10" height="2.10" fill="#d4c8e4"/>
<rect y="335.30" height="2.40" fill="#b9a6d4"/>
<rect y="336.80" height="2.40" fill="#6a4da6"/>
<rect y="338.30" height="2.90" fill="#d2c6e2"/>
<rect y="340.30" height="2.20" fill="#967ebf"/>
<rect y="341.60" height="2.90" fill="#b09bce"/>
<rect y="343.60" height="2.20" fill="#dfd6ea"/>
<rect y="344.90" height="2.60" fill="#785cae"/>
<rect y="346.60" height="2.20" fill="#aa95cb"/>
<rect y="347.90" height="2.20" fill="#e6dfee"/>
<rect y="349.20" height="2.40" fill="#f1edf4"/>
<rect y="350.70" height="2.30" fill="#f3eff5"/>
<rect y="352.10" height="2.30" fill="#a38cc7"/>
<rect y="353.50" height="2.30" fill="#e7e0ee"/>
<rect y="354.90" height="2.20" fill="#bba9d5"/>
<rect y="356.20" height="2.30" fill="#c8b8dc"/>
<rect y="357.60" height="2.60" fill="#cfc1e0"/>
<rect y="359.30" height="2.90" fill="#b8a5d3"/>
<rect y="361.30" height="2.20" fill="#b7a4d2"/>
<rect y="362.60" height="2.60" fill="#ede8f2"/>
<rect y="364.30" height="2.10" fill="#cabcde"/>
<rect y="365.50" height="2.20" fill="#b5a2d1"/>
<rect y="366.80" height="2.20" fill="#d8cce5"/>
<rect y="368.10" height="2.10" fill="#d4c7e3"/>
<rect y="369.30" height="2.40" fill="#b9a6d3"/>
<rect y="370.80" height="2.30" fill="#beadd7"/>
<rect y="372.20" height="2.60" fill="#d6cae4"/>
<rect y="373.90" height="2.40" fill="#e0d7ea"/>
<rect y="375.40" height="2.60" fill="#ece6f1"/>
<rect y="377.10" height="2.90" fill="#cec1e0"/>
<rect y="379.10" height="2.40" fill="#f6f1f4"/>
<rect y="380.60" height="2.20" fill="#f3eff5"/>
<rect y="381.90" height="2.20" fill="#f2bbae"/>
<rect y="383.20" height="2.20" fill="#bdacd6"/>
<rect y="384.50" height="2.30" fill="#efeaf3"/>
<rect y="385.90" height="2.90" fill="#f6d9d5"/>
<rect y="387.90" height="2.20" fill="#e6deee"/>
<rect y="389.20" height="2.40" fill="#e3daec"/>
<rect y="390.70" height="2.30" fill="#c5b6db"/>
<rect y="392.10" height="2.30" fill="#e3dbec"/>
<rect y="393.50" height="2.10" fill="#dbd1e7"/>
<rect y="394.70" height="2.20" fill="#dcd2e8"/>
<rect y="396.00" height="2.40" fill="#d7cce5"/>
<rect y="397.50" height="2.60" fill="#d8cde6"/>
<rect y="399.20" height="2.90" fill="#f6e0de"/>
<rect y="401.20" height="2.30" fill="#b7a4d2"/>
<rect y="402.60" height="2.10" fill="#cdbfdf"/>
<rect y="403.80" height="2.10" fill="#f6eaeb"/>
<rect y="405.00" height="2.20" fill="#cabcde"/>
<rect y="406.30" height="2.40" fill="#e1d8eb"/>
<rect y="407.80" height="2.40" fill="#e3dbec"/>
<rect y="409.30" height="2.20" fill="#dfd6ea"/>
<rect y="410.60" height="2.20" fill="#b6a3d2"/>
<rect y="411.90" height="2.40" fill="#f5cfc8"/>
<rect y="413.40" height="2.20" fill="#e8e1ef"/>
<rect y="414.70" height="2.90" fill="#c1b0d8"/>
<rect y="416.70" height="2.40" fill="#f6e3e2"/>
<rect y="418.20" height="2.20" fill="#e6dfee"/>
<rect y="419.50" height="2.10" fill="#d9cee6"/>
<rect y="420.70" height="2.10" fill="#b9a7d4"/>
<rect y="421.90" height="2.90" fill="#f6f3f7"/>
<rect y="423.90" height="2.40" fill="#f0ebf4"/>
<rect y="425.40" height="2.40" fill="#ede7f2"/>
<rect y="426.90" height="2.10" fill="#f6eff2"/>
<rect y="428.10" height="2.10" fill="#c0aed7"/>
<rect y="429.30" height="2.20" fill="#f4f0f6"/>
<rect y="430.60" height="2.90" fill="#f6edef"/>
<rect y="432.60" height="2.20" fill="#f2edf5"/>
<rect y="433.90" height="2.40" fill="#e2daeb"/>
<rect y="435.40" height="2.40" fill="#d4c8e3"/>
<rect y="436.90" height="2.20" fill="#f3eff5"/>
<rect y="438.20" height="2.20" fill="#dfd6ea"/>
<rect y="439.50" height="2.20" fill="#f3eef5"/>
<rect y="440.80" height="2.90" fill="#c2b1d8"/>
<rect y="442.80" height="2.40" fill="#e3dbec"/>
<rect y="444.30" height="2.10" fill="#f6eaeb"/>
<rect y="445.50" height="1.50" fill="#f6f3f7"/>
<rect y="446.80" height="0.20" fill="#bcaad5"/>
</g>
<g transform="translate(354.32 0)">
<rect y="175.50" height="2.90" fill="#b9a6d3"/>
<rect y="177.50" height="2.90" fill="#baa7d4"/>
<rect y="179.50" height="2.90" fill="#f6e3e2"/>
<rect y="181.50" height="2.30" fill="#a38cc7"/>
<rect y="182.90" height="2.20" fill="#bba9d5"/>
<rect y="184.20" height="2.90" fill="#f4cbc2"/>
<rect y="186.20" height="2.20" fill="#f2eef5"/>
<rect y="187.50" height="2.20" fill="#b9a6d3"/>
<rect y="188.80" height="2.90" fill="#d8cde6"/>
<rect y="190.80" height="2.40" fill="#e5dded"/>
<rect y="192.30" height="2.20" fill="#cbbcde"/>
<rect y="193.60" height="2.20" fill="#8d73ba"/>
<rect y="194.90" height="2.10" fill="#f6edef"/>
<rect y="196.10" height="2.60" fill="#f6ddda"/>
<rect y="197.80" height="2.90" fill="#f2beb2"/>
<rect y="199.80" height="2.20" fill="#f6e3e2"/>
<rect y="201.10" height="2.10" fill="#c2b1d9"/>
<rect y="202.30" height="2.20" fill="#cbbcde"/>
<rect y="203.60" height="2.10" fill="#ece6f1"/>
<rect y="204.80" height="2.10" fill="#c2b1d9"/>
<rect y="206.00" height="2.30" fill="#ccbdde"/>
<rect y="207.40" height="2.30" fill="#b5a2d1"/>
<rect y="208.80" height="2.10" fill="#7558ac"/>
<rect y="210.00" height="2.90" fill="#bfaed7"/>
<rect y="212.00" height="2.40" fill="#b4a0d1"/>
<rect y="213.50" height="2.90" fill="#c5b5da"/>
<rect y="215.50" height="2.30" fill="#7659ad"/>
<rect y="216.90" height="2.30" fill="#a690c8"/>
<rect y="218.30" height="2.40" fill="#7558ac"/>
<rect y="219.80" height="2.90" fill="#8d73ba"/>
<rect y="221.80" height="2.10" fill="#856ab6"/>
<rect y="223.00" height="2.20" fill="#e2d9eb"/>
<rect y="224.30" height="2.90" fill="#cec0e0"/>
<rect y="226.30" height="2.40" fill="#bdabd6"/>
<rect y="227.80" height="2.60" fill="#d9cee6"/>
<rect y="229.50" height="2.20" fill="#dacfe7"/>
<rect y="230.80" height="2.40" fill="#5b3e9f"/>
<rect y="232.30" height="2.40" fill="#866bb6"/>
<rect y="233.80" height="2.30" fill="#977ec0"/>
<rect y="235.20" height="2.40" fill="#f5d5cf"/>
<rect y="236.70" height="2.10" fill="#8d73ba"/>
<rect y="237.90" height="2.20" fill="#b4a0d0"/>
<rect y="239.20" height="2.20" fill="#896eb8"/>
<rect y="240.50" height="2.60" fill="#d4c8e4"/>
<rect y="242.20" height="2.20" fill="#ccbedf"/>
<rect y="243.50" height="2.40" fill="#d4c8e3"/>
<rect y="245.00" height="2.60" fill="#d3c6e3"/>
<rect y="246.70" height="2.20" fill="#f5d2cc"/>
<rect y="248.00" height="2.10" fill="#8d73ba"/>
<rect y="249.20" height="2.10" fill="#bdabd6"/>
<rect y="250.40" height="2.30" fill="#f6dbd7"/>
<rect y="251.80" height="2.30" fill="#a892c9"/>
<rect y="253.20" height="2.10" fill="#b4a1d1"/>
<rect y="254.40" height="2.90" fill="#886eb7"/>
<rect y="256.40" height="2.60" fill="#9c85c3"/>
<rect y="258.10" height="2.60" fill="#7c60b1"/>
<rect y="259.80" height="2.60" fill="#7e62b1"/>
<rect y="261.50" height="2.20" fill="#ece6f1"/>
<rect y="262.80" height="2.30" fill="#886db7"/>
<rect y="264.20" height="2.40" fill="#eae4f0"/>
<rect y="265.70" height="2.40" fill="#b4a0d1"/>
<rect y="267.20" height="2.20" fill="#cec0e0"/>
<rect y="268.50" height="2.40" fill="#8f75bb"/>
<rect y="270.00" height="2.40" fill="#c6b6db"/>
<rect y="271.50" height="2.10" fill="#c6b6db"/>
<rect y="272.70" height="2.60" fill="#f4cac1"/>
<rect y="274.40" height="2.20" fill="#8266b4"/>
<rect y="275.70" height="2.20" fill="#f3c2b7"/>
<rect y="277.00" height="2.30" fill="#f6e5e5"/>
<rect y="278.40" height="2.20" fill="#d8cde6"/>
<rect y="279.70" height="2.10" fill="#a38cc7"/>
<rect y="280.90" height="2.10" fill="#cabbdd"/>
<rect y="282.10" height="2.90" fill="#f5cec7"/>
<rect y="284.10" height="2.90" fill="#f5d6d1"/>
<rect y="286.10" height="2.20" fill="#eda390"/>
<rect y="287.40" height="2.30" fill="#e9967f"/>
<rect y="288.80" height="2.90" fill="#e8e2ef"/>
<rect y="290.80" height="2.30" fill="#f0b1a1"/>
<rect y="292.20" height="2.20" fill="#eca18d"/>
<rect y="293.50" height="2.60" fill="#df785c"/>
<rect y="295.20" height="2.60" fill="#eeaa99"/>
<rect y="296.90" height="2.20" fill="#e4886f"/>
<rect y="298.20" height="2.60" fill="#f4ccc3"/>
<rect y="299.90" height="2.60" fill="#eda492"/>
<rect y="301.60" height="2.30" fill="#f6e4e4"/>
<rect y="303.00" height="2.10" fill="#f6e2e0"/>
<rect y="304.20" height="2.40" fill="#a38cc7"/>
<rect y="305.70" height="2.40" fill="#f6dbd7"/>
<rect y="307.20" height="2.10" fill="#f2bfb3"/>
<rect y="308.40" height="2.30" fill="#f6edef"/>
<rect y="309.80" height="2.20" fill="#ded4e9"/>
<rect y="311.10" height="2.60" fill="#c2b1d9"/>
<rect y="312.80" height="2.20" fill="#f2bfb3"/>
<rect y="314.10" height="2.10" fill="#a28bc6"/>
<rect y="315.30" height="2.20" fill="#ddd3e9"/>
<rect y="316.60" height="2.30" fill="#c3b2d9"/>
<rect y="318.00" height="2.90" fill="#c6b7db"/>
<rect y="320.00" height="2.40" fill="#b4a1d1"/>
<rect y="321.50" height="2.10" fill="#f5d0c9"/>
<rect y="322.70" height="2.40" fill="#a993ca"/>
<rect y="324.20" height="2.40" fill="#f6e9e9"/>
<rect y="325.70" height="2.60" fill="#eae4f0"/>
<rect y="327.40" height="2.20" fill="#cec0e0"/>
<rect y="328.70" height="2.20" fill="#e9e2ef"/>
<rect y="330.00" height="2.20" fill="#f6eaea"/>
<rect y="331.30" height="2.30" fill="#f6f3f7"/>
<rect y="332.70" height="2.30" fill="#ebe5f1"/>
<rect y="334.10" height="2.10" fill="#f6ecee"/>
<rect y="335.30" height="2.40" fill="#f6e1df"/>
<rect y="336.80" height="2.40" fill="#e7e0ee"/>
<rect y="338.30" height="2.90" fill="#efeaf3"/>
<rect y="340.30" height="2.20" fill="#c0afd7"/>
<rect y="341.60" height="2.90" fill="#f6edef"/>
<rect y="343.60" height="2.20" fill="#f4f1f6"/>
<rect y="344.90" height="2.60" fill="#ae9acd"/>
<rect y="346.60" height="2.20" fill="#d8cde6"/>
<rect y="347.90" height="2.20" fill="#f3c5bb"/>
<rect y="349.20" height="2.40" fill="#f6dfdc"/>
<rect y="350.70" height="2.30" fill="#f1edf4"/>
<rect y="352.10" height="2.30" fill="#ece6f1"/>
<rect y="353.50" height="2.30" fill="#f6eff2"/>
<rect y="354.90" height="2.20" fill="#f6f1f4"/>
<rect y="356.20" height="2.30" fill="#f6f2f6"/>
<rect y="357.60" height="2.60" fill="#ddd3e8"/>
<rect y="359.30" height="2.90" fill="#f5f2f7"/>
<rect y="361.30" height="2.20" fill="#b6a2d2"/>
<rect y="362.60" height="2.60" fill="#f4f0f6"/>
<rect y="364.30" height="2.10" fill="#e3dbec"/>
<rect y="365.50" height="2.20" fill="#ddd3e8"/>
<rect y="366.80" height="2.20" fill="#d3c7e3"/>
<rect y="368.10" height="2.10" fill="#e4dced"/>
<rect y="369.30" height="2.40" fill="#af9acd"/>
<rect y="370.80" height="2.30" fill="#b09bce"/>
<rect y="372.20" height="2.60" fill="#c3b3da"/>
<rect y="373.90" height="2.40" fill="#d2c5e2"/>
<rect y="375.40" height="2.60" fill="#e5deed"/>
<rect y="377.10" height="2.90" fill="#d2c5e2"/>
<rect y="379.10" height="2.40" fill="#e5deed"/>
<rect y="380.60" height="2.20" fill="#f3eff5"/>
<rect y="381.90" height="2.20" fill="#f4c7bd"/>
<rect y="383.20" height="2.20" fill="#d7cce5"/>
<rect y="384.50" height="2.30" fill="#dacfe7"/>
<rect y="385.90" height="2.90" fill="#f6dbd7"/>
<rect y="387.90" height="2.20" fill="#f6eef0"/>
<rect y="389.20" height="2.40" fill="#dcd1e8"/>
<rect y="390.70" height="2.30" fill="#eee8f2"/>
<rect y="392.10" height="2.30" fill="#dad0e7"/>
<rect y="393.50" height="2.10" fill="#dcd2e8"/>
<rect y="394.70" height="2.20" fill="#d5c9e4"/>
<rect y="396.00" height="2.40" fill="#e6dfee"/>
<rect y="397.50" height="2.60" fill="#d9cee6"/>
<rect y="399.20" height="2.90" fill="#f5d4cf"/>
<rect y="401.20" height="2.30" fill="#beacd6"/>
<rect y="402.60" height="2.10" fill="#c7b8dc"/>
<rect y="403.80" height="2.10" fill="#f2edf4"/>
<rect y="405.00" height="2.20" fill="#f1edf4"/>
<rect y="406.30" height="2.40" fill="#cfc1e0"/>
<rect y="407.80" height="2.40" fill="#f6eff2"/>
<rect y="409.30" height="2.20" fill="#ede7f2"/>
<rect y="410.60" height="2.20" fill="#d3c7e3"/>
<rect y="411.90" height="2.40" fill="#f5d0c9"/>
<rect y="413.40" height="2.20" fill="#efeaf3"/>
<rect y="414.70" height="2.90" fill="#cdbfdf"/>
<rect y="416.70" height="2.40" fill="#eee8f2"/>
<rect y="418.20" height="2.20" fill="#e8e0ef"/>
<rect y="419.50" height="2.10" fill="#e9e2ef"/>
<rect y="420.70" height="2.10" fill="#c5b5da"/>
<rect y="421.90" height="2.90" fill="#ded5e9"/>
<rect y="423.90" height="2.40" fill="#d0c3e1"/>
<rect y="425.40" height="2.40" fill="#d8cce5"/>
<rect y="426.90" height="2.10" fill="#ddd3e9"/>
<rect y="428.10" height="2.10" fill="#ccbdde"/>
<rect y="429.30" height="2.20" fill="#f6dad6"/>
<rect y="430.60" height="2.90" fill="#ddd4e9"/>
<rect y="432.60" height="2.20" fill="#f1ecf4"/>
<rect y="433.90" height="2.40" fill="#f0ebf3"/>
<rect y="435.40" height="2.40" fill="#d7cce5"/>
<rect y="436.90" height="2.20" fill="#dcd2e8"/>
<rect y="438.20" height="2.20" fill="#e5dded"/>
<rect y="439.50" height="2.20" fill="#ded4e9"/>
<rect y="440.80" height="2.90" fill="#cfc2e0"/>
<rect y="442.80" height="2.40" fill="#e6deed"/>
<rect y="444.30" height="2.10" fill="#cec0e0"/>
<rect y="445.50" height="1.50" fill="#f1edf4"/>
<rect y="446.80" height="0.20" fill="#dcd2e8"/>
</g>
<g transform="translate(363.43 0)">
<rect y="175.50" height="2.90" fill="#d0c2e1"/>
<rect y="177.50" height="2.90" fill="#9b83c2"/>
<rect y="179.50" height="2.90" fill="#f2edf4"/>
<rect y="181.50" height="2.30" fill="#b5a1d1"/>
<rect y="182.90" height="2.20" fill="#bfaed7"/>
<rect y="184.20" height="2.90" fill="#efeaf3"/>
<rect y="186.20" height="2.20" fill="#ded4e9"/>
<rect y="187.50" height="2.20" fill="#f6f1f4"/>
<rect y="188.80" height="2.90" fill="#cdbfdf"/>
<rect y="190.80" height="2.40" fill="#ece6f1"/>
<rect y="192.30" height="2.20" fill="#a791c9"/>
<rect y="193.60" height="2.20" fill="#c5b6db"/>
<rect y="194.90" height="2.10" fill="#b5a2d1"/>
<rect y="196.10" height="2.60" fill="#e2daec"/>
<rect y="197.80" height="2.90" fill="#f5d8d3"/>
<rect y="199.80" height="2.20" fill="#f3eff5"/>
<rect y="201.10" height="2.10" fill="#b19dcf"/>
<rect y="202.30" height="2.20" fill="#b9a7d4"/>
<rect y="203.60" height="2.10" fill="#e8e1ef"/>
<rect y="204.80" height="2.10" fill="#f6eef0"/>
<rect y="206.00" height="2.30" fill="#c6b6db"/>
<rect y="207.40" height="2.30" fill="#f4c6bc"/>
<rect y="208.80" height="2.10" fill="#f6eff2"/>
<rect y="210.00" height="2.90" fill="#f5d4ce"/>
<rect y="212.00" height="2.40" fill="#f5cec7"/>
<rect y="213.50" height="2.90" fill="#efeaf3"/>
<rect y="215.50" height="2.30" fill="#baa7d4"/>
<rect y="216.90" height="2.30" fill="#f4c8be"/>
<rect y="218.30" height="2.40" fill="#cabbdd"/>
<rect y="219.80" height="2.90" fill="#eee9f2"/>
<rect y="221.80" height="2.10" fill="#9e86c4"/>
<rect y="223.00" height="2.20" fill="#8a70b9"/>
<rect y="224.30" height="2.90" fill="#d1c4e1"/>
<rect y="226.30" height="2.40" fill="#ece6f1"/>
<rect y="227.80" height="2.60" fill="#b39fd0"/>
<rect y="229.50" height="2.20" fill="#f5f1f6"/>
<rect y="230.80" height="2.40" fill="#a18ac5"/>
<rect y="232.30" height="2.40" fill="#a58ec8"/>
<rect y="233.80" height="2.30" fill="#c9badd"/>
<rect y="235.20" height="2.40" fill="#e4866c"/>
<rect y="236.70" height="2.10" fill="#5d40a0"/>
<rect y="237.90" height="2.20" fill="#8368b5"/>
<rect y="239.20" height="2.20" fill="#9f87c4"/>
<rect y="240.50" height="2.60" fill="#dcd2e8"/>
<rect y="242.20" height="2.20" fill="#f6e0de"/>
<rect y="243.50" height="2.40" fill="#d8cde6"/>
<rect y="245.00" height="2.60" fill="#f6edf0"/>
<rect y="246.70" height="2.20" fill="#f5d4cf"/>
<rect y="248.00" height="2.10" fill="#bdabd6"/>
<rect y="249.20" height="2.10" fill="#f6dedb"/>
<rect y="250.40" height="2.30" fill="#f4c6bc"/>
<rect y="251.80" height="2.30" fill="#e8e1ef"/>
<rect y="253.20" height="2.10" fill="#f6eaeb"/>
<rect y="254.40" height="2.90" fill="#eee9f3"/>
<rect y="256.40" height="2.60" fill="#e0d7ea"/>
<rect y="258.10" height="2.60" fill="#b39fd0"/>
<rect y="259.80" height="2.60" fill="#694ca6"/>
<rect y="261.50" height="2.20" fill="#f6eaeb"/>
<rect y="262.80" height="2.30" fill="#7f64b2"/>
<rect y="264.20" height="2.40" fill="#9178bd"/>
<rect y="265.70" height="2.40" fill="#6d51a8"/>
<rect y="267.20" height="2.20" fill="#987fc0"/>
<rect y="268.50" height="2.40" fill="#3d2390"/>
<rect y="270.00" height="2.40" fill="#7357ac"/>
<rect y="271.50" height="2.10" fill="#4d3197"/>
<rect y="272.70" height="2.60" fill="#cbbdde"/>
<rect y="274.40" height="2.20" fill="#7a5fb0"/>
<rect y="275.70" height="2.20" fill="#eda390"/>
<rect y="277.00" height="2.30" fill="#bba8d4"/>
<rect y="278.40" height="2.20" fill="#c4b4da"/>
<rect y="279.70" height="2.10" fill="#dbd1e7"/>
<rect y="280.90" height="2.10" fill="#b09bce"/>
<rect y="282.10" height="2.90" fill="#eca28e"/>
<rect y="284.10" height="2.90" fill="#f6eff1"/>
<rect y="286.10" height="2.20" fill="#e38369"/>
<rect y="287.40" height="2.30" fill="#e58b72"/>
<rect y="288.80" height="2.90" fill="#eb9e8a"/>
<rect y="290.80" height="2.30" fill="#f2baad"/>
<rect y="292.20" height="2.20" fill="#dc7053"/>
<rect y="293.50" height="2.60" fill="#f0b0a1"/>
<rect y="295.20" height="2.60" fill="#eb9d89"/>
<rect y="296.90" height="2.20" fill="#f6e3e2"/>
<rect y="298.20" height="2.60" fill="#b7a4d3"/>
<rect y="299.90" height="2.60" fill="#eeaa99"/>
<rect y="301.60" height="2.30" fill="#f4c8be"/>
<rect y="303.00" height="2.10" fill="#f4cdc6"/>
<rect y="304.20" height="2.40" fill="#c8b8dc"/>
<rect y="305.70" height="2.40" fill="#e9e2f0"/>
<rect y="307.20" height="2.10" fill="#dfd6ea"/>
<rect y="308.40" height="2.30" fill="#eea897"/>
<rect y="309.80" height="2.20" fill="#e1d8eb"/>
<rect y="311.10" height="2.60" fill="#6447a3"/>
<rect y="312.80" height="2.20" fill="#eca18e"/>
<rect y="314.10" height="2.10" fill="#856ab5"/>
<rect y="315.30" height="2.20" fill="#947bbe"/>
<rect y="316.60" height="2.30" fill="#b9a6d3"/>
<rect y="318.00" height="2.90" fill="#d2c5e2"/>
<rect y="320.00" height="2.40" fill="#cfc2e0"/>
<rect y="321.50" height="2.10" fill="#f1ecf4"/>
<rect y="322.70" height="2.40" fill="#d5cae4"/>
<rect y="324.20" height="2.40" fill="#d9cee6"/>
<rect y="325.70" height="2.60" fill="#efeaf3"/>
<rect y="327.40" height="2.20" fill="#eee8f2"/>
<rect y="328.70" height="2.20" fill="#f6e9ea"/>
<rect y="330.00" height="2.20" fill="#b39fd0"/>
<rect y="331.30" height="2.30" fill="#9b83c2"/>
<rect y="332.70" height="2.30" fill="#cdbfdf"/>
<rect y="334.10" height="2.10" fill="#f6e4e3"/>
<rect y="335.30" height="2.40" fill="#e8e1ef"/>
<rect y="336.80" height="2.40" fill="#f6e4e3"/>
<rect y="338.30" height="2.90" fill="#e9e3f0"/>
<rect y="340.30" height="2.20" fill="#bdabd6"/>
<rect y="341.60" height="2.90" fill="#cfc1e0"/>
<rect y="343.60" height="2.20" fill="#ebe5f0"/>
<rect y="344.90" height="2.60" fill="#e6dfee"/>
<rect y="346.60" height="2.20" fill="#f0ebf3"/>
<rect y="347.90" height="2.20" fill="#b9a7d4"/>
<rect y="349.20" height="2.40" fill="#f6eef0"/>
<rect y="350.70" height="2.30" fill="#f4f1f6"/>
<rect y="352.10" height="2.30" fill="#987fc0"/>
<rect y="353.50" height="2.30" fill="#c3b3da"/>
<rect y="354.90" height="2.20" fill="#f5d1ca"/>
<rect y="356.20" height="2.30" fill="#d2c5e2"/>
<rect y="357.60" height="2.60" fill="#ccbede"/>
<rect y="359.30" height="2.90" fill="#ded5e9"/>
<rect y="361.30" height="2.20" fill="#d2c6e2"/>
<rect y="362.60" height="2.60" fill="#f5d7d2"/>
<rect y="364.30" height="2.10" fill="#e3dbec"/>
<rect y="365.50" height="2.20" fill="#e0d7ea"/>
<rect y="366.80" height="2.20" fill="#f6eff2"/>
<rect y="368.10" height="2.10" fill="#f4f1f6"/>
<rect y="369.30" height="2.40" fill="#cabcde"/>
<rect y="370.80" height="2.30" fill="#ae99cd"/>
<rect y="372.20" height="2.60" fill="#e9e3f0"/>
<rect y="373.90" height="2.40" fill="#eee9f2"/>
<rect y="375.40" height="2.60" fill="#f6e8e8"/>
<rect y="377.10" height="2.90" fill="#ece6f1"/>
<rect y="379.10" height="2.40" fill="#cfc1e0"/>
<rect y="380.60" height="2.20" fill="#f3f0f6"/>
<rect y="381.90" height="2.20" fill="#e99781"/>
<rect y="383.20" height="2.20" fill="#e6dfee"/>
<rect y="384.50" height="2.30" fill="#f0ecf4"/>
<rect y="385.90" height="2.90" fill="#ded4e9"/>
<rect y="387.90" height="2.20" fill="#e4dcec"/>
<rect y="389.20" height="2.40" fill="#f4f0f6"/>
<rect y="390.70" height="2.30" fill="#e9e3f0"/>
<rect y="392.10" height="2.30" fill="#f4f0f6"/>
<rect y="393.50" height="2.10" fill="#f6e1df"/>
<rect y="394.70" height="2.20" fill="#f5f2f6"/>
<rect y="396.00" height="2.40" fill="#f5f2f7"/>
<rect y="397.50" height="2.60" fill="#e7e0ee"/>
<rect y="399.20" height="2.90" fill="#f0b4a5"/>
<rect y="401.20" height="2.30" fill="#f0ebf3"/>
<rect y="402.60" height="2.10" fill="#e5dded"/>
<rect y="403.80" height="2.10" fill="#d0c3e1"/>
<rect y="405.00" height="2.20" fill="#e8e1ef"/>
<rect y="406.30" height="2.40" fill="#e2daec"/>
<rect y="407.80" height="2.40" fill="#e1d9eb"/>
<rect y="409.30" height="2.20" fill="#f6ddda"/>
<rect y="410.60" height="2.20" fill="#dcd1e8"/>
<rect y="411.90" height="2.40" fill="#f5d2cc"/>
<rect y="413.40" height="2.20" fill="#f6ebec"/>
<rect y="414.70" height="2.90" fill="#dfd6ea"/>
<rect y="416.70" height="2.40" fill="#e5deed"/>
<rect y="418.20" height="2.20" fill="#e7e0ee"/>
<rect y="419.50" height="2.10" fill="#e1d8eb"/>
<rect y="420.70" height="2.10" fill="#dacfe7"/>
<rect y="421.90" height="2.90" fill="#cabbde"/>
<rect y="423.90" height="2.40" fill="#beacd6"/>
<rect y="425.40" height="2.40" fill="#c7b8dc"/>
<rect y="426.90" height="2.10" fill="#c3b3d9"/>
<rect y="428.10" height="2.10" fill="#e2daec"/>
<rect y="429.30" height="2.20" fill="#f5d3cd"/>
<rect y="430.60" height="2.90" fill="#d7cce5"/>
<rect y="432.60" height="2.20" fill="#f6e6e5"/>
<rect y="433.90" height="2.40" fill="#d0c3e1"/>
<rect y="435.40" height="2.40" fill="#cfc1e0"/>
<rect y="436.90" height="2.20" fill="#f6e2e1"/>
<rect y="438.20" height="2.20" fill="#c5b5da"/>
<rect y="439.50" height="2.20" fill="#f0ebf3"/>
<rect y="440.80" height="2.90" fill="#e3daec"/>
<rect y="442.80" height="2.40" fill="#f5f2f6"/>
<rect y="444.30" height="2.10" fill="#f6e6e6"/>
<rect y="445.50" height="1.50" fill="#eae3f0"/>
<rect y="446.80" height="0.20" fill="#f2eef5"/>
</g>
<g transform="translate(372.54 0)">
<rect y="175.50" height="2.90" fill="#bdacd6"/>
<rect y="177.50" height="2.90" fill="#d4c8e3"/>
<rect y="179.50" height="2.90" fill="#f5d5d0"/>
<rect y="181.50" height="2.30" fill="#a089c5"/>
<rect y="182.90" height="2.20" fill="#b09cce"/>
<rect y="184.20" height="2.90" fill="#efac9b"/>
<rect y="186.20" height="2.20" fill="#f0b0a0"/>
<rect y="187.50" height="2.20" fill="#ece6f1"/>
<rect y="188.80" height="2.90" fill="#d7cce5"/>
<rect y="190.80" height="2.40" fill="#cabbdd"/>
<rect y="192.30" height="2.20" fill="#e5deed"/>
<rect y="193.60" height="2.20" fill="#c4b4da"/>
<rect y="194.90" height="2.10" fill="#d2c6e2"/>
<rect y="196.10" height="2.60" fill="#f6e0de"/>
<rect y="197.80" height="2.90" fill="#f1ecf4"/>
<rect y="199.80" height="2.20" fill="#e99781"/>
<rect y="201.10" height="2.10" fill="#b19dcf"/>
<rect y="202.30" height="2.20" fill="#d3c6e3"/>
<rect y="203.60" height="2.10" fill="#f5cdc6"/>
<rect y="204.80" height="2.10" fill="#f6f3f7"/>
<rect y="206.00" height="2.30" fill="#af9bce"/>
<rect y="207.40" height="2.30" fill="#f6dbd7"/>
<rect y="208.80" height="2.10" fill="#e6dfee"/>
<rect y="210.00" height="2.90" fill="#b09cce"/>
<rect y="212.00" height="2.40" fill="#f2edf4"/>
<rect y="213.50" height="2.90" fill="#e5deed"/>
<rect y="215.50" height="2.30" fill="#765aad"/>
<rect y="216.90" height="2.30" fill="#f6e0de"/>
<rect y="218.30" height="2.40" fill="#937abe"/>
<rect y="219.80" height="2.90" fill="#e4dcec"/>
<rect y="221.80" height="2.10" fill="#7054aa"/>
<rect y="223.00" height="2.20" fill="#af9acd"/>
<rect y="224.30" height="2.90" fill="#c4b4da"/>
<rect y="226.30" height="2.40" fill="#f6e2e1"/>
<rect y="227.80" height="2.60" fill="#b5a2d1"/>
<rect y="229.50" height="2.20" fill="#cfc2e1"/>
<rect y="230.80" height="2.40" fill="#937abd"/>
<rect y="232.30" height="2.40" fill="#d8cce5"/>
<rect y="233.80" height="2.30" fill="#d0c2e1"/>
<rect y="235.20" height="2.40" fill="#e99680"/>
<rect y="236.70" height="2.10" fill="#a58ec8"/>
<rect y="237.90" height="2.20" fill="#f6e7e7"/>
<rect y="239.20" height="2.20" fill="#c6b7db"/>
<rect y="240.50" height="2.60" fill="#f5d8d3"/>
<rect y="242.20" height="2.20" fill="#ddd3e9"/>
<rect y="243.50" height="2.40" fill="#ece6f1"/>
<rect y="245.00" height="2.60" fill="#f0b2a3"/>
<rect y="246.70" height="2.20" fill="#e2d9eb"/>
<rect y="248.00" height="2.10" fill="#e4dced"/>
<rect y="249.20" height="2.10" fill="#e4dced"/>
<rect y="250.40" height="2.30" fill="#f6e3e2"/>
<rect y="251.80" height="2.30" fill="#d3c7e3"/>
<rect y="253.20" height="2.10" fill="#9076bc"/>
<rect y="254.40" height="2.90" fill="#e7e0ee"/>
<rect y="256.40" height="2.60" fill="#d7cce5"/>
<rect y="258.10" height="2.60" fill="#6043a1"/>
<rect y="259.80" height="2.60" fill="#a28bc6"/>
<rect y="261.50" height="2.20" fill="#dacfe7"/>
<rect y="262.80" height="2.30" fill="#9d85c3"/>
<rect y="264.20" height="2.40" fill="#e0d7ea"/>
<rect y="265.70" height="2.40" fill="#e9e3f0"/>
<rect y="267.20" height="2.20" fill="#e0d7ea"/>
<rect y="268.50" height="2.40" fill="#e4dced"/>
<rect y="270.00" height="2.40" fill="#f6dad6"/>
<rect y="271.50" height="2.10" fill="#b5a1d1"/>
<rect y="272.70" height="2.60" fill="#eca08c"/>
<rect y="274.40" height="2.20" fill="#d6cbe5"/>
<rect y="275.70" height="2.20" fill="#d2593a"/>
<rect y="277.00" height="2.30" fill="#f6e6e6"/>
<rect y="278.40" height="2.20" fill="#e6dfee"/>
<rect y="279.70" height="2.10" fill="#ccbdde"/>
<rect y="280.90" height="2.10" fill="#ece6f1"/>
<rect y="282.10" height="2.90" fill="#ea9983"/>
<rect y="284.10" height="2.90" fill="#f6edef"/>
<rect y="286.10" height="2.20" fill="#e3846a"/>
<rect y="287.40" height="2.30" fill="#f2bbae"/>
<rect y="288.80" height="2.90" fill="#de7659"/>
<rect y="290.80" height="2.30" fill="#eca28f"/>
<rect y="292.20" height="2.20" fill="#eeaa98"/>
<rect y="293.50" height="2.60" fill="#f2bcb0"/>
<rect y="295.20" height="2.60" fill="#e07c61"/>
<rect y="296.90" height="2.20" fill="#f1b6a7"/>
<rect y="298.20" height="2.60" fill="#c8b9dc"/>
<rect y="299.90" height="2.60" fill="#f4cdc5"/>
<rect y="301.60" height="2.30" fill="#eb9c88"/>
<rect y="303.00" height="2.10" fill="#eca28f"/>
<rect y="304.20" height="2.40" fill="#f5f2f7"/>
<rect y="305.70" height="2.40" fill="#d56041"/>
<rect y="307.20" height="2.10" fill="#e8e2ef"/>
<rect y="308.40" height="2.30" fill="#f6e5e5"/>
<rect y="309.80" height="2.20" fill="#f5d5d0"/>
<rect y="311.10" height="2.60" fill="#f5d5d0"/>
<rect y="312.80" height="2.20" fill="#e68d75"/>
<rect y="314.10" height="2.10" fill="#8e74bb"/>
<rect y="315.30" height="2.20" fill="#ede7f2"/>
<rect y="316.60" height="2.30" fill="#cbbcde"/>
<rect y="318.00" height="2.90" fill="#f5d8d3"/>
<rect y="320.00" height="2.40" fill="#ddd4e9"/>
<rect y="321.50" height="2.10" fill="#f6edf0"/>
<rect y="322.70" height="2.40" fill="#b39fd0"/>
<rect y="324.20" height="2.40" fill="#f6dfdd"/>
<rect y="325.70" height="2.60" fill="#f6e6e6"/>
<rect y="327.40" height="2.20" fill="#f6d9d4"/>
<rect y="328.70" height="2.20" fill="#d5c8e4"/>
<rect y="330.00" height="2.20" fill="#b5a2d1"/>
<rect y="331.30" height="2.30" fill="#f6e7e7"/>
<rect y="332.70" height="2.30" fill="#f6e2e0"/>
<rect y="334.10" height="2.10" fill="#f4c9c0"/>
<rect y="335.30" height="2.40" fill="#f6f2f6"/>
<rect y="336.80" height="2.40" fill="#f6e8e8"/>
<rect y="338.30" height="2.90" fill="#f6f2f6"/>
<rect y="340.30" height="2.20" fill="#eee8f2"/>
<rect y="341.60" height="2.90" fill="#f1b7a9"/>
<rect y="343.60" height="2.20" fill="#f6f0f3"/>
<rect y="344.90" height="2.60" fill="#d9cee6"/>
<rect y="346.60" height="2.20" fill="#ded4e9"/>
<rect y="347.90" height="2.20" fill="#ebe4f0"/>
<rect y="349.20" height="2.40" fill="#efad9c"/>
<rect y="350.70" height="2.30" fill="#f6dbd8"/>
<rect y="352.10" height="2.30" fill="#dbd0e7"/>
<rect y="353.50" height="2.30" fill="#d3c7e3"/>
<rect y="354.90" height="2.20" fill="#f6e2e0"/>
<rect y="356.20" height="2.30" fill="#ebe5f0"/>
<rect y="357.60" height="2.60" fill="#d9cee6"/>
<rect y="359.30" height="2.90" fill="#b5a1d1"/>
<rect y="361.30" height="2.20" fill="#b5a1d1"/>
<rect y="362.60" height="2.60" fill="#cbbdde"/>
<rect y="364.30" height="2.10" fill="#f6ebec"/>
<rect y="365.50" height="2.20" fill="#d5c9e4"/>
<rect y="366.80" height="2.20" fill="#f6e8e8"/>
<rect y="368.10" height="2.10" fill="#f6eaeb"/>
<rect y="369.30" height="2.40" fill="#d7cce5"/>
<rect y="370.80" height="2.30" fill="#ae9acd"/>
<rect y="372.20" height="2.60" fill="#c5b5da"/>
<rect y="373.90" height="2.40" fill="#dbd1e7"/>
<rect y="375.40" height="2.60" fill="#beadd6"/>
<rect y="377.10" height="2.90" fill="#f5f1f6"/>
<rect y="379.10" height="2.40" fill="#f6f2f6"/>
<rect y="380.60" height="2.20" fill="#f6eff2"/>
<rect y="381.90" height="2.20" fill="#f4cdc6"/>
<rect y="383.20" height="2.20" fill="#d9cee6"/>
<rect y="384.50" height="2.30" fill="#c3b3da"/>
<rect y="385.90" height="2.90" fill="#dcd2e8"/>
<rect y="387.90" height="2.20" fill="#dbd1e7"/>
<rect y="389.20" height="2.40" fill="#cbbcde"/>
<rect y="390.70" height="2.30" fill="#f5f2f6"/>
<rect y="392.10" height="2.30" fill="#f3f0f6"/>
<rect y="393.50" height="2.10" fill="#c0afd8"/>
<rect y="394.70" height="2.20" fill="#f3eff5"/>
<rect y="396.00" height="2.40" fill="#ede7f2"/>
<rect y="397.50" height="2.60" fill="#e1d8eb"/>
<rect y="399.20" height="2.90" fill="#f4cac1"/>
<rect y="401.20" height="2.30" fill="#f6e6e6"/>
<rect y="402.60" height="2.10" fill="#e7dfee"/>
<rect y="403.80" height="2.10" fill="#efeaf3"/>
<rect y="405.00" height="2.20" fill="#d7cce5"/>
<rect y="406.30" height="2.40" fill="#e7e0ee"/>
<rect y="407.80" height="2.40" fill="#f1edf4"/>
<rect y="409.30" height="2.20" fill="#f6ebed"/>
<rect y="410.60" height="2.20" fill="#d7cce5"/>
<rect y="411.90" height="2.40" fill="#f5d1cb"/>
<rect y="413.40" height="2.20" fill="#d2c6e2"/>
<rect y="414.70" height="2.90" fill="#a68fc8"/>
<rect y="416.70" height="2.40" fill="#f1ecf4"/>
<rect y="418.20" height="2.20" fill="#b9a6d3"/>
<rect y="419.50" height="2.10" fill="#b6a3d2"/>
<rect y="420.70" height="2.10" fill="#cec0e0"/>
<rect y="421.90" height="2.90" fill="#eae3f0"/>
<rect y="423.90" height="2.40" fill="#d1c4e1"/>
<rect y="425.40" height="2.40" fill="#ece6f1"/>
<rect y="426.90" height="2.10" fill="#dad0e7"/>
<rect y="428.10" height="2.10" fill="#977ec0"/>
<rect y="429.30" height="2.20" fill="#f4ccc4"/>
<rect y="430.60" height="2.90" fill="#d6cbe5"/>
<rect y="432.60" height="2.20" fill="#f6e8e8"/>
<rect y="433.90" height="2.40" fill="#dacfe7"/>
<rect y="435.40" height="2.40" fill="#d7cbe5"/>
<rect y="436.90" height="2.20" fill="#d5c9e4"/>
<rect y="438.20" height="2.20" fill="#c5b6db"/>
<rect y="439.50" height="2.20" fill="#eae4f0"/>
<rect y="440.80" height="2.90" fill="#ede7f2"/>
<rect y="442.80" height="2.40" fill="#f4f0f6"/>
<rect y="444.30" height="2.10" fill="#eae3f0"/>
<rect y="445.50" height="1.50" fill="#eae3f0"/>
<rect y="446.80" height="0.20" fill="#e5deed"/>
</g>
<g transform="translate(381.65 0)">
<rect y="175.50" height="2.90" fill="#f5d4ce"/>
<rect y="177.50" height="2.90" fill="#e2daec"/>
<rect y="179.50" height="2.90" fill="#d25738"/>
<rect y="181.50" height="2.30" fill="#ccbedf"/>
<rect y="182.90" height="2.20" fill="#cabcde"/>
<rect y="184.20" height="2.90" fill="#eea896"/>
<rect y="186.20" height="2.20" fill="#f3c1b6"/>
<rect y="187.50" height="2.20" fill="#dbd1e8"/>
<rect y="188.80" height="2.90" fill="#bcaad5"/>
<rect y="190.80" height="2.40" fill="#b6a3d2"/>
<rect y="192.30" height="2.20" fill="#f4f1f6"/>
<rect y="193.60" height="2.20" fill="#8f75bb"/>
<rect y="194.90" height="2.10" fill="#f6dddb"/>
<rect y="196.10" height="2.60" fill="#f3c5ba"/>
<rect y="197.80" height="2.90" fill="#f6e7e8"/>
<rect y="199.80" height="2.20" fill="#f1b5a6"/>
<rect y="201.10" height="2.10" fill="#c5b6db"/>
<rect y="202.30" height="2.20" fill="#cfc1e0"/>
<rect y="203.60" height="2.10" fill="#f4c8bf"/>
<rect y="204.80" height="2.10" fill="#f6f2f5"/>
<rect y="206.00" height="2.30" fill="#f6eaeb"/>
<rect y="207.40" height="2.30" fill="#f2beb1"/>
<rect y="208.80" height="2.10" fill="#f5d7d3"/>
<rect y="210.00" height="2.90" fill="#ded4e9"/>
<rect y="212.00" height="2.40" fill="#e3dbec"/>
<rect y="213.50" height="2.90" fill="#e6deee"/>
<rect y="215.50" height="2.30" fill="#af9bce"/>
<rect y="216.90" height="2.30" fill="#f6eff1"/>
<rect y="218.30" height="2.40" fill="#e3dbec"/>
<rect y="219.80" height="2.90" fill="#d8cce5"/>
<rect y="221.80" height="2.10" fill="#eae4f0"/>
<rect y="223.00" height="2.20" fill="#a892ca"/>
<rect y="224.30" height="2.90" fill="#cdbfdf"/>
<rect y="226.30" height="2.40" fill="#f2bbae"/>
<rect y="227.80" height="2.60" fill="#ded4e9"/>
<rect y="229.50" height="2.20" fill="#f6e0dd"/>
<rect y="230.80" height="2.40" fill="#ad98cc"/>
<rect y="232.30" height="2.40" fill="#ede8f2"/>
<rect y="233.80" height="2.30" fill="#f5d4ce"/>
<rect y="235.20" height="2.40" fill="#eeaa99"/>
<rect y="236.70" height="2.10" fill="#ac97cc"/>
<rect y="237.90" height="2.20" fill="#f6dfdd"/>
<rect y="239.20" height="2.20" fill="#cec1e0"/>
<rect y="240.50" height="2.60" fill="#eca18d"/>
<rect y="242.20" height="2.20" fill="#cabbdd"/>
<rect y="243.50" height="2.40" fill="#b09cce"/>
<rect y="245.00" height="2.60" fill="#f5d8d3"/>
<rect y="246.70" height="2.20" fill="#eda593"/>
<rect y="248.00" height="2.10" fill="#e4dced"/>
<rect y="249.20" height="2.10" fill="#cfc1e0"/>
<rect y="250.40" height="2.30" fill="#e58a72"/>
<rect y="251.80" height="2.30" fill="#f6e3e2"/>
<rect y="253.20" height="2.10" fill="#ded5e9"/>
<rect y="254.40" height="2.90" fill="#ede8f2"/>
<rect y="256.40" height="2.60" fill="#b19dcf"/>
<rect y="258.10" height="2.60" fill="#cdbedf"/>
<rect y="259.80" height="2.60" fill="#baa8d4"/>
<rect y="261.50" height="2.20" fill="#eee9f3"/>
<rect y="262.80" height="2.30" fill="#f3eff5"/>
<rect y="264.20" height="2.40" fill="#b4a1d1"/>
<rect y="265.70" height="2.40" fill="#b09bce"/>
<rect y="267.20" height="2.20" fill="#f1edf4"/>
<rect y="268.50" height="2.40" fill="#c3b3da"/>
<rect y="270.00" height="2.40" fill="#f2edf4"/>
<rect y="271.50" height="2.10" fill="#d0c3e1"/>
<rect y="272.70" height="2.60" fill="#f6e0de"/>
<rect y="274.40" height="2.20" fill="#f6e4e3"/>
<rect y="275.70" height="2.20" fill="#f3c2b7"/>
<rect y="277.00" height="2.30" fill="#f6e1df"/>
<rect y="278.40" height="2.20" fill="#f1edf4"/>
<rect y="279.70" height="2.10" fill="#f6edef"/>
<rect y="280.90" height="2.10" fill="#f2eef5"/>
<rect y="282.10" height="2.90" fill="#f5d6d1"/>
<rect y="284.10" height="2.90" fill="#f6dbd8"/>
<rect y="286.10" height="2.20" fill="#eb9e8a"/>
<rect y="287.40" height="2.30" fill="#e68c74"/>
<rect y="288.80" height="2.90" fill="#f4cac1"/>
<rect y="290.80" height="2.30" fill="#f4cac1"/>
<rect y="292.20" height="2.20" fill="#c63c1c"/>
<rect y="293.50" height="2.60" fill="#f0b4a5"/>
<rect y="295.20" height="2.60" fill="#e68c74"/>
<rect y="296.90" height="2.20" fill="#e78f78"/>
<rect y="298.20" height="2.60" fill="#f6d8d4"/>
<rect y="299.90" height="2.60" fill="#f6e2e1"/>
<rect y="301.60" height="2.30" fill="#dfd6ea"/>
<rect y="303.00" height="2.10" fill="#f3c1b6"/>
<rect y="304.20" height="2.40" fill="#cfc1e0"/>
<rect y="305.70" height="2.40" fill="#f5d5d0"/>
<rect y="307.20" height="2.10" fill="#f6dfdd"/>
<rect y="308.40" height="2.30" fill="#f5d7d2"/>
<rect y="309.80" height="2.20" fill="#f0b3a4"/>
<rect y="311.10" height="2.60" fill="#d2c5e2"/>
<rect y="312.80" height="2.20" fill="#e58971"/>
<rect y="314.10" height="2.10" fill="#6649a4"/>
<rect y="315.30" height="2.20" fill="#f6ecee"/>
<rect y="316.60" height="2.30" fill="#eee9f2"/>
<rect y="318.00" height="2.90" fill="#d2c5e2"/>
<rect y="320.00" height="2.40" fill="#f6f3f7"/>
<rect y="321.50" height="2.10" fill="#eae4f0"/>
<rect y="322.70" height="2.40" fill="#dbd1e8"/>
<rect y="324.20" height="2.40" fill="#f0b3a4"/>
<rect y="325.70" height="2.60" fill="#f6e9ea"/>
<rect y="327.40" height="2.20" fill="#e5dded"/>
<rect y="328.70" height="2.20" fill="#f6eced"/>
<rect y="330.00" height="2.20" fill="#ede7f2"/>
<rect y="331.30" height="2.30" fill="#cdbfdf"/>
<rect y="332.70" height="2.30" fill="#f5d5cf"/>
<rect y="334.10" height="2.10" fill="#f6e2e1"/>
<rect y="335.30" height="2.40" fill="#f6e8e9"/>
<rect y="336.80" height="2.40" fill="#f3c4b9"/>
<rect y="338.30" height="2.90" fill="#f4c9c0"/>
<rect y="340.30" height="2.20" fill="#f3c4ba"/>
<rect y="341.60" height="2.90" fill="#f3eff5"/>
<rect y="343.60" height="2.20" fill="#f6dbd7"/>
<rect y="344.90" height="2.60" fill="#f2eef5"/>
<rect y="346.60" height="2.20" fill="#e4dced"/>
<rect y="347.90" height="2.20" fill="#f1ecf4"/>
<rect y="349.20" height="2.40" fill="#f2bdb1"/>
<rect y="350.70" height="2.30" fill="#efac9b"/>
<rect y="352.10" height="2.30" fill="#f5cfc8"/>
<rect y="353.50" height="2.30" fill="#f3eff5"/>
<rect y="354.90" height="2.20" fill="#f5d7d2"/>
<rect y="356.20" height="2.30" fill="#e2d9eb"/>
<rect y="357.60" height="2.60" fill="#d9cee6"/>
<rect y="359.30" height="2.90" fill="#b9a7d4"/>
<rect y="361.30" height="2.20" fill="#f6f3f6"/>
<rect y="362.60" height="2.60" fill="#efeaf3"/>
<rect y="364.30" height="2.10" fill="#f5f2f7"/>
<rect y="365.50" height="2.20" fill="#cabbdd"/>
<rect y="366.80" height="2.20" fill="#f0ecf4"/>
<rect y="368.10" height="2.10" fill="#ddd3e8"/>
<rect y="369.30" height="2.40" fill="#b29dcf"/>
<rect y="370.80" height="2.30" fill="#b6a3d2"/>
<rect y="372.20" height="2.60" fill="#d3c6e3"/>
<rect y="373.90" height="2.40" fill="#d8cde6"/>
<rect y="375.40" height="2.60" fill="#c9badd"/>
<rect y="377.10" height="2.90" fill="#f0ecf4"/>
<rect y="379.10" height="2.40" fill="#ded5e9"/>
<rect y="380.60" height="2.20" fill="#dcd2e8"/>
<rect y="381.90" height="2.20" fill="#efac9b"/>
<rect y="383.20" height="2.20" fill="#c8b9dc"/>
<rect y="384.50" height="2.30" fill="#e2daeb"/>
<rect y="385.90" height="2.90" fill="#f6e3e2"/>
<rect y="387.90" height="2.20" fill="#e3dbec"/>
<rect y="389.20" height="2.40" fill="#d5cae4"/>
<rect y="390.70" height="2.30" fill="#e9e2ef"/>
<rect y="392.10" height="2.30" fill="#e4dced"/>
<rect y="393.50" height="2.10" fill="#eae3f0"/>
<rect y="394.70" height="2.20" fill="#ddd3e8"/>
<rect y="396.00" height="2.40" fill="#ddd3e8"/>
<rect y="397.50" height="2.60" fill="#eee9f3"/>
<rect y="399.20" height="2.90" fill="#f2beb2"/>
<rect y="401.20" height="2.30" fill="#efebf3"/>
<rect y="402.60" height="2.10" fill="#e0d7ea"/>
<rect y="403.80" height="2.10" fill="#c8b8dc"/>
<rect y="405.00" height="2.20" fill="#ede7f2"/>
<rect y="406.30" height="2.40" fill="#ddd4e9"/>
<rect y="407.80" height="2.40" fill="#d1c4e2"/>
<rect y="409.30" height="2.20" fill="#f6e8e8"/>
<rect y="410.60" height="2.20" fill="#ded4e9"/>
<rect y="411.90" height="2.40" fill="#f6eef0"/>
<rect y="413.40" height="2.20" fill="#f6dcd9"/>
<rect y="414.70" height="2.90" fill="#cdbfdf"/>
<rect y="416.70" height="2.40" fill="#cec0e0"/>
<rect y="418.20" height="2.20" fill="#d0c3e1"/>
<rect y="419.50" height="2.10" fill="#ddd3e8"/>
<rect y="420.70" height="2.10" fill="#b7a5d3"/>
<rect y="421.90" height="2.90" fill="#ccbedf"/>
<rect y="423.90" height="2.40" fill="#b7a5d3"/>
<rect y="425.40" height="2.40" fill="#dcd2e8"/>
<rect y="426.90" height="2.10" fill="#cdc0df"/>
<rect y="428.10" height="2.10" fill="#e2daec"/>
<rect y="429.30" height="2.20" fill="#f6e9ea"/>
<rect y="430.60" height="2.90" fill="#e8e1ef"/>
<rect y="432.60" height="2.20" fill="#d7cbe5"/>
<rect y="433.90" height="2.40" fill="#eae4f0"/>
<rect y="435.40" height="2.40" fill="#bba9d5"/>
<rect y="436.90" height="2.20" fill="#ddd3e8"/>
<rect y="438.20" height="2.20" fill="#dacfe7"/>
<rect y="439.50" height="2.20" fill="#cdbfdf"/>
<rect y="440.80" height="2.90" fill="#b7a4d2"/>
<rect y="442.80" height="2.40" fill="#ece7f1"/>
<rect y="444.30" height="2.10" fill="#f6dbd7"/>
<rect y="445.50" height="1.50" fill="#e3daec"/>
<rect y="446.80" height="0.20" fill="#eee8f2"/>
</g>
<g transform="translate(390.76 0)">
<rect y="175.50" height="2.90" fill="#e07b60"/>
<rect y="177.50" height="2.90" fill="#e68d75"/>
<rect y="179.50" height="2.90" fill="#e8947d"/>
<rect y="181.50" height="2.30" fill="#f2bcaf"/>
<rect y="182.90" height="2.20" fill="#e79179"/>
<rect y="184.20" height="2.90" fill="#ea9c87"/>
<rect y="186.20" height="2.20" fill="#eb9e8a"/>
<rect y="187.50" height="2.20" fill="#eea896"/>
<rect y="188.80" height="2.90" fill="#e17f65"/>
<rect y="190.80" height="2.40" fill="#eda491"/>
<rect y="192.30" height="2.20" fill="#eb9d88"/>
<rect y="193.60" height="2.20" fill="#ea9984"/>
<rect y="194.90" height="2.10" fill="#df795d"/>
<rect y="196.10" height="2.60" fill="#e8937c"/>
<rect y="197.80" height="2.90" fill="#df795e"/>
<rect y="199.80" height="2.20" fill="#f3c4b9"/>
<rect y="201.10" height="2.10" fill="#df785d"/>
<rect y="202.30" height="2.20" fill="#c63c1c"/>
<rect y="203.60" height="2.10" fill="#dd7558"/>
<rect y="204.80" height="2.10" fill="#cb4929"/>
<rect y="206.00" height="2.30" fill="#e4866d"/>
<rect y="207.40" height="2.30" fill="#eb9e8a"/>
<rect y="208.80" height="2.10" fill="#e4866d"/>
<rect y="210.00" height="2.90" fill="#ea9c87"/>
<rect y="212.00" height="2.40" fill="#e3856c"/>
<rect y="213.50" height="2.90" fill="#e4866c"/>
<rect y="215.50" height="2.30" fill="#eb9f8b"/>
<rect y="216.90" height="2.30" fill="#eca28e"/>
<rect y="218.30" height="2.40" fill="#e17e63"/>
<rect y="219.80" height="2.90" fill="#f0b4a5"/>
<rect y="221.80" height="2.10" fill="#d0c3e1"/>
<rect y="223.00" height="2.20" fill="#eda693"/>
<rect y="224.30" height="2.90" fill="#f3c2b8"/>
<rect y="226.30" height="2.40" fill="#eda592"/>
<rect y="227.80" height="2.60" fill="#e5dded"/>
<rect y="229.50" height="2.20" fill="#e7dfee"/>
<rect y="230.80" height="2.40" fill="#f6f1f4"/>
<rect y="232.30" height="2.40" fill="#ebe5f1"/>
<rect y="233.80" height="2.30" fill="#d25a3a"/>
<rect y="235.20" height="2.40" fill="#f4cbc2"/>
<rect y="236.70" height="2.10" fill="#ddd3e9"/>
<rect y="237.90" height="2.20" fill="#e3846a"/>
<rect y="239.20" height="2.20" fill="#cabbde"/>
<rect y="240.50" height="2.60" fill="#f6dad6"/>
<rect y="242.20" height="2.20" fill="#e2daeb"/>
<rect y="243.50" height="2.40" fill="#f1b5a7"/>
<rect y="245.00" height="2.60" fill="#f6e9e9"/>
<rect y="246.70" height="2.20" fill="#b19dcf"/>
<rect y="248.00" height="2.10" fill="#f5d2cc"/>
<rect y="249.20" height="2.10" fill="#cf5232"/>
<rect y="250.40" height="2.30" fill="#e7e0ee"/>
<rect y="251.80" height="2.30" fill="#c63c1c"/>
<rect y="253.20" height="2.10" fill="#cfc1e0"/>
<rect y="254.40" height="2.90" fill="#f2bdb1"/>
<rect y="256.40" height="2.60" fill="#da6c4f"/>
<rect y="258.10" height="2.60" fill="#eea998"/>
<rect y="259.80" height="2.60" fill="#d6cae4"/>
<rect y="261.50" height="2.20" fill="#eee8f2"/>
<rect y="262.80" height="2.30" fill="#9d85c3"/>
<rect y="264.20" height="2.40" fill="#ea9b86"/>
<rect y="265.70" height="2.40" fill="#a791c9"/>
<rect y="267.20" height="2.20" fill="#dbd0e7"/>
<rect y="268.50" height="2.40" fill="#f4c8be"/>
<rect y="270.00" height="2.40" fill="#d4c7e3"/>
<rect y="271.50" height="2.10" fill="#e6deee"/>
<rect y="272.70" height="2.60" fill="#f6ddda"/>
<rect y="274.40" height="2.20" fill="#b8a5d3"/>
<rect y="275.70" height="2.20" fill="#f3c3b8"/>
<rect y="277.00" height="2.30" fill="#f5d4ce"/>
<rect y="278.40" height="2.20" fill="#b9a7d4"/>
<rect y="279.70" height="2.10" fill="#eae4f0"/>
<rect y="280.90" height="2.10" fill="#f4f1f6"/>
<rect y="282.10" height="2.90" fill="#d25839"/>
<rect y="284.10" height="2.90" fill="#c0afd8"/>
<rect y="286.10" height="2.20" fill="#7d61b1"/>
<rect y="287.40" height="2.30" fill="#d4c8e3"/>
<rect y="288.80" height="2.90" fill="#dacfe7"/>
<rect y="290.80" height="2.30" fill="#ab96cc"/>
<rect y="292.20" height="2.20" fill="#d7cce5"/>
<rect y="293.50" height="2.60" fill="#ccbedf"/>
<rect y="295.20" height="2.60" fill="#c0afd8"/>
<rect y="296.90" height="2.20" fill="#e4dcec"/>
<rect y="298.20" height="2.60" fill="#9e86c4"/>
<rect y="299.90" height="2.60" fill="#d2c6e2"/>
<rect y="301.60" height="2.30" fill="#8469b5"/>
<rect y="303.00" height="2.10" fill="#cbbcde"/>
<rect y="304.20" height="2.40" fill="#c9badd"/>
<rect y="305.70" height="2.40" fill="#f6e5e5"/>
<rect y="307.20" height="2.10" fill="#c8b9dc"/>
<rect y="308.40" height="2.30" fill="#e5dded"/>
<rect y="309.80" height="2.20" fill="#d3c6e3"/>
<rect y="311.10" height="2.60" fill="#f6ecee"/>
<rect y="312.80" height="2.20" fill="#9076bc"/>
<rect y="314.10" height="2.10" fill="#ac97cc"/>
<rect y="315.30" height="2.20" fill="#7a5eb0"/>
<rect y="316.60" height="2.30" fill="#a58ec8"/>
<rect y="318.00" height="2.90" fill="#f6dfdc"/>
<rect y="320.00" height="2.40" fill="#f1ecf4"/>
<rect y="321.50" height="2.10" fill="#c7b8dc"/>
<rect y="322.70" height="2.40" fill="#ece6f1"/>
<rect y="324.20" height="2.40" fill="#baa8d4"/>
<rect y="325.70" height="2.60" fill="#efeaf3"/>
<rect y="327.40" height="2.20" fill="#f5d0c9"/>
<rect y="328.70" height="2.20" fill="#d3c6e3"/>
<rect y="330.00" height="2.20" fill="#af9bce"/>
<rect y="331.30" height="2.30" fill="#8f75bb"/>
<rect y="332.70" height="2.30" fill="#e7e0ee"/>
<rect y="334.10" height="2.10" fill="#f4ccc3"/>
<rect y="335.30" height="2.40" fill="#f6f3f6"/>
<rect y="336.80" height="2.40" fill="#f6e1df"/>
<rect y="338.30" height="2.90" fill="#e5deed"/>
<rect y="340.30" height="2.20" fill="#dcd1e8"/>
<rect y="341.60" height="2.90" fill="#f4cbc2"/>
<rect y="343.60" height="2.20" fill="#a994ca"/>
<rect y="344.90" height="2.60" fill="#c7b8dc"/>
<rect y="346.60" height="2.20" fill="#d3c6e3"/>
<rect y="347.90" height="2.20" fill="#b9a7d4"/>
<rect y="349.20" height="2.40" fill="#e6deee"/>
<rect y="350.70" height="2.30" fill="#b8a6d3"/>
<rect y="352.10" height="2.30" fill="#cabcde"/>
<rect y="353.50" height="2.30" fill="#9e86c4"/>
<rect y="354.90" height="2.20" fill="#bba9d5"/>
<rect y="356.20" height="2.30" fill="#d9cee6"/>
<rect y="357.60" height="2.60" fill="#d3c7e3"/>
<rect y="359.30" height="2.90" fill="#d0c3e1"/>
<rect y="361.30" height="2.20" fill="#c3b2d9"/>
<rect y="362.60" height="2.60" fill="#e6dfee"/>
<rect y="364.30" height="2.10" fill="#f6d8d4"/>
<rect y="365.50" height="2.20" fill="#e8e1ef"/>
<rect y="366.80" height="2.20" fill="#f6e5e5"/>
<rect y="368.10" height="2.10" fill="#e2daec"/>
<rect y="369.30" height="2.40" fill="#eae4f0"/>
<rect y="370.80" height="2.30" fill="#f0ebf3"/>
<rect y="372.20" height="2.60" fill="#ddd3e8"/>
<rect y="373.90" height="2.40" fill="#c0afd8"/>
<rect y="375.40" height="2.60" fill="#cec0e0"/>
<rect y="377.10" height="2.90" fill="#ddd2e8"/>
<rect y="379.10" height="2.40" fill="#896fb8"/>
<rect y="380.60" height="2.20" fill="#7457ac"/>
<rect y="381.90" height="2.20" fill="#967dbf"/>
<rect y="383.20" height="2.20" fill="#472c95"/>
<rect y="384.50" height="2.30" fill="#795daf"/>
<rect y="385.90" height="2.90" fill="#7e62b2"/>
<rect y="387.90" height="2.20" fill="#6346a3"/>
<rect y="389.20" height="2.40" fill="#7659ad"/>
<rect y="390.70" height="2.30" fill="#7357ac"/>
<rect y="392.10" height="2.30" fill="#9880c0"/>
<rect y="393.50" height="2.10" fill="#7356ab"/>
<rect y="394.70" height="2.20" fill="#8367b4"/>
<rect y="396.00" height="2.40" fill="#a791c9"/>
<rect y="397.50" height="2.60" fill="#9279bd"/>
<rect y="399.20" height="2.90" fill="#7d61b1"/>
<rect y="401.20" height="2.30" fill="#6c50a8"/>
<rect y="402.60" height="2.10" fill="#7458ac"/>
<rect y="403.80" height="2.10" fill="#7a5eaf"/>
<rect y="405.00" height="2.20" fill="#d2c5e2"/>
<rect y="406.30" height="2.40" fill="#a993ca"/>
<rect y="407.80" height="2.40" fill="#9f88c5"/>
<rect y="409.30" height="2.20" fill="#d7cbe5"/>
<rect y="410.60" height="2.20" fill="#b6a3d2"/>
<rect y="411.90" height="2.40" fill="#b4a0d1"/>
<rect y="413.40" height="2.20" fill="#ece6f1"/>
<rect y="414.70" height="2.90" fill="#e5deed"/>
<rect y="416.70" height="2.40" fill="#f3eff5"/>
<rect y="418.20" height="2.20" fill="#dfd5e9"/>
<rect y="419.50" height="2.10" fill="#e2d9eb"/>
<rect y="420.70" height="2.10" fill="#dfd6ea"/>
<rect y="421.90" height="2.90" fill="#d5c9e4"/>
<rect y="423.90" height="2.40" fill="#ccbdde"/>
<rect y="425.40" height="2.40" fill="#f1edf4"/>
<rect y="426.90" height="2.10" fill="#d4c8e3"/>
<rect y="428.10" height="2.10" fill="#d4c8e4"/>
<rect y="429.30" height="2.20" fill="#f6e0de"/>
<rect y="430.60" height="2.90" fill="#c4b3da"/>
<rect y="432.60" height="2.20" fill="#b4a0d0"/>
<rect y="433.90" height="2.40" fill="#b09cce"/>
<rect y="435.40" height="2.40" fill="#b09bce"/>
<rect y="436.90" height="2.20" fill="#c2b2d9"/>
<rect y="438.20" height="2.20" fill="#b09cce"/>
<rect y="439.50" height="2.20" fill="#b09bce"/>
<rect y="440.80" height="2.90" fill="#bfaed7"/>
<rect y="442.80" height="2.40" fill="#7c60b0"/>
<rect y="444.30" height="2.10" fill="#d1c4e2"/>
<rect y="445.50" height="1.50" fill="#b9a6d3"/>
<rect y="446.80" height="0.20" fill="#ae99cd"/>
</g>
<g transform="translate(399.87 0)">
<rect y="175.50" height="2.90" fill="#c63d1d"/>
<rect y="177.50" height="2.90" fill="#c63c1c"/>
<rect y="179.50" height="2.90" fill="#c63c1c"/>
<rect y="181.50" height="2.30" fill="#cd4e2e"/>
<rect y="182.90" height="2.20" fill="#ca4524"/>
<rect y="184.20" height="2.90" fill="#cd4c2c"/>
<rect y="186.20" height="2.20" fill="#cc4a2a"/>
<rect y="187.50" height="2.20" fill="#d76445"/>
<rect y="188.80" height="2.90" fill="#c73f1e"/>
<rect y="190.80" height="2.40" fill="#d05333"/>
<rect y="192.30" height="2.20" fill="#d35b3b"/>
<rect y="193.60" height="2.20" fill="#ca4626"/>
<rect y="194.90" height="2.10" fill="#cb4929"/>
<rect y="196.10" height="2.60" fill="#c63c1c"/>
<rect y="197.80" height="2.90" fill="#c63c1c"/>
<rect y="199.80" height="2.20" fill="#c84020"/>
<rect y="201.10" height="2.10" fill="#c63c1c"/>
<rect y="202.30" height="2.20" fill="#c63c1c"/>
<rect y="203.60" height="2.10" fill="#c63c1c"/>
<rect y="204.80" height="2.10" fill="#c63c1c"/>
<rect y="206.00" height="2.30" fill="#cc4b2b"/>
<rect y="207.40" height="2.30" fill="#c63c1c"/>
<rect y="208.80" height="2.10" fill="#c63c1c"/>
<rect y="210.00" height="2.90" fill="#cf5233"/>
<rect y="212.00" height="2.40" fill="#c63c1c"/>
<rect y="213.50" height="2.90" fill="#c63c1c"/>
<rect y="215.50" height="2.30" fill="#cc4a2b"/>
<rect y="216.90" height="2.30" fill="#cb4727"/>
<rect y="218.30" height="2.40" fill="#c63c1c"/>
<rect y="219.80" height="2.90" fill="#c8b8dc"/>
<rect y="221.80" height="2.10" fill="#d4c8e3"/>
<rect y="223.00" height="2.20" fill="#f6e0de"/>
<rect y="224.30" height="2.90" fill="#f5d2cc"/>
<rect y="226.30" height="2.40" fill="#f6f0f3"/>
<rect y="227.80" height="2.60" fill="#c5b5db"/>
<rect y="229.50" height="2.20" fill="#d9cee6"/>
<rect y="230.80" height="2.40" fill="#f5d3cd"/>
<rect y="232.30" height="2.40" fill="#f5cfc7"/>
<rect y="233.80" height="2.30" fill="#e68e76"/>
<rect y="235.20" height="2.40" fill="#f6e3e2"/>
<rect y="236.70" height="2.10" fill="#e3dbec"/>
<rect y="237.90" height="2.20" fill="#f6eef0"/>
<rect y="239.20" height="2.20" fill="#f4cbc3"/>
<rect y="240.50" height="2.60" fill="#b39fd0"/>
<rect y="242.20" height="2.20" fill="#f0ecf4"/>
<rect y="243.50" height="2.40" fill="#f6e4e3"/>
<rect y="245.00" height="2.60" fill="#bdacd6"/>
<rect y="246.70" height="2.20" fill="#d4c8e3"/>
<rect y="248.00" height="2.10" fill="#ded4e9"/>
<rect y="249.20" height="2.10" fill="#df785d"/>
<rect y="250.40" height="2.30" fill="#d1c3e1"/>
<rect y="251.80" height="2.30" fill="#f5d3cd"/>
<rect y="253.20" height="2.10" fill="#f6e4e3"/>
<rect y="254.40" height="2.90" fill="#c7b7dc"/>
<rect y="256.40" height="2.60" fill="#eea896"/>
<rect y="258.10" height="2.60" fill="#f6dad6"/>
<rect y="259.80" height="2.60" fill="#f3eff5"/>
<rect y="261.50" height="2.20" fill="#c5b5da"/>
<rect y="262.80" height="2.30" fill="#f6dad6"/>
<rect y="264.20" height="2.40" fill="#f5cfc8"/>
<rect y="265.70" height="2.40" fill="#d2c5e2"/>
<rect y="267.20" height="2.20" fill="#e4dced"/>
<rect y="268.50" height="2.40" fill="#f5d2cb"/>
<rect y="270.00" height="2.40" fill="#f4cdc5"/>
<rect y="271.50" height="2.10" fill="#f2bfb3"/>
<rect y="272.70" height="2.60" fill="#f6ecee"/>
<rect y="274.40" height="2.20" fill="#f6e8e9"/>
<rect y="275.70" height="2.20" fill="#f1ecf4"/>
<rect y="277.00" height="2.30" fill="#f3c3b8"/>
<rect y="278.40" height="2.20" fill="#e4dced"/>
<rect y="279.70" height="2.10" fill="#eda593"/>
<rect y="280.90" height="2.10" fill="#d2c6e2"/>
<rect y="282.10" height="2.90" fill="#d15536"/>
<rect y="284.10" height="2.90" fill="#beadd7"/>
<rect y="286.10" height="2.20" fill="#cec1e0"/>
<rect y="287.40" height="2.30" fill="#ad97cc"/>
<rect y="288.80" height="2.90" fill="#dcd2e8"/>
<rect y="290.80" height="2.30" fill="#c4b4da"/>
<rect y="292.20" height="2.20" fill="#e7e0ef"/>
<rect y="293.50" height="2.60" fill="#f6dad6"/>
<rect y="295.20" height="2.60" fill="#977fc0"/>
<rect y="296.90" height="2.20" fill="#f6e0de"/>
<rect y="298.20" height="2.60" fill="#eae3f0"/>
<rect y="299.90" height="2.60" fill="#beadd7"/>
<rect y="301.60" height="2.30" fill="#ded4e9"/>
<rect y="303.00" height="2.10" fill="#f6edef"/>
<rect y="304.20" height="2.40" fill="#e7e0ee"/>
<rect y="305.70" height="2.40" fill="#f2bbae"/>
<rect y="307.20" height="2.10" fill="#c8b9dd"/>
<rect y="308.40" height="2.30" fill="#b19dcf"/>
<rect y="309.80" height="2.20" fill="#eca18d"/>
<rect y="311.10" height="2.60" fill="#eb9e8a"/>
<rect y="312.80" height="2.20" fill="#cbbdde"/>
<rect y="314.10" height="2.10" fill="#f6d9d5"/>
<rect y="315.30" height="2.20" fill="#a690c9"/>
<rect y="316.60" height="2.30" fill="#e6deee"/>
<rect y="318.00" height="2.90" fill="#efaf9f"/>
<rect y="320.00" height="2.40" fill="#f6e8e8"/>
<rect y="321.50" height="2.10" fill="#ebe4f0"/>
<rect y="322.70" height="2.40" fill="#f6dad6"/>
<rect y="324.20" height="2.40" fill="#dad0e7"/>
<rect y="325.70" height="2.60" fill="#f6eef0"/>
<rect y="327.40" height="2.20" fill="#dacfe7"/>
<rect y="328.70" height="2.20" fill="#dbd0e7"/>
<rect y="330.00" height="2.20" fill="#beacd6"/>
<rect y="331.30" height="2.30" fill="#8c71b9"/>
<rect y="332.70" height="2.30" fill="#c4b3da"/>
<rect y="334.10" height="2.10" fill="#e3dbec"/>
<rect y="335.30" height="2.40" fill="#eee9f2"/>
<rect y="336.80" height="2.40" fill="#d4c8e3"/>
<rect y="338.30" height="2.90" fill="#f4f0f6"/>
<rect y="340.30" height="2.20" fill="#efeaf3"/>
<rect y="341.60" height="2.90" fill="#e4dced"/>
<rect y="343.60" height="2.20" fill="#cabcde"/>
<rect y="344.90" height="2.60" fill="#ded4e9"/>
<rect y="346.60" height="2.20" fill="#e1d8eb"/>
<rect y="347.90" height="2.20" fill="#f6f1f5"/>
<rect y="349.20" height="2.40" fill="#d0c3e1"/>
<rect y="350.70" height="2.30" fill="#f6eff1"/>
<rect y="352.10" height="2.30" fill="#f0ebf3"/>
<rect y="353.50" height="2.30" fill="#8f75bb"/>
<rect y="354.90" height="2.20" fill="#e4dced"/>
<rect y="356.20" height="2.30" fill="#f6eef1"/>
<rect y="357.60" height="2.60" fill="#cdbfdf"/>
<rect y="359.30" height="2.90" fill="#cec1e0"/>
<rect y="361.30" height="2.20" fill="#d1c4e1"/>
<rect y="362.60" height="2.60" fill="#e6deed"/>
<rect y="364.30" height="2.10" fill="#d9cee6"/>
<rect y="365.50" height="2.20" fill="#e0d6ea"/>
<rect y="366.80" height="2.20" fill="#dfd5e9"/>
<rect y="368.10" height="2.10" fill="#f0b2a3"/>
<rect y="369.30" height="2.40" fill="#f6e8e8"/>
<rect y="370.80" height="2.30" fill="#f2eef5"/>
<rect y="372.20" height="2.60" fill="#f5d2cb"/>
<rect y="373.90" height="2.40" fill="#f4f1f6"/>
<rect y="375.40" height="2.60" fill="#f6eef0"/>
<rect y="377.10" height="2.90" fill="#ede7f2"/>
<rect y="379.10" height="2.40" fill="#ae99cd"/>
<rect y="380.60" height="2.20" fill="#efeaf3"/>
<rect y="381.90" height="2.20" fill="#d6cbe5"/>
<rect y="383.20" height="2.20" fill="#beacd6"/>
<rect y="384.50" height="2.30" fill="#b7a4d2"/>
<rect y="385.90" height="2.90" fill="#b09cce"/>
<rect y="387.90" height="2.20" fill="#baa8d4"/>
<rect y="389.20" height="2.40" fill="#b7a4d2"/>
<rect y="390.70" height="2.30" fill="#d1c4e2"/>
<rect y="392.10" height="2.30" fill="#b5a2d1"/>
<rect y="393.50" height="2.10" fill="#bdabd6"/>
<rect y="394.70" height="2.20" fill="#a089c5"/>
<rect y="396.00" height="2.40" fill="#d4c8e3"/>
<rect y="397.50" height="2.60" fill="#f4f0f6"/>
<rect y="399.20" height="2.90" fill="#d0c3e1"/>
<rect y="401.20" height="2.30" fill="#ac96cc"/>
<rect y="402.60" height="2.10" fill="#bfaed7"/>
<rect y="403.80" height="2.10" fill="#d0c2e1"/>
<rect y="405.00" height="2.20" fill="#f6e2e0"/>
<rect y="406.30" height="2.40" fill="#f6e2e1"/>
<rect y="407.80" height="2.40" fill="#d9cfe6"/>
<rect y="409.30" height="2.20" fill="#dfd6ea"/>
<rect y="410.60" height="2.20" fill="#d4c7e3"/>
<rect y="411.90" height="2.40" fill="#beacd6"/>
<rect y="413.40" height="2.20" fill="#f0ecf4"/>
<rect y="414.70" height="2.90" fill="#f6f1f4"/>
<rect y="416.70" height="2.40" fill="#e6dfee"/>
<rect y="418.20" height="2.20" fill="#dcd2e8"/>
<rect y="419.50" height="2.10" fill="#d6cae4"/>
<rect y="420.70" height="2.10" fill="#e6dfee"/>
<rect y="421.90" height="2.90" fill="#d3c7e3"/>
<rect y="423.90" height="2.40" fill="#e6deee"/>
<rect y="425.40" height="2.40" fill="#f6e5e5"/>
<rect y="426.90" height="2.10" fill="#d8cde6"/>
<rect y="428.10" height="2.10" fill="#ccbdde"/>
<rect y="429.30" height="2.20" fill="#f4f1f6"/>
<rect y="430.60" height="2.90" fill="#f6eef0"/>
<rect y="432.60" height="2.20" fill="#c1b1d8"/>
<rect y="433.90" height="2.40" fill="#c9bbdd"/>
<rect y="435.40" height="2.40" fill="#cec0e0"/>
<rect y="436.90" height="2.20" fill="#baa7d4"/>
<rect y="438.20" height="2.20" fill="#f6f3f7"/>
<rect y="439.50" height="2.20" fill="#c8b8dc"/>
<rect y="440.80" height="2.90" fill="#ccbedf"/>
<rect y="442.80" height="2.40" fill="#a58ec8"/>
<rect y="444.30" height="2.10" fill="#ddd4e9"/>
<rect y="445.50" height="1.50" fill="#c5b5da"/>
<rect y="446.80" height="0.20" fill="#af9acd"/>
</g>
<g transform="translate(408.98 0)">
<rect y="175.50" height="2.90" fill="#f5cec6"/>
<rect y="177.50" height="2.90" fill="#f5cfc8"/>
<rect y="179.50" height="2.90" fill="#f0b3a4"/>
<rect y="181.50" height="2.30" fill="#ebe5f1"/>
<rect y="182.90" height="2.20" fill="#f0b4a5"/>
<rect y="184.20" height="2.90" fill="#f6f2f6"/>
<rect y="186.20" height="2.20" fill="#e9e2ef"/>
<rect y="187.50" height="2.20" fill="#eca18d"/>
<rect y="188.80" height="2.90" fill="#e8e1ef"/>
<rect y="190.80" height="2.40" fill="#d6cae5"/>
<rect y="192.30" height="2.20" fill="#efaf9f"/>
<rect y="193.60" height="2.20" fill="#e3dbec"/>
<rect y="194.90" height="2.10" fill="#d5c9e4"/>
<rect y="196.10" height="2.60" fill="#f6e1df"/>
<rect y="197.80" height="2.90" fill="#f6f2f6"/>
<rect y="199.80" height="2.20" fill="#f6e7e7"/>
<rect y="201.10" height="2.10" fill="#efeaf3"/>
<rect y="202.30" height="2.20" fill="#d8cde6"/>
<rect y="203.60" height="2.10" fill="#ea9883"/>
<rect y="204.80" height="2.10" fill="#cbbdde"/>
<rect y="206.00" height="2.30" fill="#f6e0de"/>
<rect y="207.40" height="2.30" fill="#f4cac2"/>
<rect y="208.80" height="2.10" fill="#f6ebed"/>
<rect y="210.00" height="2.90" fill="#f5d5cf"/>
<rect y="212.00" height="2.40" fill="#f5d3cd"/>
<rect y="213.50" height="2.90" fill="#e3daec"/>
<rect y="215.50" height="2.30" fill="#f6eaeb"/>
<rect y="216.90" height="2.30" fill="#e2d9eb"/>
<rect y="218.30" height="2.40" fill="#f6dbd7"/>
<rect y="219.80" height="2.90" fill="#f0b2a3"/>
<rect y="221.80" height="2.10" fill="#db6e50"/>
<rect y="223.00" height="2.20" fill="#f2bcaf"/>
<rect y="224.30" height="2.90" fill="#e9967f"/>
<rect y="226.30" height="2.40" fill="#c63c1c"/>
<rect y="227.80" height="2.60" fill="#eea997"/>
<rect y="229.50" height="2.20" fill="#e17e63"/>
<rect y="230.80" height="2.40" fill="#eea896"/>
<rect y="232.30" height="2.40" fill="#c74020"/>
<rect y="233.80" height="2.30" fill="#efad9d"/>
<rect y="235.20" height="2.40" fill="#f4cac1"/>
<rect y="236.70" height="2.10" fill="#c63c1c"/>
<rect y="237.90" height="2.20" fill="#e3836a"/>
<rect y="239.20" height="2.20" fill="#eb9e89"/>
<rect y="240.50" height="2.60" fill="#e28065"/>
<rect y="242.20" height="2.20" fill="#cb4929"/>
<rect y="243.50" height="2.40" fill="#eb9f8a"/>
<rect y="245.00" height="2.60" fill="#c63c1c"/>
<rect y="246.70" height="2.20" fill="#f6e8e9"/>
<rect y="248.00" height="2.10" fill="#efaf9f"/>
<rect y="249.20" height="2.10" fill="#e58a72"/>
<rect y="250.40" height="2.30" fill="#da6b4d"/>
<rect y="251.80" height="2.30" fill="#f1b5a6"/>
<rect y="253.20" height="2.10" fill="#f4cdc5"/>
<rect y="254.40" height="2.90" fill="#e28167"/>
<rect y="256.40" height="2.60" fill="#f1b5a6"/>
<rect y="258.10" height="2.60" fill="#f6eaeb"/>
<rect y="259.80" height="2.60" fill="#eb9d89"/>
<rect y="261.50" height="2.20" fill="#f3c0b4"/>
<rect y="262.80" height="2.30" fill="#cb4929"/>
<rect y="264.20" height="2.40" fill="#da6c4e"/>
<rect y="265.70" height="2.40" fill="#f3c5bb"/>
<rect y="267.20" height="2.20" fill="#d35b3c"/>
<rect y="268.50" height="2.40" fill="#ea9b86"/>
<rect y="270.00" height="2.40" fill="#f1b8ab"/>
<rect y="271.50" height="2.10" fill="#cb4929"/>
<rect y="272.70" height="2.60" fill="#f4c9c0"/>
<rect y="274.40" height="2.20" fill="#f5d8d4"/>
<rect y="275.70" height="2.20" fill="#c63c1c"/>
<rect y="277.00" height="2.30" fill="#c63c1c"/>
<rect y="278.40" height="2.20" fill="#eda491"/>
<rect y="279.70" height="2.10" fill="#f4cac1"/>
<rect y="280.90" height="2.10" fill="#e99680"/>
<rect y="282.10" height="2.90" fill="#b29ecf"/>
<rect y="284.10" height="2.90" fill="#e0d7ea"/>
<rect y="286.10" height="2.20" fill="#ccbedf"/>
<rect y="287.40" height="2.30" fill="#8267b4"/>
<rect y="288.80" height="2.90" fill="#9a81c1"/>
<rect y="290.80" height="2.30" fill="#eda492"/>
<rect y="292.20" height="2.20" fill="#eee9f3"/>
<rect y="293.50" height="2.60" fill="#af9ace"/>
<rect y="295.20" height="2.60" fill="#c3b3d9"/>
<rect y="296.90" height="2.20" fill="#d9cee6"/>
<rect y="298.20" height="2.60" fill="#f4cbc2"/>
<rect y="299.90" height="2.60" fill="#b39fd0"/>
<rect y="301.60" height="2.30" fill="#f6e2e0"/>
<rect y="303.00" height="2.10" fill="#c7b7db"/>
<rect y="304.20" height="2.40" fill="#f2bdb0"/>
<rect y="305.70" height="2.40" fill="#f6d9d5"/>
<rect y="307.20" height="2.10" fill="#a38cc7"/>
<rect y="308.40" height="2.30" fill="#f6e9ea"/>
<rect y="309.80" height="2.20" fill="#d3c6e3"/>
<rect y="311.10" height="2.60" fill="#694ca6"/>
<rect y="312.80" height="2.20" fill="#f5d4cf"/>
<rect y="314.10" height="2.10" fill="#e4dced"/>
<rect y="315.30" height="2.20" fill="#eeab9a"/>
<rect y="316.60" height="2.30" fill="#eb9c87"/>
<rect y="318.00" height="2.90" fill="#eda592"/>
<rect y="320.00" height="2.40" fill="#f1b5a7"/>
<rect y="321.50" height="2.10" fill="#d8cde6"/>
<rect y="322.70" height="2.40" fill="#f6eaea"/>
<rect y="324.20" height="2.40" fill="#f6e2e1"/>
<rect y="325.70" height="2.60" fill="#f6e4e3"/>
<rect y="327.40" height="2.20" fill="#f3eff5"/>
<rect y="328.70" height="2.20" fill="#e1d8eb"/>
<rect y="330.00" height="2.20" fill="#f6e2e0"/>
<rect y="331.30" height="2.30" fill="#dfd6ea"/>
<rect y="332.70" height="2.30" fill="#f5d4ce"/>
<rect y="334.10" height="2.10" fill="#f0b0a0"/>
<rect y="335.30" height="2.40" fill="#f6ddda"/>
<rect y="336.80" height="2.40" fill="#f5d4ce"/>
<rect y="338.30" height="2.90" fill="#f2beb2"/>
<rect y="340.30" height="2.20" fill="#f6e9e9"/>
<rect y="341.60" height="2.90" fill="#f6dcd8"/>
<rect y="343.60" height="2.20" fill="#f6eff2"/>
<rect y="344.90" height="2.60" fill="#e9957f"/>
<rect y="346.60" height="2.20" fill="#e3dbec"/>
<rect y="347.90" height="2.20" fill="#f6f0f3"/>
<rect y="349.20" height="2.40" fill="#f5d0c9"/>
<rect y="350.70" height="2.30" fill="#e9e2f0"/>
<rect y="352.10" height="2.30" fill="#f6f3f7"/>
<rect y="353.50" height="2.30" fill="#f6dedb"/>
<rect y="354.90" height="2.20" fill="#ebe5f1"/>
<rect y="356.20" height="2.30" fill="#f5cec7"/>
<rect y="357.60" height="2.60" fill="#f6e4e4"/>
<rect y="359.30" height="2.90" fill="#f1edf4"/>
<rect y="361.30" height="2.20" fill="#f3f0f6"/>
<rect y="362.60" height="2.60" fill="#f6eef1"/>
<rect y="364.30" height="2.10" fill="#f6eaeb"/>
<rect y="365.50" height="2.20" fill="#f6eaeb"/>
<rect y="366.80" height="2.20" fill="#f5d3cd"/>
<rect y="368.10" height="2.10" fill="#f4c6bc"/>
<rect y="369.30" height="2.40" fill="#f5f2f7"/>
<rect y="370.80" height="2.30" fill="#f3eff5"/>
<rect y="372.20" height="2.60" fill="#f3f0f5"/>
<rect y="373.90" height="2.40" fill="#f5f2f6"/>
<rect y="375.40" height="2.60" fill="#f3c0b4"/>
<rect y="377.10" height="2.90" fill="#f5d7d2"/>
<rect y="379.10" height="2.40" fill="#f6e0de"/>
<rect y="380.60" height="2.20" fill="#f2beb2"/>
<rect y="381.90" height="2.20" fill="#f6dcd9"/>
<rect y="383.20" height="2.20" fill="#ddd3e9"/>
<rect y="384.50" height="2.30" fill="#f6ddda"/>
<rect y="385.90" height="2.90" fill="#f2bbae"/>
<rect y="387.90" height="2.20" fill="#f6d8d4"/>
<rect y="389.20" height="2.40" fill="#f4cbc3"/>
<rect y="390.70" height="2.30" fill="#f6e3e2"/>
<rect y="392.10" height="2.30" fill="#f3f0f6"/>
<rect y="393.50" height="2.10" fill="#f6eaeb"/>
<rect y="394.70" height="2.20" fill="#ece6f1"/>
<rect y="396.00" height="2.40" fill="#f5f2f6"/>
<rect y="397.50" height="2.60" fill="#f6e0de"/>
<rect y="399.20" height="2.90" fill="#f1b6a7"/>
<rect y="401.20" height="2.30" fill="#b6a3d2"/>
<rect y="402.60" height="2.10" fill="#c9b9dd"/>
<rect y="403.80" height="2.10" fill="#f6e0de"/>
<rect y="405.00" height="2.20" fill="#c8b9dc"/>
<rect y="406.30" height="2.40" fill="#ded4e9"/>
<rect y="407.80" height="2.40" fill="#c1b0d8"/>
<rect y="409.30" height="2.20" fill="#c8b9dc"/>
<rect y="410.60" height="2.20" fill="#d5c9e4"/>
<rect y="411.90" height="2.40" fill="#c2b2d9"/>
<rect y="413.40" height="2.20" fill="#f6e6e6"/>
<rect y="414.70" height="2.90" fill="#e5deed"/>
<rect y="416.70" height="2.40" fill="#f6e0de"/>
<rect y="418.20" height="2.20" fill="#f5f1f6"/>
<rect y="419.50" height="2.10" fill="#e6dfee"/>
<rect y="420.70" height="2.10" fill="#f6dedc"/>
<rect y="421.90" height="2.90" fill="#d6cae4"/>
<rect y="423.90" height="2.40" fill="#d6cbe5"/>
<rect y="425.40" height="2.40" fill="#f6d9d5"/>
<rect y="426.90" height="2.10" fill="#f6e4e4"/>
<rect y="428.10" height="2.10" fill="#ddd3e8"/>
<rect y="429.30" height="2.20" fill="#f6f0f3"/>
<rect y="430.60" height="2.90" fill="#f4ccc4"/>
<rect y="432.60" height="2.20" fill="#f6dcd8"/>
<rect y="433.90" height="2.40" fill="#dbd1e8"/>
<rect y="435.40" height="2.40" fill="#f2eef5"/>
<rect y="436.90" height="2.20" fill="#e6deed"/>
<rect y="438.20" height="2.20" fill="#ded5e9"/>
<rect y="439.50" height="2.20" fill="#f6f0f3"/>
<rect y="440.80" height="2.90" fill="#d7cce5"/>
<rect y="442.80" height="2.40" fill="#d1c5e2"/>
<rect y="444.30" height="2.10" fill="#e5dded"/>
<rect y="445.50" height="1.50" fill="#f6e6e6"/>
<rect y="446.80" height="0.20" fill="#dcd2e8"/>
</g>
<g transform="translate(418.09 0)">
<rect y="175.50" height="2.90" fill="#9279bd"/>
<rect y="177.50" height="2.90" fill="#f6f2f6"/>
<rect y="179.50" height="2.90" fill="#c1b0d8"/>
<rect y="181.50" height="2.30" fill="#eae4f0"/>
<rect y="182.90" height="2.20" fill="#f6ebed"/>
<rect y="184.20" height="2.90" fill="#eae4f0"/>
<rect y="186.20" height="2.20" fill="#d6cae5"/>
<rect y="187.50" height="2.20" fill="#f5f2f6"/>
<rect y="188.80" height="2.90" fill="#bba8d4"/>
<rect y="190.80" height="2.40" fill="#f3c5ba"/>
<rect y="192.30" height="2.20" fill="#e68d75"/>
<rect y="193.60" height="2.20" fill="#cfc1e0"/>
<rect y="194.90" height="2.10" fill="#f6e7e7"/>
<rect y="196.10" height="2.60" fill="#e5dded"/>
<rect y="197.80" height="2.90" fill="#d5c9e4"/>
<rect y="199.80" height="2.20" fill="#e1d9eb"/>
<rect y="201.10" height="2.10" fill="#d0c3e1"/>
<rect y="202.30" height="2.20" fill="#6e51a9"/>
<rect y="203.60" height="2.10" fill="#f3c1b5"/>
<rect y="204.80" height="2.10" fill="#e3dbec"/>
<rect y="206.00" height="2.30" fill="#b09bce"/>
<rect y="207.40" height="2.30" fill="#cabcde"/>
<rect y="208.80" height="2.10" fill="#c0afd8"/>
<rect y="210.00" height="2.90" fill="#f6f2f6"/>
<rect y="212.00" height="2.40" fill="#f5d6d1"/>
<rect y="213.50" height="2.90" fill="#f6e6e6"/>
<rect y="215.50" height="2.30" fill="#f4cdc5"/>
<rect y="216.90" height="2.30" fill="#f6ebed"/>
<rect y="218.30" height="2.40" fill="#cec1e0"/>
<rect y="219.80" height="2.90" fill="#ac97cc"/>
<rect y="221.80" height="2.10" fill="#f6e5e4"/>
<rect y="223.00" height="2.20" fill="#967dbf"/>
<rect y="224.30" height="2.90" fill="#cfc2e0"/>
<rect y="226.30" height="2.40" fill="#e4856c"/>
<rect y="227.80" height="2.60" fill="#e7dfee"/>
<rect y="229.50" height="2.20" fill="#e7dfee"/>
<rect y="230.80" height="2.40" fill="#ded5e9"/>
<rect y="232.30" height="2.40" fill="#f2baad"/>
<rect y="233.80" height="2.30" fill="#f6e7e7"/>
<rect y="235.20" height="2.40" fill="#a28bc6"/>
<rect y="236.70" height="2.10" fill="#d76345"/>
<rect y="237.90" height="2.20" fill="#f4c6bc"/>
<rect y="239.20" height="2.20" fill="#eeaa98"/>
<rect y="240.50" height="2.60" fill="#e68c74"/>
<rect y="242.20" height="2.20" fill="#d25839"/>
<rect y="243.50" height="2.40" fill="#eb9e8a"/>
<rect y="245.00" height="2.60" fill="#f2bfb3"/>
<rect y="246.70" height="2.20" fill="#f6e1df"/>
<rect y="248.00" height="2.10" fill="#e7917a"/>
<rect y="249.20" height="2.10" fill="#e38369"/>
<rect y="250.40" height="2.30" fill="#f6f0f3"/>
<rect y="251.80" height="2.30" fill="#e68b73"/>
<rect y="253.20" height="2.10" fill="#f4cac2"/>
<rect y="254.40" height="2.90" fill="#eda593"/>
<rect y="256.40" height="2.60" fill="#f5cec6"/>
<rect y="258.10" height="2.60" fill="#f6eaea"/>
<rect y="259.80" height="2.60" fill="#f3c5bb"/>
<rect y="261.50" height="2.20" fill="#f5d6d1"/>
<rect y="262.80" height="2.30" fill="#e8927b"/>
<rect y="264.20" height="2.40" fill="#d45e3f"/>
<rect y="265.70" height="2.40" fill="#f4cbc3"/>
<rect y="267.20" height="2.20" fill="#c63c1c"/>
<rect y="268.50" height="2.40" fill="#d35c3d"/>
<rect y="270.00" height="2.40" fill="#cf5132"/>
<rect y="271.50" height="2.10" fill="#c63c1c"/>
<rect y="272.70" height="2.60" fill="#f4cac1"/>
<rect y="274.40" height="2.20" fill="#f0b3a4"/>
<rect y="275.70" height="2.20" fill="#e68d75"/>
<rect y="277.00" height="2.30" fill="#c63c1c"/>
<rect y="278.40" height="2.20" fill="#f2beb2"/>
<rect y="279.70" height="2.10" fill="#ebe5f1"/>
<rect y="280.90" height="2.10" fill="#d35a3b"/>
<rect y="282.10" height="2.90" fill="#9a82c2"/>
<rect y="284.10" height="2.90" fill="#b09ccf"/>
<rect y="286.10" height="2.20" fill="#f3eff5"/>
<rect y="287.40" height="2.30" fill="#7f64b2"/>
<rect y="288.80" height="2.90" fill="#c6b7db"/>
<rect y="290.80" height="2.30" fill="#eca08c"/>
<rect y="292.20" height="2.20" fill="#cfc1e0"/>
<rect y="293.50" height="2.60" fill="#bfadd7"/>
<rect y="295.20" height="2.60" fill="#9b83c2"/>
<rect y="296.90" height="2.20" fill="#cbbcde"/>
<rect y="298.20" height="2.60" fill="#f4cdc5"/>
<rect y="299.90" height="2.60" fill="#8267b4"/>
<rect y="301.60" height="2.30" fill="#f6dad6"/>
<rect y="303.00" height="2.10" fill="#f6e8e8"/>
<rect y="304.20" height="2.40" fill="#c4b4da"/>
<rect y="305.70" height="2.40" fill="#e3daec"/>
<rect y="307.20" height="2.10" fill="#8e74bb"/>
<rect y="308.40" height="2.30" fill="#b3a0d0"/>
<rect y="309.80" height="2.20" fill="#c7b7dc"/>
<rect y="311.10" height="2.60" fill="#8a70b8"/>
<rect y="312.80" height="2.20" fill="#a48dc7"/>
<rect y="314.10" height="2.10" fill="#866bb6"/>
<rect y="315.30" height="2.20" fill="#896fb8"/>
<rect y="316.60" height="2.30" fill="#f6d8d4"/>
<rect y="318.00" height="2.90" fill="#cf5131"/>
<rect y="320.00" height="2.40" fill="#f5d0ca"/>
<rect y="321.50" height="2.10" fill="#cdbfdf"/>
<rect y="322.70" height="2.40" fill="#dcd1e8"/>
<rect y="324.20" height="2.40" fill="#f2bfb3"/>
<rect y="325.70" height="2.60" fill="#f6f1f4"/>
<rect y="327.40" height="2.20" fill="#f4ccc3"/>
<rect y="328.70" height="2.20" fill="#ddd3e8"/>
<rect y="330.00" height="2.20" fill="#f3bfb3"/>
<rect y="331.30" height="2.30" fill="#f3c5bb"/>
<rect y="332.70" height="2.30" fill="#eca18d"/>
<rect y="334.10" height="2.10" fill="#f5cfc8"/>
<rect y="335.30" height="2.40" fill="#f1b9ac"/>
<rect y="336.80" height="2.40" fill="#e99781"/>
<rect y="338.30" height="2.90" fill="#f6e0dd"/>
<rect y="340.30" height="2.20" fill="#eda592"/>
<rect y="341.60" height="2.90" fill="#e4876e"/>
<rect y="343.60" height="2.20" fill="#f6e2e0"/>
<rect y="344.90" height="2.60" fill="#f3c4b9"/>
<rect y="346.60" height="2.20" fill="#ea9a85"/>
<rect y="347.90" height="2.20" fill="#eb9c88"/>
<rect y="349.20" height="2.40" fill="#dc7053"/>
<rect y="350.70" height="2.30" fill="#f5cfc7"/>
<rect y="352.10" height="2.30" fill="#f2bfb3"/>
<rect y="353.50" height="2.30" fill="#efab9a"/>
<rect y="354.90" height="2.20" fill="#f6e9ea"/>
<rect y="356.20" height="2.30" fill="#f0b0a0"/>
<rect y="357.60" height="2.60" fill="#f5cec6"/>
<rect y="359.30" height="2.90" fill="#f6dfdc"/>
<rect y="361.30" height="2.20" fill="#ebe5f1"/>
<rect y="362.60" height="2.60" fill="#f6eef1"/>
<rect y="364.30" height="2.10" fill="#f6dedc"/>
<rect y="365.50" height="2.20" fill="#f6e6e6"/>
<rect y="366.80" height="2.20" fill="#f4c8bf"/>
<rect y="368.10" height="2.10" fill="#f5d1cb"/>
<rect y="369.30" height="2.40" fill="#f6f1f4"/>
<rect y="370.80" height="2.30" fill="#f4f0f6"/>
<rect y="372.20" height="2.60" fill="#e6deee"/>
<rect y="373.90" height="2.40" fill="#f6edef"/>
<rect y="375.40" height="2.60" fill="#f3c3b8"/>
<rect y="377.10" height="2.90" fill="#f5d1cb"/>
<rect y="379.10" height="2.40" fill="#f5d3ce"/>
<rect y="380.60" height="2.20" fill="#f6dfdd"/>
<rect y="381.90" height="2.20" fill="#f3c2b8"/>
<rect y="383.20" height="2.20" fill="#eee8f2"/>
<rect y="384.50" height="2.30" fill="#e0d7ea"/>
<rect y="385.90" height="2.90" fill="#f6eced"/>
<rect y="387.90" height="2.20" fill="#f6e3e2"/>
<rect y="389.20" height="2.40" fill="#f6ebec"/>
<rect y="390.70" height="2.30" fill="#f5d6d1"/>
<rect y="392.10" height="2.30" fill="#f5d3cd"/>
<rect y="393.50" height="2.10" fill="#f5d5d0"/>
<rect y="394.70" height="2.20" fill="#f6f2f5"/>
<rect y="396.00" height="2.40" fill="#f0b0a0"/>
<rect y="397.50" height="2.60" fill="#f3c2b7"/>
<rect y="399.20" height="2.90" fill="#e17e63"/>
<rect y="401.20" height="2.30" fill="#f1edf4"/>
<rect y="402.60" height="2.10" fill="#f5d4ce"/>
<rect y="403.80" height="2.10" fill="#efaf9f"/>
<rect y="405.00" height="2.20" fill="#f6e9ea"/>
<rect y="406.30" height="2.40" fill="#f2bcaf"/>
<rect y="407.80" height="2.40" fill="#f6eaec"/>
<rect y="409.30" height="2.20" fill="#e7dfee"/>
<rect y="410.60" height="2.20" fill="#f6e8e9"/>
<rect y="411.90" height="2.40" fill="#f6dad6"/>
<rect y="413.40" height="2.20" fill="#f4c9c1"/>
<rect y="414.70" height="2.90" fill="#f6ddd9"/>
<rect y="416.70" height="2.40" fill="#f4cac1"/>
<rect y="418.20" height="2.20" fill="#f6dfdd"/>
<rect y="419.50" height="2.10" fill="#f6e1df"/>
<rect y="420.70" height="2.10" fill="#f3c5bb"/>
<rect y="421.90" height="2.90" fill="#f6e2e0"/>
<rect y="423.90" height="2.40" fill="#eae3f0"/>
<rect y="425.40" height="2.40" fill="#e9e2ef"/>
<rect y="426.90" height="2.10" fill="#f4ccc4"/>
<rect y="428.10" height="2.10" fill="#f6eef1"/>
<rect y="429.30" height="2.20" fill="#f6e0de"/>
<rect y="430.60" height="2.90" fill="#f0b1a2"/>
<rect y="432.60" height="2.20" fill="#f6dcd9"/>
<rect y="433.90" height="2.40" fill="#f5d6d1"/>
<rect y="435.40" height="2.40" fill="#f6ecee"/>
<rect y="436.90" height="2.20" fill="#f6e7e7"/>
<rect y="438.20" height="2.20" fill="#f6e0dd"/>
<rect y="439.50" height="2.20" fill="#f6e9e9"/>
<rect y="440.80" height="2.90" fill="#f6e9ea"/>
<rect y="442.80" height="2.40" fill="#f6f3f7"/>
<rect y="444.30" height="2.10" fill="#f6e9e9"/>
<rect y="445.50" height="1.50" fill="#f1b9ab"/>
<rect y="446.80" height="0.20" fill="#ddd3e9"/>
</g>
<g transform="translate(427.20 0)">
<rect y="175.50" height="2.90" fill="#f5d7d2"/>
<rect y="177.50" height="2.90" fill="#f6eff1"/>
<rect y="179.50" height="2.90" fill="#e7e0ef"/>
<rect y="181.50" height="2.30" fill="#a18ac6"/>
<rect y="182.90" height="2.20" fill="#f1ecf4"/>
<rect y="184.20" height="2.90" fill="#f6ebec"/>
<rect y="186.20" height="2.20" fill="#f4f1f6"/>
<rect y="187.50" height="2.20" fill="#f6e6e6"/>
<rect y="188.80" height="2.90" fill="#c6b6db"/>
<rect y="190.80" height="2.40" fill="#baa8d4"/>
<rect y="192.30" height="2.20" fill="#efaf9f"/>
<rect y="193.60" height="2.20" fill="#cec0e0"/>
<rect y="194.90" height="2.10" fill="#d5c9e4"/>
<rect y="196.10" height="2.60" fill="#c8b9dc"/>
<rect y="197.80" height="2.90" fill="#f3f0f6"/>
<rect y="199.80" height="2.20" fill="#b8a6d3"/>
<rect y="201.10" height="2.10" fill="#b5a2d1"/>
<rect y="202.30" height="2.20" fill="#8367b4"/>
<rect y="203.60" height="2.10" fill="#c8b9dc"/>
<rect y="204.80" height="2.10" fill="#8a70b9"/>
<rect y="206.00" height="2.30" fill="#a089c5"/>
<rect y="207.40" height="2.30" fill="#b7a4d2"/>
<rect y="208.80" height="2.10" fill="#dbd0e7"/>
<rect y="210.00" height="2.90" fill="#c2b1d9"/>
<rect y="212.00" height="2.40" fill="#f6dbd7"/>
<rect y="213.50" height="2.90" fill="#f6e5e5"/>
<rect y="215.50" height="2.30" fill="#f6f1f4"/>
<rect y="216.90" height="2.30" fill="#f6e4e3"/>
<rect y="218.30" height="2.40" fill="#f5d1ca"/>
<rect y="219.80" height="2.90" fill="#e9957f"/>
<rect y="221.80" height="2.10" fill="#eca38f"/>
<rect y="223.00" height="2.20" fill="#efae9e"/>
<rect y="224.30" height="2.90" fill="#ce5030"/>
<rect y="226.30" height="2.40" fill="#c63c1c"/>
<rect y="227.80" height="2.60" fill="#e4856c"/>
<rect y="229.50" height="2.20" fill="#cc4a2a"/>
<rect y="230.80" height="2.40" fill="#de765a"/>
<rect y="232.30" height="2.40" fill="#c63c1c"/>
<rect y="233.80" height="2.30" fill="#de7559"/>
<rect y="235.20" height="2.40" fill="#f1b7a9"/>
<rect y="236.70" height="2.10" fill="#c63c1c"/>
<rect y="237.90" height="2.20" fill="#c94424"/>
<rect y="239.20" height="2.20" fill="#d76446"/>
<rect y="240.50" height="2.60" fill="#e79078"/>
<rect y="242.20" height="2.20" fill="#d66143"/>
<rect y="243.50" height="2.40" fill="#d05333"/>
<rect y="245.00" height="2.60" fill="#dc7154"/>
<rect y="246.70" height="2.20" fill="#dc7255"/>
<rect y="248.00" height="2.10" fill="#e99781"/>
<rect y="249.20" height="2.10" fill="#eb9c88"/>
<rect y="250.40" height="2.30" fill="#dd7256"/>
<rect y="251.80" height="2.30" fill="#de775b"/>
<rect y="253.20" height="2.10" fill="#e68e76"/>
<rect y="254.40" height="2.90" fill="#c63c1c"/>
<rect y="256.40" height="2.60" fill="#e17d62"/>
<rect y="258.10" height="2.60" fill="#f0b3a4"/>
<rect y="259.80" height="2.60" fill="#c63c1c"/>
<rect y="261.50" height="2.20" fill="#e07c61"/>
<rect y="262.80" height="2.30" fill="#c73d1d"/>
<rect y="264.20" height="2.40" fill="#d76445"/>
<rect y="265.70" height="2.40" fill="#f4ccc4"/>
<rect y="267.20" height="2.20" fill="#c63c1c"/>
<rect y="268.50" height="2.40" fill="#e07a5f"/>
<rect y="270.00" height="2.40" fill="#c63c1c"/>
<rect y="271.50" height="2.10" fill="#c63c1c"/>
<rect y="272.70" height="2.60" fill="#efaf9f"/>
<rect y="274.40" height="2.20" fill="#f3c4ba"/>
<rect y="275.70" height="2.20" fill="#e78f77"/>
<rect y="277.00" height="2.30" fill="#c63c1c"/>
<rect y="278.40" height="2.20" fill="#f5d6d1"/>
<rect y="279.70" height="2.10" fill="#eea896"/>
<rect y="280.90" height="2.10" fill="#d25838"/>
<rect y="282.10" height="2.90" fill="#d8cde6"/>
<rect y="284.10" height="2.90" fill="#b29ecf"/>
<rect y="286.10" height="2.20" fill="#ebe5f1"/>
<rect y="287.40" height="2.30" fill="#5b3e9e"/>
<rect y="288.80" height="2.90" fill="#bdacd6"/>
<rect y="290.80" height="2.30" fill="#eb9e8a"/>
<rect y="292.20" height="2.20" fill="#f4f0f6"/>
<rect y="293.50" height="2.60" fill="#947bbe"/>
<rect y="295.20" height="2.60" fill="#957cbf"/>
<rect y="296.90" height="2.20" fill="#f3c1b6"/>
<rect y="298.20" height="2.60" fill="#ddd3e9"/>
<rect y="299.90" height="2.60" fill="#a28bc6"/>
<rect y="301.60" height="2.30" fill="#e1d8eb"/>
<rect y="303.00" height="2.10" fill="#e6dfee"/>
<rect y="304.20" height="2.40" fill="#c9badd"/>
<rect y="305.70" height="2.40" fill="#dfd6ea"/>
<rect y="307.20" height="2.10" fill="#967dbf"/>
<rect y="308.40" height="2.30" fill="#c1b1d8"/>
<rect y="309.80" height="2.20" fill="#e2d9eb"/>
<rect y="311.10" height="2.60" fill="#977ec0"/>
<rect y="312.80" height="2.20" fill="#d1c4e1"/>
<rect y="314.10" height="2.10" fill="#cdbfdf"/>
<rect y="315.30" height="2.20" fill="#6b4ea7"/>
<rect y="316.60" height="2.30" fill="#da6c4e"/>
<rect y="318.00" height="2.90" fill="#f4c6bd"/>
<rect y="320.00" height="2.40" fill="#f6dcd9"/>
<rect y="321.50" height="2.10" fill="#f6d9d4"/>
<rect y="322.70" height="2.40" fill="#f5f2f6"/>
<rect y="324.20" height="2.40" fill="#f3c0b4"/>
<rect y="325.70" height="2.60" fill="#eda693"/>
<rect y="327.40" height="2.20" fill="#f4cdc5"/>
<rect y="328.70" height="2.20" fill="#f6f1f4"/>
<rect y="330.00" height="2.20" fill="#beacd6"/>
<rect y="331.30" height="2.30" fill="#eda491"/>
<rect y="332.70" height="2.30" fill="#f6eff2"/>
<rect y="334.10" height="2.10" fill="#eca38f"/>
<rect y="335.30" height="2.40" fill="#eb9e8a"/>
<rect y="336.80" height="2.40" fill="#eb9e8a"/>
<rect y="338.30" height="2.90" fill="#f3c0b5"/>
<rect y="340.30" height="2.20" fill="#f4c8be"/>
<rect y="341.60" height="2.90" fill="#d15737"/>
<rect y="343.60" height="2.20" fill="#f4c7bd"/>
<rect y="344.90" height="2.60" fill="#f6dbd7"/>
<rect y="346.60" height="2.20" fill="#f6eef0"/>
<rect y="347.90" height="2.20" fill="#f4cdc5"/>
<rect y="349.20" height="2.40" fill="#da6d50"/>
<rect y="350.70" height="2.30" fill="#f1b7a9"/>
<rect y="352.10" height="2.30" fill="#f4ccc4"/>
<rect y="353.50" height="2.30" fill="#f4cdc5"/>
<rect y="354.90" height="2.20" fill="#f6eff1"/>
<rect y="356.20" height="2.30" fill="#f2beb2"/>
<rect y="357.60" height="2.60" fill="#f5d7d2"/>
<rect y="359.30" height="2.90" fill="#f6d9d4"/>
<rect y="361.30" height="2.20" fill="#f5d5d0"/>
<rect y="362.60" height="2.60" fill="#e3daec"/>
<rect y="364.30" height="2.10" fill="#f6f2f7"/>
<rect y="365.50" height="2.20" fill="#f6dcd9"/>
<rect y="366.80" height="2.20" fill="#f3c2b7"/>
<rect y="368.10" height="2.10" fill="#f3c1b6"/>
<rect y="369.30" height="2.40" fill="#f6dad6"/>
<rect y="370.80" height="2.30" fill="#f6f3f7"/>
<rect y="372.20" height="2.60" fill="#f4cac1"/>
<rect y="373.90" height="2.40" fill="#f6e9ea"/>
<rect y="375.40" height="2.60" fill="#f3c5bb"/>
<rect y="377.10" height="2.90" fill="#f5d4ce"/>
<rect y="379.10" height="2.40" fill="#f5cec6"/>
<rect y="380.60" height="2.20" fill="#f6d8d4"/>
<rect y="381.90" height="2.20" fill="#f6dedb"/>
<rect y="383.20" height="2.20" fill="#ece6f1"/>
<rect y="384.50" height="2.30" fill="#e2d9eb"/>
<rect y="385.90" height="2.90" fill="#f2bcaf"/>
<rect y="387.90" height="2.20" fill="#f6e6e5"/>
<rect y="389.20" height="2.40" fill="#f6dedb"/>
<rect y="390.70" height="2.30" fill="#f6e9ea"/>
<rect y="392.10" height="2.30" fill="#f6e6e6"/>
<rect y="393.50" height="2.10" fill="#f6dedb"/>
<rect y="394.70" height="2.20" fill="#f5d7d2"/>
<rect y="396.00" height="2.40" fill="#f3c5bb"/>
<rect y="397.50" height="2.60" fill="#f5d5cf"/>
<rect y="399.20" height="2.90" fill="#f0b1a1"/>
<rect y="401.20" height="2.30" fill="#ddd3e8"/>
<rect y="402.60" height="2.10" fill="#f6dedc"/>
<rect y="403.80" height="2.10" fill="#f2baad"/>
<rect y="405.00" height="2.20" fill="#e4dced"/>
<rect y="406.30" height="2.40" fill="#f5f1f6"/>
<rect y="407.80" height="2.40" fill="#dfd5e9"/>
<rect y="409.30" height="2.20" fill="#f6e2e0"/>
<rect y="410.60" height="2.20" fill="#e2d9eb"/>
<rect y="411.90" height="2.40" fill="#ece6f1"/>
<rect y="413.40" height="2.20" fill="#f6eced"/>
<rect y="414.70" height="2.90" fill="#ede8f2"/>
<rect y="416.70" height="2.40" fill="#f6e9ea"/>
<rect y="418.20" height="2.20" fill="#f1edf4"/>
<rect y="419.50" height="2.10" fill="#f5d6d1"/>
<rect y="420.70" height="2.10" fill="#f6d9d4"/>
<rect y="421.90" height="2.90" fill="#f6f2f7"/>
<rect y="423.90" height="2.40" fill="#d3c6e3"/>
<rect y="425.40" height="2.40" fill="#f3c5ba"/>
<rect y="426.90" height="2.10" fill="#f4ccc5"/>
<rect y="428.10" height="2.10" fill="#f6eaeb"/>
<rect y="429.30" height="2.20" fill="#f1edf4"/>
<rect y="430.60" height="2.90" fill="#f4c8be"/>
<rect y="432.60" height="2.20" fill="#f6ecee"/>
<rect y="433.90" height="2.40" fill="#f6f3f7"/>
<rect y="435.40" height="2.40" fill="#f6f1f4"/>
<rect y="436.90" height="2.20" fill="#f6dbd7"/>
<rect y="438.20" height="2.20" fill="#f6f0f3"/>
<rect y="439.50" height="2.20" fill="#f6e2e0"/>
<rect y="440.80" height="2.90" fill="#ede7f2"/>
<rect y="442.80" height="2.40" fill="#f6e1df"/>
<rect y="444.30" height="2.10" fill="#f6e6e5"/>
<rect y="445.50" height="1.50" fill="#f6e2e1"/>
<rect y="446.80" height="0.20" fill="#e2d9eb"/>
</g>
<g transform="translate(436.31 0)">
<rect y="175.50" height="2.90" fill="#bcaad5"/>
<rect y="177.50" height="2.90" fill="#b29ecf"/>
<rect y="179.50" height="2.90" fill="#cec0e0"/>
<rect y="181.50" height="2.30" fill="#d9cee6"/>
<rect y="182.90" height="2.20" fill="#c4b4da"/>
<rect y="184.20" height="2.90" fill="#b9a7d4"/>
<rect y="186.20" height="2.20" fill="#e2daec"/>
<rect y="187.50" height="2.20" fill="#eb9c87"/>
<rect y="188.80" height="2.90" fill="#3d2390"/>
<rect y="190.80" height="2.40" fill="#b6a3d2"/>
<rect y="192.30" height="2.20" fill="#efaf9f"/>
<rect y="193.60" height="2.20" fill="#ebe5f1"/>
<rect y="194.90" height="2.10" fill="#9d85c3"/>
<rect y="196.10" height="2.60" fill="#f6ecee"/>
<rect y="197.80" height="2.90" fill="#f2edf4"/>
<rect y="199.80" height="2.20" fill="#eae3f0"/>
<rect y="201.10" height="2.10" fill="#886eb7"/>
<rect y="202.30" height="2.20" fill="#d0c3e1"/>
<rect y="203.60" height="2.10" fill="#e99680"/>
<rect y="204.80" height="2.10" fill="#a088c5"/>
<rect y="206.00" height="2.30" fill="#b6a3d2"/>
<rect y="207.40" height="2.30" fill="#a690c9"/>
<rect y="208.80" height="2.10" fill="#7c60b1"/>
<rect y="210.00" height="2.90" fill="#cec1e0"/>
<rect y="212.00" height="2.40" fill="#f6e9e9"/>
<rect y="213.50" height="2.90" fill="#d9cee6"/>
<rect y="215.50" height="2.30" fill="#e3dbec"/>
<rect y="216.90" height="2.30" fill="#b8a6d3"/>
<rect y="218.30" height="2.40" fill="#a893ca"/>
<rect y="219.80" height="2.90" fill="#e4876e"/>
<rect y="221.80" height="2.10" fill="#e4876e"/>
<rect y="223.00" height="2.20" fill="#f4c7bd"/>
<rect y="224.30" height="2.90" fill="#dd7457"/>
<rect y="226.30" height="2.40" fill="#c63c1c"/>
<rect y="227.80" height="2.60" fill="#e28167"/>
<rect y="229.50" height="2.20" fill="#db6e51"/>
<rect y="230.80" height="2.40" fill="#c63c1c"/>
<rect y="232.30" height="2.40" fill="#d05333"/>
<rect y="233.80" height="2.30" fill="#da6b4e"/>
<rect y="235.20" height="2.40" fill="#dd7357"/>
<rect y="236.70" height="2.10" fill="#c63c1c"/>
<rect y="237.90" height="2.20" fill="#c63c1c"/>
<rect y="239.20" height="2.20" fill="#c63c1c"/>
<rect y="240.50" height="2.60" fill="#cf5131"/>
<rect y="242.20" height="2.20" fill="#e78f78"/>
<rect y="243.50" height="2.40" fill="#f0b3a4"/>
<rect y="245.00" height="2.60" fill="#f2bdb1"/>
<rect y="246.70" height="2.20" fill="#e68c73"/>
<rect y="248.00" height="2.10" fill="#f3c1b6"/>
<rect y="249.20" height="2.10" fill="#eca28f"/>
<rect y="250.40" height="2.30" fill="#e99680"/>
<rect y="251.80" height="2.30" fill="#eb9f8b"/>
<rect y="253.20" height="2.10" fill="#e79079"/>
<rect y="254.40" height="2.90" fill="#c94222"/>
<rect y="256.40" height="2.60" fill="#e3856c"/>
<rect y="258.10" height="2.60" fill="#eea897"/>
<rect y="259.80" height="2.60" fill="#e79079"/>
<rect y="261.50" height="2.20" fill="#eea795"/>
<rect y="262.80" height="2.30" fill="#c73e1e"/>
<rect y="264.20" height="2.40" fill="#d45e3f"/>
<rect y="265.70" height="2.40" fill="#eb9e8a"/>
<rect y="267.20" height="2.20" fill="#c63c1c"/>
<rect y="268.50" height="2.40" fill="#e17f64"/>
<rect y="270.00" height="2.40" fill="#c63c1c"/>
<rect y="271.50" height="2.10" fill="#f0b1a1"/>
<rect y="272.70" height="2.60" fill="#eda592"/>
<rect y="274.40" height="2.20" fill="#f2bdb0"/>
<rect y="275.70" height="2.20" fill="#e8947d"/>
<rect y="277.00" height="2.30" fill="#db6e51"/>
<rect y="278.40" height="2.20" fill="#e8e2ef"/>
<rect y="279.70" height="2.10" fill="#f4cbc2"/>
<rect y="280.90" height="2.10" fill="#eca18d"/>
<rect y="282.10" height="2.90" fill="#ddd2e8"/>
<rect y="284.10" height="2.90" fill="#b4a1d1"/>
<rect y="286.10" height="2.20" fill="#f6d8d4"/>
<rect y="287.40" height="2.30" fill="#8f75bb"/>
<rect y="288.80" height="2.90" fill="#7d62b1"/>
<rect y="290.80" height="2.30" fill="#e79078"/>
<rect y="292.20" height="2.20" fill="#dbd0e7"/>
<rect y="293.50" height="2.60" fill="#f0ecf4"/>
<rect y="295.20" height="2.60" fill="#432893"/>
<rect y="296.90" height="2.20" fill="#dacfe7"/>
<rect y="298.20" height="2.60" fill="#f5d6d0"/>
<rect y="299.90" height="2.60" fill="#bcaad5"/>
<rect y="301.60" height="2.30" fill="#9b83c2"/>
<rect y="303.00" height="2.10" fill="#f6e9ea"/>
<rect y="304.20" height="2.40" fill="#ebe5f1"/>
<rect y="305.70" height="2.40" fill="#f2edf4"/>
<rect y="307.20" height="2.10" fill="#9d85c3"/>
<rect y="308.40" height="2.30" fill="#9177bc"/>
<rect y="309.80" height="2.20" fill="#c4b4da"/>
<rect y="311.10" height="2.60" fill="#967ebf"/>
<rect y="312.80" height="2.20" fill="#e4dced"/>
<rect y="314.10" height="2.10" fill="#a892c9"/>
<rect y="315.30" height="2.20" fill="#a48dc7"/>
<rect y="316.60" height="2.30" fill="#f2edf4"/>
<rect y="318.00" height="2.90" fill="#f5cfc7"/>
<rect y="320.00" height="2.40" fill="#f1b6a8"/>
<rect y="321.50" height="2.10" fill="#eca18d"/>
<rect y="322.70" height="2.40" fill="#f2beb2"/>
<rect y="324.20" height="2.40" fill="#eea998"/>
<rect y="325.70" height="2.60" fill="#efaf9f"/>
<rect y="327.40" height="2.20" fill="#f6e5e4"/>
<rect y="328.70" height="2.20" fill="#eea998"/>
<rect y="330.00" height="2.20" fill="#ded5e9"/>
<rect y="331.30" height="2.30" fill="#efaf9e"/>
<rect y="332.70" height="2.30" fill="#e8947e"/>
<rect y="334.10" height="2.10" fill="#f6dcd9"/>
<rect y="335.30" height="2.40" fill="#f6ecee"/>
<rect y="336.80" height="2.40" fill="#f5d1ca"/>
<rect y="338.30" height="2.90" fill="#f0b0a0"/>
<rect y="340.30" height="2.20" fill="#eea795"/>
<rect y="341.60" height="2.90" fill="#f3c0b4"/>
<rect y="343.60" height="2.20" fill="#efad9d"/>
<rect y="344.90" height="2.60" fill="#f4cdc5"/>
<rect y="346.60" height="2.20" fill="#f2edf4"/>
<rect y="347.90" height="2.20" fill="#eea896"/>
<rect y="349.20" height="2.40" fill="#eb9e89"/>
<rect y="350.70" height="2.30" fill="#f6dedb"/>
<rect y="352.10" height="2.30" fill="#f6e3e2"/>
<rect y="353.50" height="2.30" fill="#f6eff2"/>
<rect y="354.90" height="2.20" fill="#ede8f2"/>
<rect y="356.20" height="2.30" fill="#f0b1a1"/>
<rect y="357.60" height="2.60" fill="#f6eced"/>
<rect y="359.30" height="2.90" fill="#f6eef0"/>
<rect y="361.30" height="2.20" fill="#f6eced"/>
<rect y="362.60" height="2.60" fill="#f6dedb"/>
<rect y="364.30" height="2.10" fill="#f4cac1"/>
<rect y="365.50" height="2.20" fill="#f3c3b8"/>
<rect y="366.80" height="2.20" fill="#f6dad7"/>
<rect y="368.10" height="2.10" fill="#ec9f8b"/>
<rect y="369.30" height="2.40" fill="#f4c7bd"/>
<rect y="370.80" height="2.30" fill="#f6f0f3"/>
<rect y="372.20" height="2.60" fill="#f5d5cf"/>
<rect y="373.90" height="2.40" fill="#f5d1cb"/>
<rect y="375.40" height="2.60" fill="#f2bdb1"/>
<rect y="377.10" height="2.90" fill="#f6f1f5"/>
<rect y="379.10" height="2.40" fill="#f6dad6"/>
<rect y="380.60" height="2.20" fill="#f4cac1"/>
<rect y="381.90" height="2.20" fill="#f5d2cb"/>
<rect y="383.20" height="2.20" fill="#f3c4b9"/>
<rect y="384.50" height="2.30" fill="#f6f3f7"/>
<rect y="385.90" height="2.90" fill="#f6eaec"/>
<rect y="387.90" height="2.20" fill="#f4c7be"/>
<rect y="389.20" height="2.40" fill="#f6dad6"/>
<rect y="390.70" height="2.30" fill="#ede7f2"/>
<rect y="392.10" height="2.30" fill="#f5d6d0"/>
<rect y="393.50" height="2.10" fill="#f5cec6"/>
<rect y="394.70" height="2.20" fill="#f3eff5"/>
<rect y="396.00" height="2.40" fill="#f0b1a1"/>
<rect y="397.50" height="2.60" fill="#eea896"/>
<rect y="399.20" height="2.90" fill="#eda592"/>
<rect y="401.20" height="2.30" fill="#f0ebf4"/>
<rect y="402.60" height="2.10" fill="#f5d3cc"/>
<rect y="403.80" height="2.10" fill="#f0b1a2"/>
<rect y="405.00" height="2.20" fill="#f6e6e6"/>
<rect y="406.30" height="2.40" fill="#f4c7bd"/>
<rect y="407.80" height="2.40" fill="#f6eff2"/>
<rect y="409.30" height="2.20" fill="#f6e4e4"/>
<rect y="410.60" height="2.20" fill="#f6e5e4"/>
<rect y="411.90" height="2.40" fill="#f5d4ce"/>
<rect y="413.40" height="2.20" fill="#f0b1a1"/>
<rect y="414.70" height="2.90" fill="#f5d2cb"/>
<rect y="416.70" height="2.40" fill="#f6e7e8"/>
<rect y="418.20" height="2.20" fill="#f6e5e4"/>
<rect y="419.50" height="2.10" fill="#f3bfb4"/>
<rect y="420.70" height="2.10" fill="#efac9b"/>
<rect y="421.90" height="2.90" fill="#f4cdc5"/>
<rect y="423.90" height="2.40" fill="#f6edef"/>
<rect y="425.40" height="2.40" fill="#f5d0c9"/>
<rect y="426.90" height="2.10" fill="#f4c6bc"/>
<rect y="428.10" height="2.10" fill="#e7e0ee"/>
<rect y="429.30" height="2.20" fill="#f6e7e7"/>
<rect y="430.60" height="2.90" fill="#f3c3b8"/>
<rect y="432.60" height="2.20" fill="#f6f0f3"/>
<rect y="433.90" height="2.40" fill="#f6e7e7"/>
<rect y="435.40" height="2.40" fill="#f6e4e3"/>
<rect y="436.90" height="2.20" fill="#f6dfdd"/>
<rect y="438.20" height="2.20" fill="#f6e7e8"/>
<rect y="439.50" height="2.20" fill="#f6e5e5"/>
<rect y="440.80" height="2.90" fill="#f6e7e7"/>
<rect y="442.80" height="2.40" fill="#f6dad6"/>
<rect y="444.30" height="2.10" fill="#f5cec7"/>
<rect y="445.50" height="1.50" fill="#f5d8d3"/>
<rect y="446.80" height="0.20" fill="#f6eced"/>
</g>
<g transform="translate(445.42 0)">
<rect y="175.50" height="2.90" fill="#684ba5"/>
<rect y="177.50" height="2.90" fill="#9076bc"/>
<rect y="179.50" height="2.90" fill="#beacd6"/>
<rect y="181.50" height="2.30" fill="#a48dc7"/>
<rect y="182.90" height="2.20" fill="#a58ec8"/>
<rect y="184.20" height="2.90" fill="#b19dcf"/>
<rect y="186.20" height="2.20" fill="#bfaed7"/>
<rect y="187.50" height="2.20" fill="#e8937d"/>
<rect y="188.80" height="2.90" fill="#8469b5"/>
<rect y="190.80" height="2.40" fill="#d6cae4"/>
<rect y="192.30" height="2.20" fill="#ec9f8b"/>
<rect y="193.60" height="2.20" fill="#c8b8dc"/>
<rect y="194.90" height="2.10" fill="#eae4f0"/>
<rect y="196.10" height="2.60" fill="#c4b4da"/>
<rect y="197.80" height="2.90" fill="#e3daec"/>
<rect y="199.80" height="2.20" fill="#a892c9"/>
<rect y="201.10" height="2.10" fill="#a690c8"/>
<rect y="202.30" height="2.20" fill="#c3b2d9"/>
<rect y="203.60" height="2.10" fill="#d7cce5"/>
<rect y="204.80" height="2.10" fill="#9b83c2"/>
<rect y="206.00" height="2.30" fill="#9c84c3"/>
<rect y="207.40" height="2.30" fill="#cfc1e0"/>
<rect y="208.80" height="2.10" fill="#dacfe7"/>
<rect y="210.00" height="2.90" fill="#e5dded"/>
<rect y="212.00" height="2.40" fill="#e7e0ee"/>
<rect y="213.50" height="2.90" fill="#d4c8e3"/>
<rect y="215.50" height="2.30" fill="#f3c4b9"/>
<rect y="216.90" height="2.30" fill="#bdacd6"/>
<rect y="218.30" height="2.40" fill="#f6e1df"/>
<rect y="219.80" height="2.90" fill="#f6e0de"/>
<rect y="221.80" height="2.10" fill="#f6e2e0"/>
<rect y="223.00" height="2.20" fill="#efac9b"/>
<rect y="224.30" height="2.90" fill="#e58a71"/>
<rect y="226.30" height="2.40" fill="#c63c1c"/>
<rect y="227.80" height="2.60" fill="#db7052"/>
<rect y="229.50" height="2.20" fill="#d76445"/>
<rect y="230.80" height="2.40" fill="#eea897"/>
<rect y="232.30" height="2.40" fill="#f0b0a0"/>
<rect y="233.80" height="2.30" fill="#e07c61"/>
<rect y="235.20" height="2.40" fill="#ea9b86"/>
<rect y="236.70" height="2.10" fill="#d96a4c"/>
<rect y="237.90" height="2.20" fill="#f0b2a3"/>
<rect y="239.20" height="2.20" fill="#f4c8bf"/>
<rect y="240.50" height="2.60" fill="#d9694b"/>
<rect y="242.20" height="2.20" fill="#f5cfc8"/>
<rect y="243.50" height="2.40" fill="#e17f64"/>
<rect y="245.00" height="2.60" fill="#d55f40"/>
<rect y="246.70" height="2.20" fill="#f2beb2"/>
<rect y="248.00" height="2.10" fill="#f1b6a8"/>
<rect y="249.20" height="2.10" fill="#eea896"/>
<rect y="250.40" height="2.30" fill="#d66143"/>
<rect y="251.80" height="2.30" fill="#f5d8d3"/>
<rect y="253.20" height="2.10" fill="#f0b0a0"/>
<rect y="254.40" height="2.90" fill="#d86648"/>
<rect y="256.40" height="2.60" fill="#efaf9f"/>
<rect y="258.10" height="2.60" fill="#eea795"/>
<rect y="259.80" height="2.60" fill="#f0b1a2"/>
<rect y="261.50" height="2.20" fill="#f6dedc"/>
<rect y="262.80" height="2.30" fill="#e58970"/>
<rect y="264.20" height="2.40" fill="#e38268"/>
<rect y="265.70" height="2.40" fill="#eb9c87"/>
<rect y="267.20" height="2.20" fill="#c63c1c"/>
<rect y="268.50" height="2.40" fill="#f0b4a5"/>
<rect y="270.00" height="2.40" fill="#eb9e89"/>
<rect y="271.50" height="2.10" fill="#cd4e2e"/>
<rect y="272.70" height="2.60" fill="#f6dbd8"/>
<rect y="274.40" height="2.20" fill="#d9694c"/>
<rect y="275.70" height="2.20" fill="#f2bbae"/>
<rect y="277.00" height="2.30" fill="#e68d75"/>
<rect y="278.40" height="2.20" fill="#e4dbec"/>
<rect y="279.70" height="2.10" fill="#f4ccc4"/>
<rect y="280.90" height="2.10" fill="#db6e51"/>
<rect y="282.10" height="2.90" fill="#ac97cc"/>
<rect y="284.10" height="2.90" fill="#d3c7e3"/>
<rect y="286.10" height="2.20" fill="#ebe5f1"/>
<rect y="287.40" height="2.30" fill="#7458ac"/>
<rect y="288.80" height="2.90" fill="#eee9f2"/>
<rect y="290.80" height="2.30" fill="#f2bcaf"/>
<rect y="292.20" height="2.20" fill="#dbd0e7"/>
<rect y="293.50" height="2.60" fill="#d4c7e3"/>
<rect y="295.20" height="2.60" fill="#cabbdd"/>
<rect y="296.90" height="2.20" fill="#d6cae4"/>
<rect y="298.20" height="2.60" fill="#f1ecf4"/>
<rect y="299.90" height="2.60" fill="#7559ad"/>
<rect y="301.60" height="2.30" fill="#e4dbec"/>
<rect y="303.00" height="2.10" fill="#f6f2f5"/>
<rect y="304.20" height="2.40" fill="#f5d8d3"/>
<rect y="305.70" height="2.40" fill="#aa94cb"/>
<rect y="307.20" height="2.10" fill="#7356ab"/>
<rect y="308.40" height="2.30" fill="#bba9d5"/>
<rect y="309.80" height="2.20" fill="#dfd5ea"/>
<rect y="311.10" height="2.60" fill="#896fb8"/>
<rect y="312.80" height="2.20" fill="#987fc0"/>
<rect y="314.10" height="2.10" fill="#8266b4"/>
<rect y="315.30" height="2.20" fill="#8267b4"/>
<rect y="316.60" height="2.30" fill="#f4ccc4"/>
<rect y="318.00" height="2.90" fill="#e68d75"/>
<rect y="320.00" height="2.40" fill="#eda693"/>
<rect y="321.50" height="2.10" fill="#f2beb2"/>
<rect y="322.70" height="2.40" fill="#f6eaeb"/>
<rect y="324.20" height="2.40" fill="#f3c2b8"/>
<rect y="325.70" height="2.60" fill="#f0b0a0"/>
<rect y="327.40" height="2.20" fill="#f4ccc4"/>
<rect y="328.70" height="2.20" fill="#f1b9ab"/>
<rect y="330.00" height="2.20" fill="#f6e3e2"/>
<rect y="331.30" height="2.30" fill="#ea9983"/>
<rect y="332.70" height="2.30" fill="#efab9a"/>
<rect y="334.10" height="2.10" fill="#f1b5a7"/>
<rect y="335.30" height="2.40" fill="#eda593"/>
<rect y="336.80" height="2.40" fill="#e4876d"/>
<rect y="338.30" height="2.90" fill="#eb9d89"/>
<rect y="340.30" height="2.20" fill="#f3bfb4"/>
<rect y="341.60" height="2.90" fill="#f1b9ac"/>
<rect y="343.60" height="2.20" fill="#eea897"/>
<rect y="344.90" height="2.60" fill="#f0b3a4"/>
<rect y="346.60" height="2.20" fill="#f3c5ba"/>
<rect y="347.90" height="2.20" fill="#f6dbd7"/>
<rect y="349.20" height="2.40" fill="#eda593"/>
<rect y="350.70" height="2.30" fill="#f4c6bc"/>
<rect y="352.10" height="2.30" fill="#e28066"/>
<rect y="353.50" height="2.30" fill="#f4cbc3"/>
<rect y="354.90" height="2.20" fill="#f6dad5"/>
<rect y="356.20" height="2.30" fill="#f5cec6"/>
<rect y="357.60" height="2.60" fill="#f5f2f6"/>
<rect y="359.30" height="2.90" fill="#f2bcb0"/>
<rect y="361.30" height="2.20" fill="#e6dfee"/>
<rect y="362.60" height="2.60" fill="#f6dfdd"/>
<rect y="364.30" height="2.10" fill="#f4ccc4"/>
<rect y="365.50" height="2.20" fill="#f5d8d3"/>
<rect y="366.80" height="2.20" fill="#f5d0c9"/>
<rect y="368.10" height="2.10" fill="#f2beb1"/>
<rect y="369.30" height="2.40" fill="#f6dbd7"/>
<rect y="370.80" height="2.30" fill="#f6f0f2"/>
<rect y="372.20" height="2.60" fill="#f6d9d4"/>
<rect y="373.90" height="2.40" fill="#f6e0de"/>
<rect y="375.40" height="2.60" fill="#f6dfdd"/>
<rect y="377.10" height="2.90" fill="#efebf3"/>
<rect y="379.10" height="2.40" fill="#f6e7e7"/>
<rect y="380.60" height="2.20" fill="#f5d6d1"/>
<rect y="381.90" height="2.20" fill="#ede7f2"/>
<rect y="383.20" height="2.20" fill="#f6eaeb"/>
<rect y="384.50" height="2.30" fill="#f4f0f6"/>
<rect y="385.90" height="2.90" fill="#f6eaeb"/>
<rect y="387.90" height="2.20" fill="#f5d3cd"/>
<rect y="389.20" height="2.40" fill="#f5d7d3"/>
<rect y="390.70" height="2.30" fill="#f6f0f2"/>
<rect y="392.10" height="2.30" fill="#f6ecee"/>
<rect y="393.50" height="2.10" fill="#f5d1cb"/>
<rect y="394.70" height="2.20" fill="#f6e7e7"/>
<rect y="396.00" height="2.40" fill="#f6e1e0"/>
<rect y="397.50" height="2.60" fill="#f6e2e0"/>
<rect y="399.20" height="2.90" fill="#e79078"/>
<rect y="401.20" height="2.30" fill="#e4dcec"/>
<rect y="402.60" height="2.10" fill="#f6ebec"/>
<rect y="403.80" height="2.10" fill="#f2baad"/>
<rect y="405.00" height="2.20" fill="#ded4e9"/>
<rect y="406.30" height="2.40" fill="#f5d8d3"/>
<rect y="407.80" height="2.40" fill="#ece6f1"/>
<rect y="409.30" height="2.20" fill="#f5f1f6"/>
<rect y="410.60" height="2.20" fill="#f2eef5"/>
<rect y="411.90" height="2.40" fill="#f6e7e7"/>
<rect y="413.40" height="2.20" fill="#f4c9bf"/>
<rect y="414.70" height="2.90" fill="#f1ecf4"/>
<rect y="416.70" height="2.40" fill="#f5cec7"/>
<rect y="418.20" height="2.20" fill="#f6dfdd"/>
<rect y="419.50" height="2.10" fill="#f6edef"/>
<rect y="420.70" height="2.10" fill="#f6e4e3"/>
<rect y="421.90" height="2.90" fill="#e3daec"/>
<rect y="423.90" height="2.40" fill="#f2edf4"/>
<rect y="425.40" height="2.40" fill="#f0b2a2"/>
<rect y="426.90" height="2.10" fill="#f5d2cc"/>
<rect y="428.10" height="2.10" fill="#f6f2f5"/>
<rect y="429.30" height="2.20" fill="#ebe5f1"/>
<rect y="430.60" height="2.90" fill="#f2baac"/>
<rect y="432.60" height="2.20" fill="#f6dcd8"/>
<rect y="433.90" height="2.40" fill="#f6dad6"/>
<rect y="435.40" height="2.40" fill="#f3c0b5"/>
<rect y="436.90" height="2.20" fill="#f5d1cb"/>
<rect y="438.20" height="2.20" fill="#ded4e9"/>
<rect y="439.50" height="2.20" fill="#f6dedc"/>
<rect y="440.80" height="2.90" fill="#e0d7ea"/>
<rect y="442.80" height="2.40" fill="#f6f2f5"/>
<rect y="444.30" height="2.10" fill="#f3eff5"/>
<rect y="445.50" height="1.50" fill="#f5d3cd"/>
<rect y="446.80" height="0.20" fill="#ccbedf"/>
</g>
<g transform="translate(454.53 0)" class="lc">
<rect y="175.50" height="2.90" fill="#dfd6ea"/>
<rect y="177.50" height="2.90" fill="#f6e3e2"/>
<rect y="179.50" height="2.90" fill="#c2b1d9"/>
<rect y="181.50" height="2.30" fill="#f5f1f6"/>
<rect y="182.90" height="2.20" fill="#f5cec6"/>
<rect y="184.20" height="2.90" fill="#f1b4a6"/>
<rect y="186.20" height="2.20" fill="#eae4f0"/>
<rect y="187.50" height="2.20" fill="#e79078"/>
<rect y="188.80" height="2.90" fill="#b6a2d2"/>
<rect y="190.80" height="2.40" fill="#f5d6d0"/>
<rect y="192.30" height="2.20" fill="#e8927b"/>
<rect y="193.60" height="2.20" fill="#f6dcd9"/>
<rect y="194.90" height="2.10" fill="#c4b4da"/>
<rect y="196.10" height="2.60" fill="#dfd5e9"/>
<rect y="197.80" height="2.90" fill="#ded4e9"/>
<rect y="199.80" height="2.20" fill="#e4dced"/>
<rect y="201.10" height="2.10" fill="#937abe"/>
<rect y="202.30" height="2.20" fill="#bcabd6"/>
<rect y="203.60" height="2.10" fill="#f5f1f6"/>
<rect y="204.80" height="2.10" fill="#7b60b0"/>
<rect y="206.00" height="2.30" fill="#bdabd6"/>
<rect y="207.40" height="2.30" fill="#f6e2e0"/>
<rect y="208.80" height="2.10" fill="#f6e2e1"/>
<rect y="210.00" height="2.90" fill="#f1ecf4"/>
<rect y="212.00" height="2.40" fill="#f5d6d1"/>
<rect y="213.50" height="2.90" fill="#cec1e0"/>
<rect y="215.50" height="2.30" fill="#b7a4d2"/>
<rect y="216.90" height="2.30" fill="#f0b1a1"/>
<rect y="218.30" height="2.40" fill="#bfaed7"/>
<rect y="219.80" height="2.90" fill="#f5d1cb"/>
<rect y="221.80" height="2.10" fill="#f6d8d4"/>
<rect y="223.00" height="2.20" fill="#f2eef5"/>
<rect y="224.30" height="2.90" fill="#df7a5e"/>
<rect y="226.30" height="2.40" fill="#c63c1c"/>
<rect y="227.80" height="2.60" fill="#e99882"/>
<rect y="229.50" height="2.20" fill="#c84121"/>
<rect y="230.80" height="2.40" fill="#eda693"/>
<rect y="232.30" height="2.40" fill="#d25738"/>
<rect y="233.80" height="2.30" fill="#d15636"/>
<rect y="235.20" height="2.40" fill="#f2bcaf"/>
<rect y="236.70" height="2.10" fill="#db6d50"/>
<rect y="237.90" height="2.20" fill="#c73e1e"/>
<rect y="239.20" height="2.20" fill="#e99680"/>
<rect y="240.50" height="2.60" fill="#d35a3b"/>
<rect y="242.20" height="2.20" fill="#d25838"/>
<rect y="243.50" height="2.40" fill="#d8684a"/>
<rect y="245.00" height="2.60" fill="#d45e3f"/>
<rect y="246.70" height="2.20" fill="#efae9d"/>
<rect y="248.00" height="2.10" fill="#e4876d"/>
<rect y="249.20" height="2.10" fill="#f5d0c9"/>
<rect y="250.40" height="2.30" fill="#e4866d"/>
<rect y="251.80" height="2.30" fill="#f6e6e6"/>
<rect y="253.20" height="2.10" fill="#da6b4d"/>
<rect y="254.40" height="2.90" fill="#e4866c"/>
<rect y="256.40" height="2.60" fill="#d8684a"/>
<rect y="258.10" height="2.60" fill="#f4c7be"/>
<rect y="259.80" height="2.60" fill="#dc7154"/>
<rect y="261.50" height="2.20" fill="#f0b1a1"/>
<rect y="262.80" height="2.30" fill="#cb4727"/>
<rect y="264.20" height="2.40" fill="#d15637"/>
<rect y="265.70" height="2.40" fill="#eb9d88"/>
<rect y="267.20" height="2.20" fill="#c63c1c"/>
<rect y="268.50" height="2.40" fill="#f5f2f7"/>
<rect y="270.00" height="2.40" fill="#ce5030"/>
<rect y="271.50" height="2.10" fill="#c63c1c"/>
<rect y="272.70" height="2.60" fill="#e58970"/>
<rect y="274.40" height="2.20" fill="#f2beb2"/>
<rect y="275.70" height="2.20" fill="#d56041"/>
<rect y="277.00" height="2.30" fill="#f5d7d2"/>
<rect y="278.40" height="2.20" fill="#f6e1df"/>
<rect y="279.70" height="2.10" fill="#f6e7e7"/>
<rect y="280.90" height="2.10" fill="#c63c1c"/>
<rect y="282.10" height="2.90" fill="#9a82c2"/>
<rect y="284.10" height="2.90" fill="#f6e3e2"/>
<rect y="286.10" height="2.20" fill="#d3c7e3"/>
<rect y="287.40" height="2.30" fill="#7a5eaf"/>
<rect y="288.80" height="2.90" fill="#9b83c2"/>
<rect y="290.80" height="2.30" fill="#f2beb2"/>
<rect y="292.20" height="2.20" fill="#d7cce5"/>
<rect y="293.50" height="2.60" fill="#d7cbe5"/>
<rect y="295.20" height="2.60" fill="#7b5fb0"/>
<rect y="296.90" height="2.20" fill="#f5d2cc"/>
<rect y="298.20" height="2.60" fill="#f5d4ce"/>
<rect y="299.90" height="2.60" fill="#bba9d5"/>
<rect y="301.60" height="2.30" fill="#f6e8e9"/>
<rect y="303.00" height="2.10" fill="#f2eef5"/>
<rect y="304.20" height="2.40" fill="#cdbfdf"/>
<rect y="305.70" height="2.40" fill="#beacd6"/>
<rect y="307.20" height="2.10" fill="#7f64b2"/>
<rect y="308.40" height="2.30" fill="#d0c3e1"/>
<rect y="309.80" height="2.20" fill="#d0c3e1"/>
<rect y="311.10" height="2.60" fill="#8367b4"/>
<rect y="312.80" height="2.20" fill="#c1b0d8"/>
<rect y="314.10" height="2.10" fill="#c6b6db"/>
<rect y="315.30" height="2.20" fill="#775aad"/>
<rect y="316.60" height="2.30" fill="#e8917a"/>
<rect y="318.00" height="2.90" fill="#f5d7d2"/>
<rect y="320.00" height="2.40" fill="#f2beb1"/>
<rect y="321.50" height="2.10" fill="#f3c0b5"/>
<rect y="322.70" height="2.40" fill="#f1b6a8"/>
<rect y="324.20" height="2.40" fill="#e28066"/>
<rect y="325.70" height="2.60" fill="#e4876e"/>
<rect y="327.40" height="2.20" fill="#f6e5e5"/>
<rect y="328.70" height="2.20" fill="#f6f2f5"/>
<rect y="330.00" height="2.20" fill="#cdbfdf"/>
<rect y="331.30" height="2.30" fill="#f5d6d1"/>
<rect y="332.70" height="2.30" fill="#f3c5ba"/>
<rect y="334.10" height="2.10" fill="#f2bdb1"/>
<rect y="335.30" height="2.40" fill="#d25838"/>
<rect y="336.80" height="2.40" fill="#eea896"/>
<rect y="338.30" height="2.90" fill="#eda491"/>
<rect y="340.30" height="2.20" fill="#f0b3a4"/>
<rect y="341.60" height="2.90" fill="#f1b6a7"/>
<rect y="343.60" height="2.20" fill="#f2b9ac"/>
<rect y="344.90" height="2.60" fill="#eb9d89"/>
<rect y="346.60" height="2.20" fill="#f4c7bd"/>
<rect y="347.90" height="2.20" fill="#eeaa99"/>
<rect y="349.20" height="2.40" fill="#dd7457"/>
<rect y="350.70" height="2.30" fill="#f3c5ba"/>
<rect y="352.10" height="2.30" fill="#eb9f8b"/>
<rect y="353.50" height="2.30" fill="#eb9c87"/>
<rect y="354.90" height="2.20" fill="#f2baad"/>
<rect y="356.20" height="2.30" fill="#efae9e"/>
<rect y="357.60" height="2.60" fill="#f5d8d3"/>
<rect y="359.30" height="2.90" fill="#f5d2cb"/>
<rect y="361.30" height="2.20" fill="#f6dcd8"/>
<rect y="362.60" height="2.60" fill="#f2eef5"/>
<rect y="364.30" height="2.10" fill="#efe9f3"/>
<rect y="365.50" height="2.20" fill="#f4c9c0"/>
<rect y="366.80" height="2.20" fill="#f5d6d0"/>
<rect y="368.10" height="2.10" fill="#f2baad"/>
<rect y="369.30" height="2.40" fill="#f6ebed"/>
<rect y="370.80" height="2.30" fill="#e1d8eb"/>
<rect y="372.20" height="2.60" fill="#e4dcec"/>
<rect y="373.90" height="2.40" fill="#f2edf4"/>
<rect y="375.40" height="2.60" fill="#f5d1ca"/>
<rect y="377.10" height="2.90" fill="#f6e2e1"/>
<rect y="379.10" height="2.40" fill="#f6f1f5"/>
<rect y="380.60" height="2.20" fill="#f6dad6"/>
<rect y="381.90" height="2.20" fill="#f6dad6"/>
<rect y="383.20" height="2.20" fill="#eee9f2"/>
<rect y="384.50" height="2.30" fill="#e2d9eb"/>
<rect y="385.90" height="2.90" fill="#f6e5e5"/>
<rect y="387.90" height="2.20" fill="#f6e8e9"/>
<rect y="389.20" height="2.40" fill="#f6f2f6"/>
<rect y="390.70" height="2.30" fill="#ece6f1"/>
<rect y="392.10" height="2.30" fill="#f6edf0"/>
<rect y="393.50" height="2.10" fill="#f6eced"/>
<rect y="394.70" height="2.20" fill="#e8e0ef"/>
<rect y="396.00" height="2.40" fill="#f6e8e9"/>
<rect y="397.50" height="2.60" fill="#f5d5cf"/>
<rect y="399.20" height="2.90" fill="#ea9a85"/>
<rect y="401.20" height="2.30" fill="#e6dfee"/>
<rect y="402.60" height="2.10" fill="#f5d2cc"/>
<rect y="403.80" height="2.10" fill="#f5d2cb"/>
<rect y="405.00" height="2.20" fill="#f5d4ce"/>
<rect y="406.30" height="2.40" fill="#f5d1cb"/>
<rect y="407.80" height="2.40" fill="#d8cde6"/>
<rect y="409.30" height="2.20" fill="#f6e7e7"/>
<rect y="410.60" height="2.20" fill="#eee8f2"/>
<rect y="411.90" height="2.40" fill="#f6d9d5"/>
<rect y="413.40" height="2.20" fill="#f2bcaf"/>
<rect y="414.70" height="2.90" fill="#e6dfee"/>
<rect y="416.70" height="2.40" fill="#f6ddda"/>
<rect y="418.20" height="2.20" fill="#e1d8eb"/>
<rect y="419.50" height="2.10" fill="#e4dced"/>
<rect y="420.70" height="2.10" fill="#f5cec7"/>
<rect y="421.90" height="2.90" fill="#f6e5e5"/>
<rect y="423.90" height="2.40" fill="#e4dded"/>
<rect y="425.40" height="2.40" fill="#f6eef0"/>
<rect y="426.90" height="2.10" fill="#f6e9ea"/>
<rect y="428.10" height="2.10" fill="#e5dded"/>
<rect y="429.30" height="2.20" fill="#f3eff5"/>
<rect y="430.60" height="2.90" fill="#f4c7be"/>
<rect y="432.60" height="2.20" fill="#f5d4cf"/>
<rect y="433.90" height="2.40" fill="#f6e7e7"/>
<rect y="435.40" height="2.40" fill="#f6e3e1"/>
<rect y="436.90" height="2.20" fill="#f6dcd9"/>
<rect y="438.20" height="2.20" fill="#f6ebed"/>
<rect y="439.50" height="2.20" fill="#f4cac1"/>
<rect y="440.80" height="2.90" fill="#e8e2ef"/>
<rect y="442.80" height="2.40" fill="#f6e4e3"/>
<rect y="444.30" height="2.10" fill="#f4ccc4"/>
<rect y="445.50" height="1.50" fill="#f6ebec"/>
<rect y="446.80" height="0.20" fill="#e2d9eb"/>
</g>
</g>
<text transform="translate(251.86 450.8) rotate(-90)" text-anchor="end" font-size="6.4">M732</text>
<text transform="translate(260.97 450.8) rotate(-90)" text-anchor="end" font-size="6.4">M726</text>
<text transform="translate(270.07 450.8) rotate(-90)" text-anchor="end" font-size="6.4">M725</text>
<text transform="translate(279.19 450.8) rotate(-90)" text-anchor="end" font-size="6.4">M729</text>
<text transform="translate(288.30 450.8) rotate(-90)" text-anchor="end" font-size="6.4">M753</text>
<text transform="translate(297.41 450.8) rotate(-90)" text-anchor="end" font-size="6.4">MM9</text>
<text transform="translate(306.51 450.8) rotate(-90)" text-anchor="end" font-size="6.4">MM5</text>
<text transform="translate(315.62 450.8) rotate(-90)" text-anchor="end" font-size="6.4">M735</text>
<text transform="translate(324.74 450.8) rotate(-90)" text-anchor="end" font-size="6.4">MM3</text>
<text transform="translate(333.84 450.8) rotate(-90)" text-anchor="end" font-size="6.4">M730</text>
<text transform="translate(342.95 450.8) rotate(-90)" text-anchor="end" font-size="6.4">M724</text>
<text transform="translate(352.06 450.8) rotate(-90)" text-anchor="end" font-size="6.4">M759</text>
<text transform="translate(361.18 450.8) rotate(-90)" text-anchor="end" font-size="6.4">M717</text>
<text transform="translate(370.29 450.8) rotate(-90)" text-anchor="end" font-size="6.4">M731</text>
<text transform="translate(379.40 450.8) rotate(-90)" text-anchor="end" font-size="6.4">M720</text>
<text transform="translate(388.50 450.8) rotate(-90)" text-anchor="end" font-size="6.4">MM8</text>
<text transform="translate(397.62 450.8) rotate(-90)" text-anchor="end" font-size="6.4">MM1</text>
<text transform="translate(406.72 450.8) rotate(-90)" text-anchor="end" font-size="6.4">MM4</text>
<text transform="translate(415.83 450.8) rotate(-90)" text-anchor="end" font-size="6.4">MM2</text>
<text transform="translate(424.94 450.8) rotate(-90)" text-anchor="end" font-size="6.4">M740</text>
<text transform="translate(434.06 450.8) rotate(-90)" text-anchor="end" font-size="6.4">M690</text>
<text transform="translate(443.17 450.8) rotate(-90)" text-anchor="end" font-size="6.4">M742</text>
<text transform="translate(452.28 450.8) rotate(-90)" text-anchor="end" font-size="6.4">M727</text>
<text transform="translate(461.38 450.8) rotate(-90)" text-anchor="end" font-size="6.4">M737</text>
<defs><linearGradient id="cb" x1="0" y1="0" x2="0" y2="1">
<stop offset="0.000" stop-color="#d0532a"/>
<stop offset="0.050" stop-color="#d0532a"/>
<stop offset="0.100" stop-color="#d7633d"/>
<stop offset="0.150" stop-color="#df7654"/>
<stop offset="0.200" stop-color="#e5896a"/>
<stop offset="0.250" stop-color="#eb9b82"/>
<stop offset="0.300" stop-color="#f0ad99"/>
<stop offset="0.350" stop-color="#f3c0b1"/>
<stop offset="0.400" stop-color="#f6d2ca"/>
<stop offset="0.450" stop-color="#f6e4e3"/>
<stop offset="0.500" stop-color="#f2edf4"/>
<stop offset="0.550" stop-color="#ddd3e9"/>
<stop offset="0.600" stop-color="#c9badd"/>
<stop offset="0.650" stop-color="#b5a1d1"/>
<stop offset="0.700" stop-color="#a089c5"/>
<stop offset="0.750" stop-color="#8b71b9"/>
<stop offset="0.800" stop-color="#765aad"/>
<stop offset="0.850" stop-color="#6043a1"/>
<stop offset="0.900" stop-color="#482c95"/>
<stop offset="0.950" stop-color="#3d2390"/>
<stop offset="1.000" stop-color="#3d2390"/>
</linearGradient></defs>
<rect x="468.0" y="186.0" width="8.8" height="42.8" fill="url(#cb)"/>
<path d="M468.0 188.5h1.6M476.8 188.5h-1.6" stroke="#fff" stroke-width="0.7"/>
<text x="479.8" y="190.8" font-size="6.4">4</text>
<path d="M468.0 197.8h1.6M476.8 197.8h-1.6" stroke="#fff" stroke-width="0.7"/>
<text x="479.8" y="200.1" font-size="6.4">2</text>
<path d="M468.0 207.1h1.6M476.8 207.1h-1.6" stroke="#fff" stroke-width="0.7"/>
<text x="479.8" y="209.4" font-size="6.4">0</text>
<path d="M468.0 216.2h1.6M476.8 216.2h-1.6" stroke="#fff" stroke-width="0.7"/>
<text x="479.8" y="218.5" font-size="6.4">−2</text>
<path d="M468.0 225.4h1.6M476.8 225.4h-1.6" stroke="#fff" stroke-width="0.7"/>
<text x="479.8" y="227.7" font-size="6.4">−4</text>
<rect x="468" y="237.10" width="8.4" height="8.2" fill="#efcde3"/>
<text x="479.6" y="243.50" font-size="6.4">c1</text>
<rect x="468" y="246.86" width="8.4" height="8.2" fill="#2d4a86"/>
<text x="479.6" y="253.26" font-size="6.4">c2</text>
<rect x="468" y="256.62" width="8.4" height="8.2" fill="#b7d59c"/>
<text x="479.6" y="263.02" font-size="6.4">c3</text>
<rect x="468" y="266.38" width="8.4" height="8.2" fill="#e3961d"/>
<text x="479.6" y="272.78" font-size="6.4">c4</text>
<rect x="468" y="276.14" width="8.4" height="8.2" fill="#2e6443"/>
<text x="479.6" y="282.54" font-size="6.4">c5</text>
<rect x="468" y="285.90" width="8.4" height="8.2" fill="#dde7f6"/>
<text x="479.6" y="292.30" font-size="6.4">Absence</text>
<rect x="468" y="295.66" width="8.4" height="8.2" fill="#66a83c"/>
<text x="479.6" y="302.06" font-size="6.4">Presence</text>
<rect x="468" y="305.42" width="8.4" height="8.2" fill="#fcefd3"/>
<text x="479.6" y="311.82" font-size="6.4">WT</text>
<rect x="468" y="315.18" width="8.4" height="8.2" fill="#a5002a"/>
<text x="479.6" y="321.58" font-size="6.4">MUT</text>
<rect x="468" y="324.94" width="8.4" height="8.2" fill="#e3961d"/>
<text x="479.6" y="331.34" font-size="6.4">PIs</text>
<rect x="468" y="334.70" width="8.4" height="8.2" fill="#69abe1"/>
<text x="479.6" y="341.10" font-size="6.4">IMiDs</text>
<rect x="468" y="344.46" width="8.4" height="8.2" fill="#69abe1"/>
<path d="M468 344.46H476.4V352.66Z" fill="#e3961d"/>
<text x="479.6" y="350.86" font-size="6.4">PIs/IMiDs</text>
<rect x="468" y="354.22" width="8.4" height="8.2" fill="#c7c4c9"/>
<text x="479.6" y="360.62" font-size="6.4">NA</text>
<text x="7.1" y="17.6" font-size="12.0" font-weight="bold" fill="#000" stroke="#000" stroke-width="0.35">A</text>
<text x="233.8" y="17.3" font-size="11.7" font-weight="bold" fill="#000" stroke="#000" stroke-width="0.35">B</text>
<rect x="0.65" y="0.65" width="518.7" height="473.7" fill="none" stroke="#000" stroke-width="1.3"/>
</svg></body></html>
